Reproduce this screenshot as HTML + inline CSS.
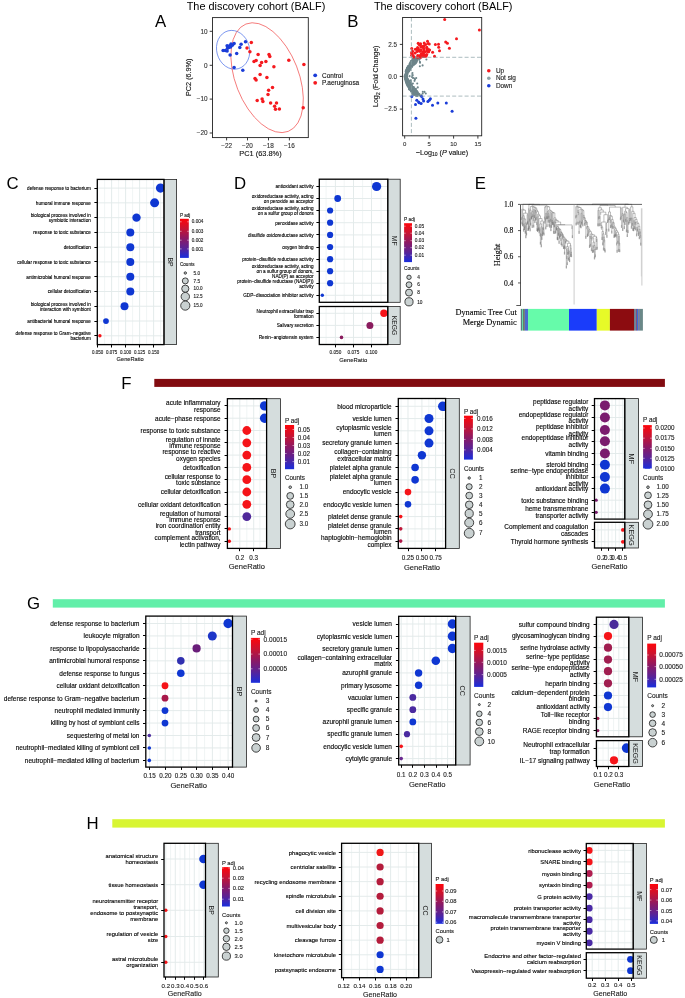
<!DOCTYPE html><html><head><meta charset="utf-8"><style>html,body{margin:0;padding:0;background:#fff;}svg{display:block;}</style></head><body><svg width="685" height="998" viewBox="0 0 685 998" style="will-change:transform"><rect x="0" y="0" width="685" height="998" fill="#fff"/>
<text x="154.90" y="27.10" font-size="16.80" text-anchor="start" fill="#000" font-family="Liberation Sans" >A</text>
<text x="186.70" y="9.90" font-size="10.90" text-anchor="start" fill="#000" font-family="Liberation Sans" >The discovery cohort (BALF)</text>
<ellipse cx="233.1" cy="49.8" rx="16.4" ry="19.6" transform="rotate(-15 233.1 49.8)" fill="none" stroke="#3a62e6" stroke-width="0.6"/>
<ellipse cx="267.1" cy="77.7" rx="57.7" ry="31.6" transform="rotate(68.5 267.1 77.7)" fill="none" stroke="#f03a3a" stroke-width="0.6"/>
<circle cx="251.30" cy="42.50" r="1.75" fill="#f5191e" stroke="none" stroke-width="0.5"/>
<circle cx="247.00" cy="48.00" r="1.75" fill="#f5191e" stroke="none" stroke-width="0.5"/>
<circle cx="249.90" cy="51.80" r="1.75" fill="#f5191e" stroke="none" stroke-width="0.5"/>
<circle cx="258.10" cy="54.50" r="1.75" fill="#f5191e" stroke="none" stroke-width="0.5"/>
<circle cx="269.00" cy="54.50" r="1.75" fill="#f5191e" stroke="none" stroke-width="0.5"/>
<circle cx="269.80" cy="56.40" r="1.75" fill="#f5191e" stroke="none" stroke-width="0.5"/>
<circle cx="254.00" cy="61.50" r="1.75" fill="#f5191e" stroke="none" stroke-width="0.5"/>
<circle cx="256.10" cy="60.60" r="1.75" fill="#f5191e" stroke="none" stroke-width="0.5"/>
<circle cx="261.60" cy="62.60" r="1.75" fill="#f5191e" stroke="none" stroke-width="0.5"/>
<circle cx="265.90" cy="61.50" r="1.75" fill="#f5191e" stroke="none" stroke-width="0.5"/>
<circle cx="260.10" cy="65.50" r="1.75" fill="#f5191e" stroke="none" stroke-width="0.5"/>
<circle cx="273.90" cy="66.70" r="1.75" fill="#f5191e" stroke="none" stroke-width="0.5"/>
<circle cx="288.80" cy="60.30" r="1.75" fill="#f5191e" stroke="none" stroke-width="0.5"/>
<circle cx="303.90" cy="64.60" r="1.75" fill="#f5191e" stroke="none" stroke-width="0.5"/>
<circle cx="260.10" cy="74.50" r="1.75" fill="#f5191e" stroke="none" stroke-width="0.5"/>
<circle cx="255.00" cy="78.40" r="1.75" fill="#f5191e" stroke="none" stroke-width="0.5"/>
<circle cx="256.10" cy="80.10" r="1.75" fill="#f5191e" stroke="none" stroke-width="0.5"/>
<circle cx="266.90" cy="77.60" r="1.75" fill="#f5191e" stroke="none" stroke-width="0.5"/>
<circle cx="272.50" cy="87.40" r="1.75" fill="#f5191e" stroke="none" stroke-width="0.5"/>
<circle cx="268.60" cy="90.30" r="1.75" fill="#f5191e" stroke="none" stroke-width="0.5"/>
<circle cx="268.00" cy="94.40" r="1.75" fill="#f5191e" stroke="none" stroke-width="0.5"/>
<circle cx="257.20" cy="100.40" r="1.75" fill="#f5191e" stroke="none" stroke-width="0.5"/>
<circle cx="262.10" cy="98.90" r="1.75" fill="#f5191e" stroke="none" stroke-width="0.5"/>
<circle cx="262.90" cy="101.40" r="1.75" fill="#f5191e" stroke="none" stroke-width="0.5"/>
<circle cx="270.60" cy="103.00" r="1.75" fill="#f5191e" stroke="none" stroke-width="0.5"/>
<circle cx="276.50" cy="103.00" r="1.75" fill="#f5191e" stroke="none" stroke-width="0.5"/>
<circle cx="274.60" cy="106.30" r="1.75" fill="#f5191e" stroke="none" stroke-width="0.5"/>
<circle cx="275.50" cy="109.20" r="1.75" fill="#f5191e" stroke="none" stroke-width="0.5"/>
<circle cx="279.40" cy="109.00" r="1.75" fill="#f5191e" stroke="none" stroke-width="0.5"/>
<circle cx="303.20" cy="107.80" r="1.75" fill="#f5191e" stroke="none" stroke-width="0.5"/>
<circle cx="223.10" cy="50.50" r="1.75" fill="#1a3cd8" stroke="none" stroke-width="0.5"/>
<circle cx="225.30" cy="50.50" r="1.75" fill="#1a3cd8" stroke="none" stroke-width="0.5"/>
<circle cx="227.10" cy="50.90" r="1.75" fill="#1a3cd8" stroke="none" stroke-width="0.5"/>
<circle cx="227.50" cy="48.30" r="1.75" fill="#1a3cd8" stroke="none" stroke-width="0.5"/>
<circle cx="227.10" cy="45.70" r="1.75" fill="#1a3cd8" stroke="none" stroke-width="0.5"/>
<circle cx="228.80" cy="47.40" r="1.75" fill="#1a3cd8" stroke="none" stroke-width="0.5"/>
<circle cx="229.70" cy="45.70" r="1.75" fill="#1a3cd8" stroke="none" stroke-width="0.5"/>
<circle cx="231.00" cy="43.90" r="1.75" fill="#1a3cd8" stroke="none" stroke-width="0.5"/>
<circle cx="232.30" cy="45.20" r="1.75" fill="#1a3cd8" stroke="none" stroke-width="0.5"/>
<circle cx="234.10" cy="43.50" r="1.75" fill="#1a3cd8" stroke="none" stroke-width="0.5"/>
<circle cx="230.60" cy="47.00" r="1.75" fill="#1a3cd8" stroke="none" stroke-width="0.5"/>
<circle cx="230.10" cy="54.90" r="1.75" fill="#1a3cd8" stroke="none" stroke-width="0.5"/>
<circle cx="236.70" cy="53.50" r="1.75" fill="#1a3cd8" stroke="none" stroke-width="0.5"/>
<circle cx="239.80" cy="47.40" r="1.75" fill="#1a3cd8" stroke="none" stroke-width="0.5"/>
<circle cx="241.10" cy="44.30" r="1.75" fill="#1a3cd8" stroke="none" stroke-width="0.5"/>
<circle cx="245.50" cy="41.70" r="1.75" fill="#1a3cd8" stroke="none" stroke-width="0.5"/>
<circle cx="234.10" cy="67.40" r="1.75" fill="#1a3cd8" stroke="none" stroke-width="0.5"/>
<circle cx="242.80" cy="70.20" r="1.75" fill="#1a3cd8" stroke="none" stroke-width="0.5"/>
<rect x="212.50" y="17.60" width="95.80" height="120.00" fill="none" stroke="#222" stroke-width="0.9" />
<line x1="209.70" y1="31.30" x2="212.50" y2="31.30" stroke="#222" stroke-width="0.9" />
<text x="207.50" y="33.50" font-size="6.40" text-anchor="end" fill="#333" font-family="Liberation Sans" stroke="#333" stroke-width="0.12" >10</text>
<line x1="209.70" y1="65.30" x2="212.50" y2="65.30" stroke="#222" stroke-width="0.9" />
<text x="207.50" y="67.50" font-size="6.40" text-anchor="end" fill="#333" font-family="Liberation Sans" stroke="#333" stroke-width="0.12" >0</text>
<line x1="209.70" y1="99.10" x2="212.50" y2="99.10" stroke="#222" stroke-width="0.9" />
<text x="207.50" y="101.30" font-size="6.40" text-anchor="end" fill="#333" font-family="Liberation Sans" stroke="#333" stroke-width="0.12" >−10</text>
<line x1="209.70" y1="133.00" x2="212.50" y2="133.00" stroke="#222" stroke-width="0.9" />
<text x="207.50" y="135.20" font-size="6.40" text-anchor="end" fill="#333" font-family="Liberation Sans" stroke="#333" stroke-width="0.12" >−20</text>
<line x1="226.60" y1="137.60" x2="226.60" y2="140.40" stroke="#222" stroke-width="0.9" />
<text x="226.60" y="147.80" font-size="6.40" text-anchor="middle" fill="#333" font-family="Liberation Sans" stroke="#333" stroke-width="0.12" >−22</text>
<line x1="247.50" y1="137.60" x2="247.50" y2="140.40" stroke="#222" stroke-width="0.9" />
<text x="247.50" y="147.80" font-size="6.40" text-anchor="middle" fill="#333" font-family="Liberation Sans" stroke="#333" stroke-width="0.12" >−20</text>
<line x1="268.50" y1="137.60" x2="268.50" y2="140.40" stroke="#222" stroke-width="0.9" />
<text x="268.50" y="147.80" font-size="6.40" text-anchor="middle" fill="#333" font-family="Liberation Sans" stroke="#333" stroke-width="0.12" >−18</text>
<line x1="289.40" y1="137.60" x2="289.40" y2="140.40" stroke="#222" stroke-width="0.9" />
<text x="289.40" y="147.80" font-size="6.40" text-anchor="middle" fill="#333" font-family="Liberation Sans" stroke="#333" stroke-width="0.12" >−16</text>
<text x="260.50" y="156.20" font-size="7.40" text-anchor="middle" fill="#111" font-family="Liberation Sans" stroke="#111" stroke-width="0.12" >PC1 (63.8%)</text>
<text x="0" y="0" font-size="7.25" text-anchor="middle" fill="#111" stroke="#111" stroke-width="0.12" font-family="Liberation Sans" transform="translate(191.2 77.3) rotate(-90)">PC2 (6.9%)</text>
<circle cx="315.20" cy="75.30" r="1.90" fill="#1a3cd8" stroke="none" stroke-width="0.5"/>
<circle cx="315.20" cy="82.80" r="1.90" fill="#f5191e" stroke="none" stroke-width="0.5"/>
<text x="322.10" y="77.70" font-size="6.45" text-anchor="start" fill="#111" font-family="Liberation Sans" stroke="#111" stroke-width="0.12" >Control</text>
<text x="322.10" y="84.70" font-size="6.45" text-anchor="start" fill="#111" font-family="Liberation Sans" stroke="#111" stroke-width="0.12" >P.aeruginosa</text>
<text x="347.20" y="27.10" font-size="16.80" text-anchor="start" fill="#000" font-family="Liberation Sans" >B</text>
<text x="373.90" y="9.90" font-size="10.90" text-anchor="start" fill="#000" font-family="Liberation Sans" >The discovery cohort (BALF)</text>
<circle cx="406.78" cy="83.25" r="1.05" fill="#6e858a" stroke="none" stroke-width="0.5"/>
<circle cx="415.69" cy="93.02" r="1.05" fill="#6e858a" stroke="none" stroke-width="0.5"/>
<circle cx="422.69" cy="93.59" r="1.05" fill="#6e858a" stroke="none" stroke-width="0.5"/>
<circle cx="412.67" cy="93.12" r="1.05" fill="#6e858a" stroke="none" stroke-width="0.5"/>
<circle cx="409.89" cy="63.69" r="1.05" fill="#6e858a" stroke="none" stroke-width="0.5"/>
<circle cx="408.79" cy="71.45" r="1.05" fill="#6e858a" stroke="none" stroke-width="0.5"/>
<circle cx="408.35" cy="80.42" r="1.05" fill="#6e858a" stroke="none" stroke-width="0.5"/>
<circle cx="411.77" cy="62.46" r="1.05" fill="#6e858a" stroke="none" stroke-width="0.5"/>
<circle cx="412.61" cy="91.26" r="1.05" fill="#6e858a" stroke="none" stroke-width="0.5"/>
<circle cx="412.30" cy="88.81" r="1.05" fill="#6e858a" stroke="none" stroke-width="0.5"/>
<circle cx="407.41" cy="81.36" r="1.05" fill="#6e858a" stroke="none" stroke-width="0.5"/>
<circle cx="413.82" cy="93.52" r="1.05" fill="#6e858a" stroke="none" stroke-width="0.5"/>
<circle cx="405.88" cy="79.22" r="1.05" fill="#6e858a" stroke="none" stroke-width="0.5"/>
<circle cx="405.58" cy="78.22" r="1.05" fill="#6e858a" stroke="none" stroke-width="0.5"/>
<circle cx="407.58" cy="68.66" r="1.05" fill="#6e858a" stroke="none" stroke-width="0.5"/>
<circle cx="406.71" cy="75.42" r="1.05" fill="#6e858a" stroke="none" stroke-width="0.5"/>
<circle cx="411.10" cy="84.64" r="1.05" fill="#6e858a" stroke="none" stroke-width="0.5"/>
<circle cx="407.27" cy="79.58" r="1.05" fill="#6e858a" stroke="none" stroke-width="0.5"/>
<circle cx="404.79" cy="76.83" r="1.05" fill="#6e858a" stroke="none" stroke-width="0.5"/>
<circle cx="410.65" cy="66.11" r="1.05" fill="#6e858a" stroke="none" stroke-width="0.5"/>
<circle cx="409.20" cy="83.64" r="1.05" fill="#6e858a" stroke="none" stroke-width="0.5"/>
<circle cx="406.37" cy="73.29" r="1.05" fill="#6e858a" stroke="none" stroke-width="0.5"/>
<circle cx="415.88" cy="59.11" r="1.05" fill="#6e858a" stroke="none" stroke-width="0.5"/>
<circle cx="417.30" cy="93.48" r="1.05" fill="#6e858a" stroke="none" stroke-width="0.5"/>
<circle cx="420.43" cy="57.23" r="1.05" fill="#6e858a" stroke="none" stroke-width="0.5"/>
<circle cx="414.52" cy="80.84" r="1.05" fill="#6e858a" stroke="none" stroke-width="0.5"/>
<circle cx="409.99" cy="89.31" r="1.05" fill="#6e858a" stroke="none" stroke-width="0.5"/>
<circle cx="408.49" cy="65.97" r="1.05" fill="#6e858a" stroke="none" stroke-width="0.5"/>
<circle cx="408.13" cy="80.64" r="1.05" fill="#6e858a" stroke="none" stroke-width="0.5"/>
<circle cx="406.26" cy="78.38" r="1.05" fill="#6e858a" stroke="none" stroke-width="0.5"/>
<circle cx="413.91" cy="63.99" r="1.05" fill="#6e858a" stroke="none" stroke-width="0.5"/>
<circle cx="406.15" cy="79.69" r="1.05" fill="#6e858a" stroke="none" stroke-width="0.5"/>
<circle cx="414.01" cy="58.60" r="1.05" fill="#6e858a" stroke="none" stroke-width="0.5"/>
<circle cx="409.02" cy="86.82" r="1.05" fill="#6e858a" stroke="none" stroke-width="0.5"/>
<circle cx="412.45" cy="72.93" r="1.05" fill="#6e858a" stroke="none" stroke-width="0.5"/>
<circle cx="407.53" cy="81.48" r="1.05" fill="#6e858a" stroke="none" stroke-width="0.5"/>
<circle cx="408.55" cy="68.99" r="1.05" fill="#6e858a" stroke="none" stroke-width="0.5"/>
<circle cx="406.39" cy="69.55" r="1.05" fill="#6e858a" stroke="none" stroke-width="0.5"/>
<circle cx="412.66" cy="65.51" r="1.05" fill="#6e858a" stroke="none" stroke-width="0.5"/>
<circle cx="406.59" cy="80.58" r="1.05" fill="#6e858a" stroke="none" stroke-width="0.5"/>
<circle cx="405.82" cy="71.18" r="1.05" fill="#6e858a" stroke="none" stroke-width="0.5"/>
<circle cx="409.21" cy="87.72" r="1.05" fill="#6e858a" stroke="none" stroke-width="0.5"/>
<circle cx="412.58" cy="93.80" r="1.05" fill="#6e858a" stroke="none" stroke-width="0.5"/>
<circle cx="424.47" cy="91.90" r="1.05" fill="#6e858a" stroke="none" stroke-width="0.5"/>
<circle cx="405.86" cy="71.96" r="1.05" fill="#6e858a" stroke="none" stroke-width="0.5"/>
<circle cx="407.20" cy="82.33" r="1.05" fill="#6e858a" stroke="none" stroke-width="0.5"/>
<circle cx="415.73" cy="62.83" r="1.05" fill="#6e858a" stroke="none" stroke-width="0.5"/>
<circle cx="404.90" cy="77.03" r="1.05" fill="#6e858a" stroke="none" stroke-width="0.5"/>
<circle cx="406.91" cy="82.52" r="1.05" fill="#6e858a" stroke="none" stroke-width="0.5"/>
<circle cx="409.60" cy="89.56" r="1.05" fill="#6e858a" stroke="none" stroke-width="0.5"/>
<circle cx="405.09" cy="75.30" r="1.05" fill="#6e858a" stroke="none" stroke-width="0.5"/>
<circle cx="417.36" cy="94.79" r="1.05" fill="#6e858a" stroke="none" stroke-width="0.5"/>
<circle cx="414.44" cy="62.27" r="1.05" fill="#6e858a" stroke="none" stroke-width="0.5"/>
<circle cx="406.18" cy="81.58" r="1.05" fill="#6e858a" stroke="none" stroke-width="0.5"/>
<circle cx="406.59" cy="75.13" r="1.05" fill="#6e858a" stroke="none" stroke-width="0.5"/>
<circle cx="412.24" cy="87.17" r="1.05" fill="#6e858a" stroke="none" stroke-width="0.5"/>
<circle cx="414.73" cy="62.69" r="1.05" fill="#6e858a" stroke="none" stroke-width="0.5"/>
<circle cx="408.34" cy="67.07" r="1.05" fill="#6e858a" stroke="none" stroke-width="0.5"/>
<circle cx="411.00" cy="82.02" r="1.05" fill="#6e858a" stroke="none" stroke-width="0.5"/>
<circle cx="410.59" cy="85.76" r="1.05" fill="#6e858a" stroke="none" stroke-width="0.5"/>
<circle cx="407.28" cy="78.45" r="1.05" fill="#6e858a" stroke="none" stroke-width="0.5"/>
<circle cx="415.47" cy="58.71" r="1.05" fill="#6e858a" stroke="none" stroke-width="0.5"/>
<circle cx="408.95" cy="87.02" r="1.05" fill="#6e858a" stroke="none" stroke-width="0.5"/>
<circle cx="408.55" cy="71.58" r="1.05" fill="#6e858a" stroke="none" stroke-width="0.5"/>
<circle cx="406.16" cy="77.20" r="1.05" fill="#6e858a" stroke="none" stroke-width="0.5"/>
<circle cx="416.09" cy="92.54" r="1.05" fill="#6e858a" stroke="none" stroke-width="0.5"/>
<circle cx="412.08" cy="65.42" r="1.05" fill="#6e858a" stroke="none" stroke-width="0.5"/>
<circle cx="413.56" cy="88.90" r="1.05" fill="#6e858a" stroke="none" stroke-width="0.5"/>
<circle cx="413.87" cy="64.70" r="1.05" fill="#6e858a" stroke="none" stroke-width="0.5"/>
<circle cx="408.16" cy="80.23" r="1.05" fill="#6e858a" stroke="none" stroke-width="0.5"/>
<circle cx="409.99" cy="89.23" r="1.05" fill="#6e858a" stroke="none" stroke-width="0.5"/>
<circle cx="416.68" cy="60.66" r="1.05" fill="#6e858a" stroke="none" stroke-width="0.5"/>
<circle cx="414.83" cy="63.71" r="1.05" fill="#6e858a" stroke="none" stroke-width="0.5"/>
<circle cx="407.83" cy="82.22" r="1.05" fill="#6e858a" stroke="none" stroke-width="0.5"/>
<circle cx="421.25" cy="95.29" r="1.05" fill="#6e858a" stroke="none" stroke-width="0.5"/>
<circle cx="406.86" cy="75.37" r="1.05" fill="#6e858a" stroke="none" stroke-width="0.5"/>
<circle cx="415.55" cy="61.95" r="1.05" fill="#6e858a" stroke="none" stroke-width="0.5"/>
<circle cx="408.85" cy="86.05" r="1.05" fill="#6e858a" stroke="none" stroke-width="0.5"/>
<circle cx="405.88" cy="73.04" r="1.05" fill="#6e858a" stroke="none" stroke-width="0.5"/>
<circle cx="415.97" cy="90.74" r="1.05" fill="#6e858a" stroke="none" stroke-width="0.5"/>
<circle cx="406.24" cy="78.03" r="1.05" fill="#6e858a" stroke="none" stroke-width="0.5"/>
<circle cx="407.69" cy="79.49" r="1.05" fill="#6e858a" stroke="none" stroke-width="0.5"/>
<circle cx="412.72" cy="75.16" r="1.05" fill="#6e858a" stroke="none" stroke-width="0.5"/>
<circle cx="408.95" cy="88.72" r="1.05" fill="#6e858a" stroke="none" stroke-width="0.5"/>
<circle cx="411.94" cy="89.14" r="1.05" fill="#6e858a" stroke="none" stroke-width="0.5"/>
<circle cx="405.74" cy="74.20" r="1.05" fill="#6e858a" stroke="none" stroke-width="0.5"/>
<circle cx="406.92" cy="74.24" r="1.05" fill="#6e858a" stroke="none" stroke-width="0.5"/>
<circle cx="405.57" cy="74.06" r="1.05" fill="#6e858a" stroke="none" stroke-width="0.5"/>
<circle cx="410.53" cy="65.81" r="1.05" fill="#6e858a" stroke="none" stroke-width="0.5"/>
<circle cx="412.22" cy="66.29" r="1.05" fill="#6e858a" stroke="none" stroke-width="0.5"/>
<circle cx="407.01" cy="72.02" r="1.05" fill="#6e858a" stroke="none" stroke-width="0.5"/>
<circle cx="408.33" cy="68.91" r="1.05" fill="#6e858a" stroke="none" stroke-width="0.5"/>
<circle cx="406.81" cy="77.25" r="1.05" fill="#6e858a" stroke="none" stroke-width="0.5"/>
<circle cx="416.47" cy="61.76" r="1.05" fill="#6e858a" stroke="none" stroke-width="0.5"/>
<circle cx="407.41" cy="74.09" r="1.05" fill="#6e858a" stroke="none" stroke-width="0.5"/>
<circle cx="410.86" cy="90.51" r="1.05" fill="#6e858a" stroke="none" stroke-width="0.5"/>
<circle cx="413.63" cy="93.02" r="1.05" fill="#6e858a" stroke="none" stroke-width="0.5"/>
<circle cx="409.16" cy="69.81" r="1.05" fill="#6e858a" stroke="none" stroke-width="0.5"/>
<circle cx="413.94" cy="89.84" r="1.05" fill="#6e858a" stroke="none" stroke-width="0.5"/>
<circle cx="415.36" cy="90.28" r="1.05" fill="#6e858a" stroke="none" stroke-width="0.5"/>
<circle cx="413.08" cy="87.30" r="1.05" fill="#6e858a" stroke="none" stroke-width="0.5"/>
<circle cx="406.79" cy="76.90" r="1.05" fill="#6e858a" stroke="none" stroke-width="0.5"/>
<circle cx="412.02" cy="89.56" r="1.05" fill="#6e858a" stroke="none" stroke-width="0.5"/>
<circle cx="406.70" cy="82.66" r="1.05" fill="#6e858a" stroke="none" stroke-width="0.5"/>
<circle cx="407.02" cy="67.76" r="1.05" fill="#6e858a" stroke="none" stroke-width="0.5"/>
<circle cx="404.96" cy="78.71" r="1.05" fill="#6e858a" stroke="none" stroke-width="0.5"/>
<circle cx="407.22" cy="71.58" r="1.05" fill="#6e858a" stroke="none" stroke-width="0.5"/>
<circle cx="419.83" cy="57.54" r="1.05" fill="#6e858a" stroke="none" stroke-width="0.5"/>
<circle cx="422.79" cy="91.77" r="1.05" fill="#6e858a" stroke="none" stroke-width="0.5"/>
<circle cx="407.67" cy="85.33" r="1.05" fill="#6e858a" stroke="none" stroke-width="0.5"/>
<circle cx="417.02" cy="60.40" r="1.05" fill="#6e858a" stroke="none" stroke-width="0.5"/>
<circle cx="415.35" cy="90.03" r="1.05" fill="#6e858a" stroke="none" stroke-width="0.5"/>
<circle cx="406.94" cy="68.61" r="1.05" fill="#6e858a" stroke="none" stroke-width="0.5"/>
<circle cx="408.12" cy="69.08" r="1.05" fill="#6e858a" stroke="none" stroke-width="0.5"/>
<circle cx="416.79" cy="59.36" r="1.05" fill="#6e858a" stroke="none" stroke-width="0.5"/>
<circle cx="417.46" cy="92.58" r="1.05" fill="#6e858a" stroke="none" stroke-width="0.5"/>
<circle cx="412.91" cy="62.30" r="1.05" fill="#6e858a" stroke="none" stroke-width="0.5"/>
<circle cx="407.25" cy="74.34" r="1.05" fill="#6e858a" stroke="none" stroke-width="0.5"/>
<circle cx="413.63" cy="90.82" r="1.05" fill="#6e858a" stroke="none" stroke-width="0.5"/>
<circle cx="411.92" cy="91.58" r="1.05" fill="#6e858a" stroke="none" stroke-width="0.5"/>
<circle cx="410.19" cy="88.00" r="1.05" fill="#6e858a" stroke="none" stroke-width="0.5"/>
<circle cx="409.10" cy="66.31" r="1.05" fill="#6e858a" stroke="none" stroke-width="0.5"/>
<circle cx="415.93" cy="88.92" r="1.05" fill="#6e858a" stroke="none" stroke-width="0.5"/>
<circle cx="419.39" cy="95.24" r="1.05" fill="#6e858a" stroke="none" stroke-width="0.5"/>
<circle cx="411.43" cy="88.47" r="1.05" fill="#6e858a" stroke="none" stroke-width="0.5"/>
<circle cx="416.33" cy="91.71" r="1.05" fill="#6e858a" stroke="none" stroke-width="0.5"/>
<circle cx="406.38" cy="76.59" r="1.05" fill="#6e858a" stroke="none" stroke-width="0.5"/>
<circle cx="406.10" cy="76.14" r="1.05" fill="#6e858a" stroke="none" stroke-width="0.5"/>
<circle cx="409.06" cy="82.52" r="1.05" fill="#6e858a" stroke="none" stroke-width="0.5"/>
<circle cx="407.06" cy="71.11" r="1.05" fill="#6e858a" stroke="none" stroke-width="0.5"/>
<circle cx="413.45" cy="93.73" r="1.05" fill="#6e858a" stroke="none" stroke-width="0.5"/>
<circle cx="408.50" cy="67.03" r="1.05" fill="#6e858a" stroke="none" stroke-width="0.5"/>
<circle cx="417.33" cy="92.56" r="1.05" fill="#6e858a" stroke="none" stroke-width="0.5"/>
<circle cx="407.20" cy="69.77" r="1.05" fill="#6e858a" stroke="none" stroke-width="0.5"/>
<circle cx="408.68" cy="84.45" r="1.05" fill="#6e858a" stroke="none" stroke-width="0.5"/>
<circle cx="405.56" cy="78.51" r="1.05" fill="#6e858a" stroke="none" stroke-width="0.5"/>
<circle cx="417.49" cy="58.02" r="1.05" fill="#6e858a" stroke="none" stroke-width="0.5"/>
<circle cx="415.45" cy="58.29" r="1.05" fill="#6e858a" stroke="none" stroke-width="0.5"/>
<circle cx="417.26" cy="95.80" r="1.05" fill="#6e858a" stroke="none" stroke-width="0.5"/>
<circle cx="405.10" cy="76.29" r="1.05" fill="#6e858a" stroke="none" stroke-width="0.5"/>
<circle cx="416.20" cy="95.65" r="1.05" fill="#6e858a" stroke="none" stroke-width="0.5"/>
<circle cx="410.78" cy="80.31" r="1.05" fill="#6e858a" stroke="none" stroke-width="0.5"/>
<circle cx="410.79" cy="86.79" r="1.05" fill="#6e858a" stroke="none" stroke-width="0.5"/>
<circle cx="410.69" cy="66.66" r="1.05" fill="#6e858a" stroke="none" stroke-width="0.5"/>
<circle cx="413.03" cy="61.66" r="1.05" fill="#6e858a" stroke="none" stroke-width="0.5"/>
<circle cx="414.94" cy="57.55" r="1.05" fill="#6e858a" stroke="none" stroke-width="0.5"/>
<circle cx="405.87" cy="70.83" r="1.05" fill="#6e858a" stroke="none" stroke-width="0.5"/>
<circle cx="415.01" cy="61.16" r="1.05" fill="#6e858a" stroke="none" stroke-width="0.5"/>
<circle cx="409.60" cy="64.26" r="1.05" fill="#6e858a" stroke="none" stroke-width="0.5"/>
<circle cx="406.37" cy="76.23" r="1.05" fill="#6e858a" stroke="none" stroke-width="0.5"/>
<circle cx="412.54" cy="63.71" r="1.05" fill="#6e858a" stroke="none" stroke-width="0.5"/>
<circle cx="409.11" cy="69.29" r="1.05" fill="#6e858a" stroke="none" stroke-width="0.5"/>
<circle cx="414.26" cy="94.63" r="1.05" fill="#6e858a" stroke="none" stroke-width="0.5"/>
<circle cx="416.49" cy="91.76" r="1.05" fill="#6e858a" stroke="none" stroke-width="0.5"/>
<circle cx="407.68" cy="71.43" r="1.05" fill="#6e858a" stroke="none" stroke-width="0.5"/>
<circle cx="404.72" cy="76.82" r="1.05" fill="#6e858a" stroke="none" stroke-width="0.5"/>
<circle cx="409.87" cy="66.75" r="1.05" fill="#6e858a" stroke="none" stroke-width="0.5"/>
<circle cx="406.18" cy="70.21" r="1.05" fill="#6e858a" stroke="none" stroke-width="0.5"/>
<circle cx="407.78" cy="86.03" r="1.05" fill="#6e858a" stroke="none" stroke-width="0.5"/>
<circle cx="408.02" cy="67.48" r="1.05" fill="#6e858a" stroke="none" stroke-width="0.5"/>
<circle cx="417.21" cy="57.90" r="1.05" fill="#6e858a" stroke="none" stroke-width="0.5"/>
<circle cx="406.23" cy="77.22" r="1.05" fill="#6e858a" stroke="none" stroke-width="0.5"/>
<circle cx="407.54" cy="71.85" r="1.05" fill="#6e858a" stroke="none" stroke-width="0.5"/>
<circle cx="411.37" cy="90.11" r="1.05" fill="#6e858a" stroke="none" stroke-width="0.5"/>
<circle cx="411.92" cy="84.00" r="1.05" fill="#6e858a" stroke="none" stroke-width="0.5"/>
<circle cx="410.23" cy="85.39" r="1.05" fill="#6e858a" stroke="none" stroke-width="0.5"/>
<circle cx="407.33" cy="69.57" r="1.05" fill="#6e858a" stroke="none" stroke-width="0.5"/>
<circle cx="405.88" cy="77.77" r="1.05" fill="#6e858a" stroke="none" stroke-width="0.5"/>
<circle cx="412.26" cy="61.09" r="1.05" fill="#6e858a" stroke="none" stroke-width="0.5"/>
<circle cx="412.35" cy="59.44" r="1.05" fill="#6e858a" stroke="none" stroke-width="0.5"/>
<circle cx="414.52" cy="63.96" r="1.05" fill="#6e858a" stroke="none" stroke-width="0.5"/>
<circle cx="408.08" cy="85.39" r="1.05" fill="#6e858a" stroke="none" stroke-width="0.5"/>
<circle cx="411.40" cy="87.65" r="1.05" fill="#6e858a" stroke="none" stroke-width="0.5"/>
<circle cx="406.87" cy="75.46" r="1.05" fill="#6e858a" stroke="none" stroke-width="0.5"/>
<circle cx="411.91" cy="63.95" r="1.05" fill="#6e858a" stroke="none" stroke-width="0.5"/>
<circle cx="407.61" cy="68.49" r="1.05" fill="#6e858a" stroke="none" stroke-width="0.5"/>
<circle cx="412.01" cy="76.94" r="1.05" fill="#6e858a" stroke="none" stroke-width="0.5"/>
<circle cx="405.61" cy="78.31" r="1.05" fill="#6e858a" stroke="none" stroke-width="0.5"/>
<circle cx="407.08" cy="82.47" r="1.05" fill="#6e858a" stroke="none" stroke-width="0.5"/>
<circle cx="420.10" cy="95.77" r="1.05" fill="#6e858a" stroke="none" stroke-width="0.5"/>
<circle cx="416.50" cy="91.17" r="1.05" fill="#6e858a" stroke="none" stroke-width="0.5"/>
<circle cx="413.11" cy="60.79" r="1.05" fill="#6e858a" stroke="none" stroke-width="0.5"/>
<circle cx="408.50" cy="80.56" r="1.05" fill="#6e858a" stroke="none" stroke-width="0.5"/>
<circle cx="407.20" cy="81.82" r="1.05" fill="#6e858a" stroke="none" stroke-width="0.5"/>
<circle cx="413.45" cy="93.96" r="1.05" fill="#6e858a" stroke="none" stroke-width="0.5"/>
<circle cx="410.97" cy="84.73" r="1.05" fill="#6e858a" stroke="none" stroke-width="0.5"/>
<circle cx="409.56" cy="85.51" r="1.05" fill="#6e858a" stroke="none" stroke-width="0.5"/>
<circle cx="408.80" cy="81.32" r="1.05" fill="#6e858a" stroke="none" stroke-width="0.5"/>
<circle cx="412.35" cy="64.27" r="1.05" fill="#6e858a" stroke="none" stroke-width="0.5"/>
<circle cx="416.27" cy="59.27" r="1.05" fill="#6e858a" stroke="none" stroke-width="0.5"/>
<circle cx="417.97" cy="93.92" r="1.05" fill="#6e858a" stroke="none" stroke-width="0.5"/>
<circle cx="410.68" cy="66.58" r="1.05" fill="#6e858a" stroke="none" stroke-width="0.5"/>
<circle cx="419.39" cy="93.94" r="1.05" fill="#6e858a" stroke="none" stroke-width="0.5"/>
<circle cx="405.54" cy="77.48" r="1.05" fill="#6e858a" stroke="none" stroke-width="0.5"/>
<circle cx="411.89" cy="67.11" r="1.05" fill="#6e858a" stroke="none" stroke-width="0.5"/>
<circle cx="407.02" cy="70.33" r="1.05" fill="#6e858a" stroke="none" stroke-width="0.5"/>
<circle cx="405.82" cy="80.51" r="1.05" fill="#6e858a" stroke="none" stroke-width="0.5"/>
<circle cx="413.22" cy="87.76" r="1.05" fill="#6e858a" stroke="none" stroke-width="0.5"/>
<circle cx="412.83" cy="87.29" r="1.05" fill="#6e858a" stroke="none" stroke-width="0.5"/>
<circle cx="405.21" cy="78.35" r="1.05" fill="#6e858a" stroke="none" stroke-width="0.5"/>
<circle cx="413.71" cy="92.31" r="1.05" fill="#6e858a" stroke="none" stroke-width="0.5"/>
<circle cx="408.98" cy="86.54" r="1.05" fill="#6e858a" stroke="none" stroke-width="0.5"/>
<circle cx="415.64" cy="61.34" r="1.05" fill="#6e858a" stroke="none" stroke-width="0.5"/>
<circle cx="406.66" cy="79.75" r="1.05" fill="#6e858a" stroke="none" stroke-width="0.5"/>
<circle cx="406.20" cy="82.69" r="1.05" fill="#6e858a" stroke="none" stroke-width="0.5"/>
<circle cx="414.16" cy="58.22" r="1.05" fill="#6e858a" stroke="none" stroke-width="0.5"/>
<circle cx="408.54" cy="71.36" r="1.05" fill="#6e858a" stroke="none" stroke-width="0.5"/>
<circle cx="408.21" cy="85.30" r="1.05" fill="#6e858a" stroke="none" stroke-width="0.5"/>
<circle cx="407.34" cy="78.51" r="1.05" fill="#6e858a" stroke="none" stroke-width="0.5"/>
<circle cx="419.88" cy="61.90" r="1.05" fill="#6e858a" stroke="none" stroke-width="0.5"/>
<circle cx="414.13" cy="61.02" r="1.05" fill="#6e858a" stroke="none" stroke-width="0.5"/>
<circle cx="417.37" cy="95.83" r="1.05" fill="#6e858a" stroke="none" stroke-width="0.5"/>
<circle cx="414.08" cy="63.74" r="1.05" fill="#6e858a" stroke="none" stroke-width="0.5"/>
<circle cx="408.03" cy="86.18" r="1.05" fill="#6e858a" stroke="none" stroke-width="0.5"/>
<circle cx="406.25" cy="75.53" r="1.05" fill="#6e858a" stroke="none" stroke-width="0.5"/>
<circle cx="409.87" cy="67.78" r="1.05" fill="#6e858a" stroke="none" stroke-width="0.5"/>
<circle cx="416.24" cy="78.06" r="1.05" fill="#6e858a" stroke="none" stroke-width="0.5"/>
<circle cx="412.50" cy="86.80" r="1.05" fill="#6e858a" stroke="none" stroke-width="0.5"/>
<circle cx="407.03" cy="84.03" r="1.05" fill="#6e858a" stroke="none" stroke-width="0.5"/>
<circle cx="408.11" cy="71.10" r="1.05" fill="#6e858a" stroke="none" stroke-width="0.5"/>
<circle cx="415.68" cy="93.10" r="1.05" fill="#6e858a" stroke="none" stroke-width="0.5"/>
<circle cx="406.08" cy="80.75" r="1.05" fill="#6e858a" stroke="none" stroke-width="0.5"/>
<circle cx="416.28" cy="95.43" r="1.05" fill="#6e858a" stroke="none" stroke-width="0.5"/>
<circle cx="417.67" cy="58.56" r="1.05" fill="#6e858a" stroke="none" stroke-width="0.5"/>
<circle cx="405.27" cy="77.36" r="1.05" fill="#6e858a" stroke="none" stroke-width="0.5"/>
<circle cx="418.17" cy="58.49" r="1.05" fill="#6e858a" stroke="none" stroke-width="0.5"/>
<circle cx="417.34" cy="94.99" r="1.05" fill="#6e858a" stroke="none" stroke-width="0.5"/>
<circle cx="405.80" cy="79.51" r="1.05" fill="#6e858a" stroke="none" stroke-width="0.5"/>
<circle cx="419.20" cy="59.87" r="1.05" fill="#6e858a" stroke="none" stroke-width="0.5"/>
<circle cx="407.02" cy="79.49" r="1.05" fill="#6e858a" stroke="none" stroke-width="0.5"/>
<circle cx="412.48" cy="64.85" r="1.05" fill="#6e858a" stroke="none" stroke-width="0.5"/>
<circle cx="413.66" cy="87.86" r="1.05" fill="#6e858a" stroke="none" stroke-width="0.5"/>
<circle cx="410.32" cy="63.96" r="1.05" fill="#6e858a" stroke="none" stroke-width="0.5"/>
<circle cx="409.15" cy="66.27" r="1.05" fill="#6e858a" stroke="none" stroke-width="0.5"/>
<circle cx="405.08" cy="76.56" r="1.05" fill="#6e858a" stroke="none" stroke-width="0.5"/>
<circle cx="407.02" cy="79.63" r="1.05" fill="#6e858a" stroke="none" stroke-width="0.5"/>
<circle cx="412.25" cy="90.15" r="1.05" fill="#6e858a" stroke="none" stroke-width="0.5"/>
<circle cx="414.51" cy="57.97" r="1.05" fill="#6e858a" stroke="none" stroke-width="0.5"/>
<circle cx="415.13" cy="93.50" r="1.05" fill="#6e858a" stroke="none" stroke-width="0.5"/>
<circle cx="415.39" cy="61.49" r="1.05" fill="#6e858a" stroke="none" stroke-width="0.5"/>
<circle cx="414.39" cy="59.62" r="1.05" fill="#6e858a" stroke="none" stroke-width="0.5"/>
<circle cx="426.40" cy="59.45" r="1.05" fill="#6e858a" stroke="none" stroke-width="0.5"/>
<circle cx="406.71" cy="81.12" r="1.05" fill="#6e858a" stroke="none" stroke-width="0.5"/>
<circle cx="409.29" cy="89.26" r="1.05" fill="#6e858a" stroke="none" stroke-width="0.5"/>
<circle cx="409.31" cy="82.17" r="1.05" fill="#6e858a" stroke="none" stroke-width="0.5"/>
<circle cx="414.65" cy="58.35" r="1.05" fill="#6e858a" stroke="none" stroke-width="0.5"/>
<circle cx="413.75" cy="63.90" r="1.05" fill="#6e858a" stroke="none" stroke-width="0.5"/>
<circle cx="416.10" cy="93.92" r="1.05" fill="#6e858a" stroke="none" stroke-width="0.5"/>
<circle cx="413.04" cy="60.09" r="1.05" fill="#6e858a" stroke="none" stroke-width="0.5"/>
<circle cx="411.25" cy="60.96" r="1.05" fill="#6e858a" stroke="none" stroke-width="0.5"/>
<circle cx="413.11" cy="64.28" r="1.05" fill="#6e858a" stroke="none" stroke-width="0.5"/>
<circle cx="413.61" cy="94.48" r="1.05" fill="#6e858a" stroke="none" stroke-width="0.5"/>
<circle cx="410.91" cy="85.85" r="1.05" fill="#6e858a" stroke="none" stroke-width="0.5"/>
<circle cx="406.99" cy="82.66" r="1.05" fill="#6e858a" stroke="none" stroke-width="0.5"/>
<circle cx="406.27" cy="71.85" r="1.05" fill="#6e858a" stroke="none" stroke-width="0.5"/>
<circle cx="417.23" cy="83.54" r="1.05" fill="#6e858a" stroke="none" stroke-width="0.5"/>
<circle cx="415.95" cy="60.21" r="1.05" fill="#6e858a" stroke="none" stroke-width="0.5"/>
<circle cx="415.25" cy="94.90" r="1.05" fill="#6e858a" stroke="none" stroke-width="0.5"/>
<circle cx="419.84" cy="58.64" r="1.05" fill="#6e858a" stroke="none" stroke-width="0.5"/>
<circle cx="409.53" cy="86.08" r="1.05" fill="#6e858a" stroke="none" stroke-width="0.5"/>
<circle cx="413.25" cy="59.76" r="1.05" fill="#6e858a" stroke="none" stroke-width="0.5"/>
<circle cx="411.14" cy="67.13" r="1.05" fill="#6e858a" stroke="none" stroke-width="0.5"/>
<circle cx="406.35" cy="72.23" r="1.05" fill="#6e858a" stroke="none" stroke-width="0.5"/>
<circle cx="408.44" cy="81.77" r="1.05" fill="#6e858a" stroke="none" stroke-width="0.5"/>
<circle cx="412.74" cy="88.17" r="1.05" fill="#6e858a" stroke="none" stroke-width="0.5"/>
<circle cx="412.43" cy="93.32" r="1.05" fill="#6e858a" stroke="none" stroke-width="0.5"/>
<circle cx="410.06" cy="83.17" r="1.05" fill="#6e858a" stroke="none" stroke-width="0.5"/>
<circle cx="415.93" cy="57.43" r="1.05" fill="#6e858a" stroke="none" stroke-width="0.5"/>
<circle cx="414.57" cy="92.09" r="1.05" fill="#6e858a" stroke="none" stroke-width="0.5"/>
<circle cx="405.47" cy="78.46" r="1.05" fill="#6e858a" stroke="none" stroke-width="0.5"/>
<circle cx="407.71" cy="71.72" r="1.05" fill="#6e858a" stroke="none" stroke-width="0.5"/>
<circle cx="413.68" cy="62.91" r="1.05" fill="#6e858a" stroke="none" stroke-width="0.5"/>
<circle cx="411.27" cy="63.15" r="1.05" fill="#6e858a" stroke="none" stroke-width="0.5"/>
<circle cx="408.06" cy="81.34" r="1.05" fill="#6e858a" stroke="none" stroke-width="0.5"/>
<circle cx="408.72" cy="86.22" r="1.05" fill="#6e858a" stroke="none" stroke-width="0.5"/>
<circle cx="414.42" cy="61.46" r="1.05" fill="#6e858a" stroke="none" stroke-width="0.5"/>
<circle cx="408.41" cy="80.44" r="1.05" fill="#6e858a" stroke="none" stroke-width="0.5"/>
<circle cx="411.96" cy="86.84" r="1.05" fill="#6e858a" stroke="none" stroke-width="0.5"/>
<circle cx="414.80" cy="57.31" r="1.05" fill="#6e858a" stroke="none" stroke-width="0.5"/>
<circle cx="413.77" cy="63.99" r="1.05" fill="#6e858a" stroke="none" stroke-width="0.5"/>
<circle cx="415.12" cy="94.27" r="1.05" fill="#6e858a" stroke="none" stroke-width="0.5"/>
<circle cx="414.22" cy="88.47" r="1.05" fill="#6e858a" stroke="none" stroke-width="0.5"/>
<circle cx="414.64" cy="59.67" r="1.05" fill="#6e858a" stroke="none" stroke-width="0.5"/>
<circle cx="405.52" cy="78.38" r="1.05" fill="#6e858a" stroke="none" stroke-width="0.5"/>
<circle cx="413.28" cy="59.07" r="1.05" fill="#6e858a" stroke="none" stroke-width="0.5"/>
<circle cx="406.17" cy="71.74" r="1.05" fill="#6e858a" stroke="none" stroke-width="0.5"/>
<circle cx="411.24" cy="90.34" r="1.05" fill="#6e858a" stroke="none" stroke-width="0.5"/>
<circle cx="407.26" cy="72.53" r="1.05" fill="#6e858a" stroke="none" stroke-width="0.5"/>
<circle cx="416.44" cy="95.40" r="1.05" fill="#6e858a" stroke="none" stroke-width="0.5"/>
<circle cx="410.64" cy="88.64" r="1.05" fill="#6e858a" stroke="none" stroke-width="0.5"/>
<circle cx="411.39" cy="64.92" r="1.05" fill="#6e858a" stroke="none" stroke-width="0.5"/>
<circle cx="413.71" cy="91.90" r="1.05" fill="#6e858a" stroke="none" stroke-width="0.5"/>
<circle cx="405.99" cy="70.99" r="1.05" fill="#6e858a" stroke="none" stroke-width="0.5"/>
<circle cx="408.21" cy="68.80" r="1.05" fill="#6e858a" stroke="none" stroke-width="0.5"/>
<circle cx="410.43" cy="83.88" r="1.05" fill="#6e858a" stroke="none" stroke-width="0.5"/>
<circle cx="405.93" cy="73.81" r="1.05" fill="#6e858a" stroke="none" stroke-width="0.5"/>
<circle cx="416.34" cy="62.24" r="1.05" fill="#6e858a" stroke="none" stroke-width="0.5"/>
<circle cx="412.60" cy="88.17" r="1.05" fill="#6e858a" stroke="none" stroke-width="0.5"/>
<circle cx="421.09" cy="95.61" r="1.05" fill="#6e858a" stroke="none" stroke-width="0.5"/>
<circle cx="411.33" cy="63.94" r="1.05" fill="#6e858a" stroke="none" stroke-width="0.5"/>
<circle cx="413.01" cy="77.92" r="1.05" fill="#6e858a" stroke="none" stroke-width="0.5"/>
<circle cx="408.96" cy="70.93" r="1.05" fill="#6e858a" stroke="none" stroke-width="0.5"/>
<circle cx="406.72" cy="71.65" r="1.05" fill="#6e858a" stroke="none" stroke-width="0.5"/>
<circle cx="411.60" cy="90.17" r="1.05" fill="#6e858a" stroke="none" stroke-width="0.5"/>
<circle cx="412.65" cy="59.86" r="1.05" fill="#6e858a" stroke="none" stroke-width="0.5"/>
<circle cx="413.99" cy="64.55" r="1.05" fill="#6e858a" stroke="none" stroke-width="0.5"/>
<circle cx="416.35" cy="90.92" r="1.05" fill="#6e858a" stroke="none" stroke-width="0.5"/>
<circle cx="404.84" cy="77.07" r="1.05" fill="#6e858a" stroke="none" stroke-width="0.5"/>
<circle cx="408.30" cy="80.76" r="1.05" fill="#6e858a" stroke="none" stroke-width="0.5"/>
<circle cx="410.04" cy="63.78" r="1.05" fill="#6e858a" stroke="none" stroke-width="0.5"/>
<circle cx="410.15" cy="87.21" r="1.05" fill="#6e858a" stroke="none" stroke-width="0.5"/>
<circle cx="410.30" cy="63.60" r="1.05" fill="#6e858a" stroke="none" stroke-width="0.5"/>
<circle cx="406.85" cy="80.30" r="1.05" fill="#6e858a" stroke="none" stroke-width="0.5"/>
<circle cx="412.06" cy="91.06" r="1.05" fill="#6e858a" stroke="none" stroke-width="0.5"/>
<circle cx="411.33" cy="60.95" r="1.05" fill="#6e858a" stroke="none" stroke-width="0.5"/>
<circle cx="407.80" cy="66.39" r="1.05" fill="#6e858a" stroke="none" stroke-width="0.5"/>
<circle cx="414.49" cy="91.26" r="1.05" fill="#6e858a" stroke="none" stroke-width="0.5"/>
<circle cx="406.57" cy="71.46" r="1.05" fill="#6e858a" stroke="none" stroke-width="0.5"/>
<circle cx="406.32" cy="73.19" r="1.05" fill="#6e858a" stroke="none" stroke-width="0.5"/>
<circle cx="414.48" cy="78.47" r="1.05" fill="#6e858a" stroke="none" stroke-width="0.5"/>
<circle cx="405.20" cy="76.81" r="1.05" fill="#6e858a" stroke="none" stroke-width="0.5"/>
<circle cx="410.48" cy="65.51" r="1.05" fill="#6e858a" stroke="none" stroke-width="0.5"/>
<circle cx="404.99" cy="77.44" r="1.05" fill="#6e858a" stroke="none" stroke-width="0.5"/>
<circle cx="405.23" cy="79.10" r="1.05" fill="#6e858a" stroke="none" stroke-width="0.5"/>
<circle cx="404.79" cy="76.00" r="1.05" fill="#6e858a" stroke="none" stroke-width="0.5"/>
<circle cx="416.68" cy="92.64" r="1.05" fill="#6e858a" stroke="none" stroke-width="0.5"/>
<circle cx="404.82" cy="75.95" r="1.05" fill="#6e858a" stroke="none" stroke-width="0.5"/>
<circle cx="408.68" cy="81.15" r="1.05" fill="#6e858a" stroke="none" stroke-width="0.5"/>
<circle cx="416.06" cy="62.52" r="1.05" fill="#6e858a" stroke="none" stroke-width="0.5"/>
<circle cx="409.98" cy="64.15" r="1.05" fill="#6e858a" stroke="none" stroke-width="0.5"/>
<circle cx="406.66" cy="76.72" r="1.05" fill="#6e858a" stroke="none" stroke-width="0.5"/>
<circle cx="414.01" cy="89.42" r="1.05" fill="#6e858a" stroke="none" stroke-width="0.5"/>
<circle cx="414.64" cy="93.29" r="1.05" fill="#6e858a" stroke="none" stroke-width="0.5"/>
<circle cx="414.87" cy="89.67" r="1.05" fill="#6e858a" stroke="none" stroke-width="0.5"/>
<circle cx="409.71" cy="64.13" r="1.05" fill="#6e858a" stroke="none" stroke-width="0.5"/>
<circle cx="413.16" cy="60.07" r="1.05" fill="#6e858a" stroke="none" stroke-width="0.5"/>
<circle cx="409.57" cy="76.17" r="1.05" fill="#6e858a" stroke="none" stroke-width="0.5"/>
<circle cx="415.02" cy="89.57" r="1.05" fill="#6e858a" stroke="none" stroke-width="0.5"/>
<circle cx="412.12" cy="61.03" r="1.05" fill="#6e858a" stroke="none" stroke-width="0.5"/>
<circle cx="414.14" cy="91.37" r="1.05" fill="#6e858a" stroke="none" stroke-width="0.5"/>
<circle cx="408.81" cy="81.85" r="1.05" fill="#6e858a" stroke="none" stroke-width="0.5"/>
<circle cx="407.61" cy="73.29" r="1.05" fill="#6e858a" stroke="none" stroke-width="0.5"/>
<circle cx="418.94" cy="57.23" r="1.05" fill="#6e858a" stroke="none" stroke-width="0.5"/>
<circle cx="409.92" cy="64.83" r="1.05" fill="#6e858a" stroke="none" stroke-width="0.5"/>
<circle cx="406.06" cy="73.39" r="1.05" fill="#6e858a" stroke="none" stroke-width="0.5"/>
<circle cx="405.36" cy="78.64" r="1.05" fill="#6e858a" stroke="none" stroke-width="0.5"/>
<circle cx="418.65" cy="93.96" r="1.05" fill="#6e858a" stroke="none" stroke-width="0.5"/>
<circle cx="409.19" cy="70.99" r="1.05" fill="#6e858a" stroke="none" stroke-width="0.5"/>
<circle cx="409.97" cy="70.04" r="1.05" fill="#6e858a" stroke="none" stroke-width="0.5"/>
<circle cx="413.51" cy="90.03" r="1.05" fill="#6e858a" stroke="none" stroke-width="0.5"/>
<circle cx="406.59" cy="75.91" r="1.05" fill="#6e858a" stroke="none" stroke-width="0.5"/>
<circle cx="413.76" cy="87.00" r="1.05" fill="#6e858a" stroke="none" stroke-width="0.5"/>
<circle cx="406.12" cy="82.04" r="1.05" fill="#6e858a" stroke="none" stroke-width="0.5"/>
<circle cx="411.02" cy="87.12" r="1.05" fill="#6e858a" stroke="none" stroke-width="0.5"/>
<circle cx="411.82" cy="87.90" r="1.05" fill="#6e858a" stroke="none" stroke-width="0.5"/>
<circle cx="416.00" cy="90.60" r="1.05" fill="#6e858a" stroke="none" stroke-width="0.5"/>
<circle cx="410.36" cy="90.03" r="1.05" fill="#6e858a" stroke="none" stroke-width="0.5"/>
<circle cx="415.26" cy="61.96" r="1.05" fill="#6e858a" stroke="none" stroke-width="0.5"/>
<circle cx="407.24" cy="85.57" r="1.05" fill="#6e858a" stroke="none" stroke-width="0.5"/>
<circle cx="405.87" cy="73.98" r="1.05" fill="#6e858a" stroke="none" stroke-width="0.5"/>
<circle cx="407.34" cy="78.59" r="1.05" fill="#6e858a" stroke="none" stroke-width="0.5"/>
<circle cx="411.92" cy="86.18" r="1.05" fill="#6e858a" stroke="none" stroke-width="0.5"/>
<circle cx="405.71" cy="75.17" r="1.05" fill="#6e858a" stroke="none" stroke-width="0.5"/>
<circle cx="425.76" cy="93.57" r="1.05" fill="#6e858a" stroke="none" stroke-width="0.5"/>
<circle cx="413.38" cy="59.26" r="1.05" fill="#6e858a" stroke="none" stroke-width="0.5"/>
<circle cx="406.94" cy="72.20" r="1.05" fill="#6e858a" stroke="none" stroke-width="0.5"/>
<circle cx="409.83" cy="64.22" r="1.05" fill="#6e858a" stroke="none" stroke-width="0.5"/>
<circle cx="406.75" cy="84.17" r="1.05" fill="#6e858a" stroke="none" stroke-width="0.5"/>
<circle cx="422.60" cy="65.40" r="1.05" fill="#6e858a" stroke="none" stroke-width="0.5"/>
<circle cx="409.61" cy="66.87" r="1.05" fill="#6e858a" stroke="none" stroke-width="0.5"/>
<circle cx="405.41" cy="78.25" r="1.05" fill="#6e858a" stroke="none" stroke-width="0.5"/>
<circle cx="408.02" cy="86.81" r="1.05" fill="#6e858a" stroke="none" stroke-width="0.5"/>
<circle cx="410.84" cy="66.69" r="1.05" fill="#6e858a" stroke="none" stroke-width="0.5"/>
<circle cx="407.93" cy="68.17" r="1.05" fill="#6e858a" stroke="none" stroke-width="0.5"/>
<circle cx="407.07" cy="78.89" r="1.05" fill="#6e858a" stroke="none" stroke-width="0.5"/>
<circle cx="410.18" cy="85.53" r="1.05" fill="#6e858a" stroke="none" stroke-width="0.5"/>
<circle cx="417.77" cy="87.40" r="1.05" fill="#6e858a" stroke="none" stroke-width="0.5"/>
<circle cx="411.50" cy="86.66" r="1.05" fill="#6e858a" stroke="none" stroke-width="0.5"/>
<circle cx="408.97" cy="66.83" r="1.05" fill="#6e858a" stroke="none" stroke-width="0.5"/>
<circle cx="407.05" cy="83.07" r="1.05" fill="#6e858a" stroke="none" stroke-width="0.5"/>
<circle cx="407.97" cy="71.32" r="1.05" fill="#6e858a" stroke="none" stroke-width="0.5"/>
<circle cx="417.15" cy="57.78" r="1.05" fill="#6e858a" stroke="none" stroke-width="0.5"/>
<circle cx="410.17" cy="68.72" r="1.05" fill="#6e858a" stroke="none" stroke-width="0.5"/>
<circle cx="409.59" cy="67.67" r="1.05" fill="#6e858a" stroke="none" stroke-width="0.5"/>
<circle cx="411.58" cy="87.60" r="1.05" fill="#6e858a" stroke="none" stroke-width="0.5"/>
<circle cx="415.91" cy="60.43" r="1.05" fill="#6e858a" stroke="none" stroke-width="0.5"/>
<circle cx="414.41" cy="59.72" r="1.05" fill="#6e858a" stroke="none" stroke-width="0.5"/>
<circle cx="413.66" cy="94.72" r="1.05" fill="#6e858a" stroke="none" stroke-width="0.5"/>
<circle cx="408.05" cy="71.19" r="1.05" fill="#6e858a" stroke="none" stroke-width="0.5"/>
<circle cx="416.32" cy="93.28" r="1.05" fill="#6e858a" stroke="none" stroke-width="0.5"/>
<circle cx="413.60" cy="64.05" r="1.05" fill="#6e858a" stroke="none" stroke-width="0.5"/>
<circle cx="418.26" cy="93.28" r="1.05" fill="#6e858a" stroke="none" stroke-width="0.5"/>
<circle cx="413.24" cy="59.12" r="1.05" fill="#6e858a" stroke="none" stroke-width="0.5"/>
<circle cx="411.02" cy="91.49" r="1.05" fill="#6e858a" stroke="none" stroke-width="0.5"/>
<circle cx="412.37" cy="64.27" r="1.05" fill="#6e858a" stroke="none" stroke-width="0.5"/>
<circle cx="406.57" cy="71.29" r="1.05" fill="#6e858a" stroke="none" stroke-width="0.5"/>
<circle cx="416.24" cy="92.04" r="1.05" fill="#6e858a" stroke="none" stroke-width="0.5"/>
<circle cx="412.91" cy="83.43" r="1.05" fill="#6e858a" stroke="none" stroke-width="0.5"/>
<circle cx="410.07" cy="84.85" r="1.05" fill="#6e858a" stroke="none" stroke-width="0.5"/>
<circle cx="410.12" cy="83.37" r="1.05" fill="#6e858a" stroke="none" stroke-width="0.5"/>
<circle cx="420.02" cy="62.74" r="1.05" fill="#6e858a" stroke="none" stroke-width="0.5"/>
<circle cx="407.02" cy="78.87" r="1.05" fill="#6e858a" stroke="none" stroke-width="0.5"/>
<circle cx="408.97" cy="68.44" r="1.05" fill="#6e858a" stroke="none" stroke-width="0.5"/>
<circle cx="410.65" cy="62.32" r="1.05" fill="#6e858a" stroke="none" stroke-width="0.5"/>
<circle cx="409.25" cy="89.22" r="1.05" fill="#6e858a" stroke="none" stroke-width="0.5"/>
<circle cx="419.85" cy="66.21" r="1.05" fill="#6e858a" stroke="none" stroke-width="0.5"/>
<circle cx="406.34" cy="76.73" r="1.05" fill="#6e858a" stroke="none" stroke-width="0.5"/>
<circle cx="405.40" cy="76.61" r="1.05" fill="#6e858a" stroke="none" stroke-width="0.5"/>
<circle cx="411.74" cy="85.71" r="1.05" fill="#6e858a" stroke="none" stroke-width="0.5"/>
<circle cx="411.91" cy="87.49" r="1.05" fill="#6e858a" stroke="none" stroke-width="0.5"/>
<circle cx="415.00" cy="91.57" r="1.05" fill="#6e858a" stroke="none" stroke-width="0.5"/>
<circle cx="411.97" cy="65.21" r="1.05" fill="#6e858a" stroke="none" stroke-width="0.5"/>
<circle cx="406.75" cy="71.43" r="1.05" fill="#6e858a" stroke="none" stroke-width="0.5"/>
<circle cx="408.12" cy="80.50" r="1.05" fill="#6e858a" stroke="none" stroke-width="0.5"/>
<circle cx="410.97" cy="61.30" r="1.05" fill="#6e858a" stroke="none" stroke-width="0.5"/>
<circle cx="411.46" cy="85.61" r="1.05" fill="#6e858a" stroke="none" stroke-width="0.5"/>
<circle cx="408.42" cy="81.09" r="1.05" fill="#6e858a" stroke="none" stroke-width="0.5"/>
<circle cx="406.08" cy="77.92" r="1.05" fill="#6e858a" stroke="none" stroke-width="0.5"/>
<circle cx="410.70" cy="66.56" r="1.05" fill="#6e858a" stroke="none" stroke-width="0.5"/>
<circle cx="406.75" cy="83.14" r="1.05" fill="#6e858a" stroke="none" stroke-width="0.5"/>
<circle cx="408.82" cy="70.10" r="1.05" fill="#6e858a" stroke="none" stroke-width="0.5"/>
<circle cx="406.98" cy="78.78" r="1.05" fill="#6e858a" stroke="none" stroke-width="0.5"/>
<circle cx="413.33" cy="90.94" r="1.05" fill="#6e858a" stroke="none" stroke-width="0.5"/>
<circle cx="408.67" cy="86.59" r="1.05" fill="#6e858a" stroke="none" stroke-width="0.5"/>
<circle cx="410.26" cy="68.50" r="1.05" fill="#6e858a" stroke="none" stroke-width="0.5"/>
<circle cx="411.09" cy="89.78" r="1.05" fill="#6e858a" stroke="none" stroke-width="0.5"/>
<circle cx="405.09" cy="75.54" r="1.05" fill="#6e858a" stroke="none" stroke-width="0.5"/>
<circle cx="414.24" cy="88.48" r="1.05" fill="#6e858a" stroke="none" stroke-width="0.5"/>
<circle cx="417.45" cy="91.88" r="1.05" fill="#6e858a" stroke="none" stroke-width="0.5"/>
<circle cx="408.65" cy="80.90" r="1.05" fill="#6e858a" stroke="none" stroke-width="0.5"/>
<circle cx="409.18" cy="67.33" r="1.05" fill="#6e858a" stroke="none" stroke-width="0.5"/>
<circle cx="406.03" cy="71.04" r="1.05" fill="#6e858a" stroke="none" stroke-width="0.5"/>
<circle cx="405.46" cy="80.74" r="1.05" fill="#6e858a" stroke="none" stroke-width="0.5"/>
<circle cx="412.05" cy="65.09" r="1.05" fill="#6e858a" stroke="none" stroke-width="0.5"/>
<circle cx="407.20" cy="71.25" r="1.05" fill="#6e858a" stroke="none" stroke-width="0.5"/>
<circle cx="406.55" cy="72.37" r="1.05" fill="#6e858a" stroke="none" stroke-width="0.5"/>
<circle cx="414.26" cy="60.54" r="1.05" fill="#6e858a" stroke="none" stroke-width="0.5"/>
<circle cx="409.50" cy="66.71" r="1.05" fill="#6e858a" stroke="none" stroke-width="0.5"/>
<circle cx="410.94" cy="67.76" r="1.05" fill="#6e858a" stroke="none" stroke-width="0.5"/>
<circle cx="410.21" cy="68.62" r="1.05" fill="#6e858a" stroke="none" stroke-width="0.5"/>
<circle cx="407.33" cy="70.90" r="1.05" fill="#6e858a" stroke="none" stroke-width="0.5"/>
<circle cx="405.87" cy="71.41" r="1.05" fill="#6e858a" stroke="none" stroke-width="0.5"/>
<circle cx="411.89" cy="65.42" r="1.05" fill="#6e858a" stroke="none" stroke-width="0.5"/>
<circle cx="409.53" cy="86.12" r="1.05" fill="#6e858a" stroke="none" stroke-width="0.5"/>
<circle cx="406.84" cy="71.67" r="1.05" fill="#6e858a" stroke="none" stroke-width="0.5"/>
<circle cx="413.32" cy="59.67" r="1.05" fill="#6e858a" stroke="none" stroke-width="0.5"/>
<circle cx="410.07" cy="65.58" r="1.05" fill="#6e858a" stroke="none" stroke-width="0.5"/>
<circle cx="413.74" cy="57.95" r="1.05" fill="#6e858a" stroke="none" stroke-width="0.5"/>
<circle cx="414.11" cy="89.59" r="1.05" fill="#6e858a" stroke="none" stroke-width="0.5"/>
<circle cx="404.95" cy="75.65" r="1.05" fill="#6e858a" stroke="none" stroke-width="0.5"/>
<circle cx="406.55" cy="74.80" r="1.05" fill="#6e858a" stroke="none" stroke-width="0.5"/>
<circle cx="408.63" cy="70.99" r="1.05" fill="#6e858a" stroke="none" stroke-width="0.5"/>
<circle cx="407.98" cy="79.89" r="1.05" fill="#6e858a" stroke="none" stroke-width="0.5"/>
<circle cx="407.91" cy="69.23" r="1.05" fill="#6e858a" stroke="none" stroke-width="0.5"/>
<circle cx="416.78" cy="91.08" r="1.05" fill="#6e858a" stroke="none" stroke-width="0.5"/>
<circle cx="414.41" cy="93.64" r="1.05" fill="#6e858a" stroke="none" stroke-width="0.5"/>
<circle cx="417.07" cy="95.32" r="1.05" fill="#6e858a" stroke="none" stroke-width="0.5"/>
<circle cx="408.02" cy="68.69" r="1.05" fill="#6e858a" stroke="none" stroke-width="0.5"/>
<circle cx="411.83" cy="87.11" r="1.05" fill="#6e858a" stroke="none" stroke-width="0.5"/>
<circle cx="405.25" cy="75.35" r="1.05" fill="#6e858a" stroke="none" stroke-width="0.5"/>
<circle cx="405.99" cy="80.60" r="1.05" fill="#6e858a" stroke="none" stroke-width="0.5"/>
<circle cx="412.22" cy="65.65" r="1.05" fill="#6e858a" stroke="none" stroke-width="0.5"/>
<circle cx="406.06" cy="77.60" r="1.05" fill="#6e858a" stroke="none" stroke-width="0.5"/>
<circle cx="415.71" cy="58.36" r="1.05" fill="#6e858a" stroke="none" stroke-width="0.5"/>
<circle cx="413.62" cy="64.01" r="1.05" fill="#6e858a" stroke="none" stroke-width="0.5"/>
<circle cx="409.03" cy="84.40" r="1.05" fill="#6e858a" stroke="none" stroke-width="0.5"/>
<circle cx="411.43" cy="63.42" r="1.05" fill="#6e858a" stroke="none" stroke-width="0.5"/>
<circle cx="408.88" cy="85.44" r="1.05" fill="#6e858a" stroke="none" stroke-width="0.5"/>
<circle cx="415.02" cy="79.27" r="1.05" fill="#6e858a" stroke="none" stroke-width="0.5"/>
<circle cx="407.98" cy="84.91" r="1.05" fill="#6e858a" stroke="none" stroke-width="0.5"/>
<circle cx="405.67" cy="77.20" r="1.05" fill="#6e858a" stroke="none" stroke-width="0.5"/>
<circle cx="407.31" cy="70.21" r="1.05" fill="#6e858a" stroke="none" stroke-width="0.5"/>
<circle cx="410.23" cy="62.62" r="1.05" fill="#6e858a" stroke="none" stroke-width="0.5"/>
<circle cx="416.56" cy="60.62" r="1.05" fill="#6e858a" stroke="none" stroke-width="0.5"/>
<circle cx="415.53" cy="63.52" r="1.05" fill="#6e858a" stroke="none" stroke-width="0.5"/>
<circle cx="417.46" cy="58.84" r="1.05" fill="#6e858a" stroke="none" stroke-width="0.5"/>
<circle cx="412.04" cy="91.89" r="1.05" fill="#6e858a" stroke="none" stroke-width="0.5"/>
<circle cx="409.80" cy="65.66" r="1.05" fill="#6e858a" stroke="none" stroke-width="0.5"/>
<circle cx="416.55" cy="60.69" r="1.05" fill="#6e858a" stroke="none" stroke-width="0.5"/>
<circle cx="414.86" cy="61.19" r="1.05" fill="#6e858a" stroke="none" stroke-width="0.5"/>
<circle cx="444.70" cy="19.60" r="1.50" fill="#f5191e" stroke="none" stroke-width="0.5"/>
<circle cx="479.40" cy="30.10" r="1.50" fill="#f5191e" stroke="none" stroke-width="0.5"/>
<circle cx="456.50" cy="38.80" r="1.50" fill="#f5191e" stroke="none" stroke-width="0.5"/>
<circle cx="445.70" cy="41.90" r="1.50" fill="#f5191e" stroke="none" stroke-width="0.5"/>
<circle cx="447.40" cy="43.30" r="1.50" fill="#f5191e" stroke="none" stroke-width="0.5"/>
<circle cx="449.40" cy="48.30" r="1.50" fill="#f5191e" stroke="none" stroke-width="0.5"/>
<circle cx="435.40" cy="44.40" r="1.50" fill="#f5191e" stroke="none" stroke-width="0.5"/>
<circle cx="438.50" cy="44.20" r="1.50" fill="#f5191e" stroke="none" stroke-width="0.5"/>
<circle cx="438.70" cy="47.30" r="1.50" fill="#f5191e" stroke="none" stroke-width="0.5"/>
<circle cx="439.50" cy="50.70" r="1.50" fill="#f5191e" stroke="none" stroke-width="0.5"/>
<circle cx="432.60" cy="52.20" r="1.50" fill="#f5191e" stroke="none" stroke-width="0.5"/>
<circle cx="434.50" cy="56.20" r="1.50" fill="#f5191e" stroke="none" stroke-width="0.5"/>
<circle cx="427.50" cy="41.30" r="1.50" fill="#f5191e" stroke="none" stroke-width="0.5"/>
<circle cx="418.20" cy="43.20" r="1.50" fill="#f5191e" stroke="none" stroke-width="0.5"/>
<circle cx="424.20" cy="42.90" r="1.50" fill="#f5191e" stroke="none" stroke-width="0.5"/>
<circle cx="423.87" cy="55.96" r="1.50" fill="#f5191e" stroke="none" stroke-width="0.5"/>
<circle cx="426.08" cy="55.16" r="1.50" fill="#f5191e" stroke="none" stroke-width="0.5"/>
<circle cx="415.15" cy="53.05" r="1.50" fill="#f5191e" stroke="none" stroke-width="0.5"/>
<circle cx="421.32" cy="53.76" r="1.50" fill="#f5191e" stroke="none" stroke-width="0.5"/>
<circle cx="419.61" cy="55.80" r="1.50" fill="#f5191e" stroke="none" stroke-width="0.5"/>
<circle cx="421.77" cy="46.84" r="1.50" fill="#f5191e" stroke="none" stroke-width="0.5"/>
<circle cx="420.62" cy="43.85" r="1.50" fill="#f5191e" stroke="none" stroke-width="0.5"/>
<circle cx="420.14" cy="45.09" r="1.50" fill="#f5191e" stroke="none" stroke-width="0.5"/>
<circle cx="420.59" cy="50.22" r="1.50" fill="#f5191e" stroke="none" stroke-width="0.5"/>
<circle cx="421.48" cy="55.51" r="1.50" fill="#f5191e" stroke="none" stroke-width="0.5"/>
<circle cx="411.62" cy="55.19" r="1.50" fill="#f5191e" stroke="none" stroke-width="0.5"/>
<circle cx="420.16" cy="51.16" r="1.50" fill="#f5191e" stroke="none" stroke-width="0.5"/>
<circle cx="423.81" cy="55.19" r="1.50" fill="#f5191e" stroke="none" stroke-width="0.5"/>
<circle cx="418.44" cy="49.07" r="1.50" fill="#f5191e" stroke="none" stroke-width="0.5"/>
<circle cx="429.27" cy="44.09" r="1.50" fill="#f5191e" stroke="none" stroke-width="0.5"/>
<circle cx="423.29" cy="52.22" r="1.50" fill="#f5191e" stroke="none" stroke-width="0.5"/>
<circle cx="412.03" cy="51.84" r="1.50" fill="#f5191e" stroke="none" stroke-width="0.5"/>
<circle cx="424.13" cy="56.51" r="1.50" fill="#f5191e" stroke="none" stroke-width="0.5"/>
<circle cx="417.61" cy="57.23" r="1.50" fill="#f5191e" stroke="none" stroke-width="0.5"/>
<circle cx="420.95" cy="50.03" r="1.50" fill="#f5191e" stroke="none" stroke-width="0.5"/>
<circle cx="428.10" cy="43.49" r="1.50" fill="#f5191e" stroke="none" stroke-width="0.5"/>
<circle cx="424.79" cy="52.07" r="1.50" fill="#f5191e" stroke="none" stroke-width="0.5"/>
<circle cx="417.76" cy="55.49" r="1.50" fill="#f5191e" stroke="none" stroke-width="0.5"/>
<circle cx="418.27" cy="49.88" r="1.50" fill="#f5191e" stroke="none" stroke-width="0.5"/>
<circle cx="421.22" cy="54.17" r="1.50" fill="#f5191e" stroke="none" stroke-width="0.5"/>
<circle cx="415.40" cy="49.31" r="1.50" fill="#f5191e" stroke="none" stroke-width="0.5"/>
<circle cx="419.31" cy="51.03" r="1.50" fill="#f5191e" stroke="none" stroke-width="0.5"/>
<circle cx="426.79" cy="47.25" r="1.50" fill="#f5191e" stroke="none" stroke-width="0.5"/>
<circle cx="426.81" cy="48.85" r="1.50" fill="#f5191e" stroke="none" stroke-width="0.5"/>
<circle cx="420.82" cy="46.94" r="1.50" fill="#f5191e" stroke="none" stroke-width="0.5"/>
<circle cx="420.87" cy="57.14" r="1.50" fill="#f5191e" stroke="none" stroke-width="0.5"/>
<circle cx="423.61" cy="54.48" r="1.50" fill="#f5191e" stroke="none" stroke-width="0.5"/>
<circle cx="417.62" cy="47.60" r="1.50" fill="#f5191e" stroke="none" stroke-width="0.5"/>
<circle cx="417.04" cy="51.50" r="1.50" fill="#f5191e" stroke="none" stroke-width="0.5"/>
<circle cx="423.24" cy="54.37" r="1.50" fill="#f5191e" stroke="none" stroke-width="0.5"/>
<circle cx="412.24" cy="53.48" r="1.50" fill="#f5191e" stroke="none" stroke-width="0.5"/>
<circle cx="427.88" cy="50.91" r="1.50" fill="#f5191e" stroke="none" stroke-width="0.5"/>
<circle cx="428.55" cy="51.83" r="1.50" fill="#f5191e" stroke="none" stroke-width="0.5"/>
<circle cx="423.67" cy="54.44" r="1.50" fill="#f5191e" stroke="none" stroke-width="0.5"/>
<circle cx="428.33" cy="51.87" r="1.50" fill="#f5191e" stroke="none" stroke-width="0.5"/>
<circle cx="422.91" cy="52.09" r="1.50" fill="#f5191e" stroke="none" stroke-width="0.5"/>
<circle cx="424.38" cy="51.65" r="1.50" fill="#f5191e" stroke="none" stroke-width="0.5"/>
<circle cx="424.10" cy="46.08" r="1.50" fill="#f5191e" stroke="none" stroke-width="0.5"/>
<circle cx="423.84" cy="49.64" r="1.50" fill="#f5191e" stroke="none" stroke-width="0.5"/>
<circle cx="425.61" cy="44.47" r="1.50" fill="#f5191e" stroke="none" stroke-width="0.5"/>
<circle cx="425.83" cy="56.25" r="1.50" fill="#f5191e" stroke="none" stroke-width="0.5"/>
<circle cx="423.63" cy="48.35" r="1.50" fill="#f5191e" stroke="none" stroke-width="0.5"/>
<circle cx="426.72" cy="54.40" r="1.50" fill="#f5191e" stroke="none" stroke-width="0.5"/>
<circle cx="421.90" cy="46.74" r="1.50" fill="#f5191e" stroke="none" stroke-width="0.5"/>
<circle cx="417.09" cy="49.12" r="1.50" fill="#f5191e" stroke="none" stroke-width="0.5"/>
<circle cx="417.39" cy="49.24" r="1.50" fill="#f5191e" stroke="none" stroke-width="0.5"/>
<circle cx="423.37" cy="56.54" r="1.50" fill="#f5191e" stroke="none" stroke-width="0.5"/>
<circle cx="412.51" cy="51.23" r="1.50" fill="#f5191e" stroke="none" stroke-width="0.5"/>
<circle cx="426.49" cy="51.34" r="1.50" fill="#f5191e" stroke="none" stroke-width="0.5"/>
<circle cx="428.49" cy="49.47" r="1.50" fill="#f5191e" stroke="none" stroke-width="0.5"/>
<circle cx="411.76" cy="48.61" r="1.50" fill="#f5191e" stroke="none" stroke-width="0.5"/>
<circle cx="422.45" cy="56.60" r="1.50" fill="#f5191e" stroke="none" stroke-width="0.5"/>
<circle cx="429.64" cy="49.89" r="1.50" fill="#f5191e" stroke="none" stroke-width="0.5"/>
<circle cx="419.13" cy="44.48" r="1.50" fill="#f5191e" stroke="none" stroke-width="0.5"/>
<circle cx="423.42" cy="46.08" r="1.50" fill="#f5191e" stroke="none" stroke-width="0.5"/>
<circle cx="411.59" cy="52.91" r="1.50" fill="#f5191e" stroke="none" stroke-width="0.5"/>
<circle cx="413.75" cy="57.01" r="1.50" fill="#f5191e" stroke="none" stroke-width="0.5"/>
<circle cx="413.13" cy="55.61" r="1.50" fill="#f5191e" stroke="none" stroke-width="0.5"/>
<circle cx="411.80" cy="96.50" r="1.50" fill="#1a3cd8" stroke="none" stroke-width="0.5"/>
<circle cx="416.80" cy="100.30" r="1.50" fill="#1a3cd8" stroke="none" stroke-width="0.5"/>
<circle cx="418.60" cy="102.10" r="1.50" fill="#1a3cd8" stroke="none" stroke-width="0.5"/>
<circle cx="421.70" cy="96.50" r="1.50" fill="#1a3cd8" stroke="none" stroke-width="0.5"/>
<circle cx="423.00" cy="99.00" r="1.50" fill="#1a3cd8" stroke="none" stroke-width="0.5"/>
<circle cx="423.60" cy="100.90" r="1.50" fill="#1a3cd8" stroke="none" stroke-width="0.5"/>
<circle cx="421.10" cy="103.40" r="1.50" fill="#1a3cd8" stroke="none" stroke-width="0.5"/>
<circle cx="419.20" cy="102.70" r="1.50" fill="#1a3cd8" stroke="none" stroke-width="0.5"/>
<circle cx="415.50" cy="104.60" r="1.50" fill="#1a3cd8" stroke="none" stroke-width="0.5"/>
<circle cx="427.90" cy="101.50" r="1.50" fill="#1a3cd8" stroke="none" stroke-width="0.5"/>
<circle cx="429.20" cy="100.30" r="1.50" fill="#1a3cd8" stroke="none" stroke-width="0.5"/>
<circle cx="430.40" cy="98.80" r="1.50" fill="#1a3cd8" stroke="none" stroke-width="0.5"/>
<circle cx="432.50" cy="105.20" r="1.50" fill="#1a3cd8" stroke="none" stroke-width="0.5"/>
<circle cx="437.80" cy="103.10" r="1.50" fill="#1a3cd8" stroke="none" stroke-width="0.5"/>
<circle cx="446.30" cy="103.10" r="1.50" fill="#1a3cd8" stroke="none" stroke-width="0.5"/>
<circle cx="452.10" cy="111.20" r="1.50" fill="#1a3cd8" stroke="none" stroke-width="0.5"/>
<circle cx="415.90" cy="118.20" r="1.50" fill="#1a3cd8" stroke="none" stroke-width="0.5"/>
<line x1="411.40" y1="17.50" x2="411.40" y2="135.80" stroke="#8aa0a5" stroke-width="0.7" stroke-dasharray="4 2.2"/>
<line x1="402.60" y1="57.30" x2="481.70" y2="57.30" stroke="#8aa0a5" stroke-width="0.7" stroke-dasharray="4 2.2"/>
<line x1="402.60" y1="96.10" x2="481.70" y2="96.10" stroke="#8aa0a5" stroke-width="0.7" stroke-dasharray="4 2.2"/>
<rect x="402.60" y="17.50" width="79.10" height="118.30" fill="none" stroke="#222" stroke-width="0.9" />
<line x1="399.80" y1="44.40" x2="402.60" y2="44.40" stroke="#222" stroke-width="0.9" />
<text x="397.00" y="46.60" font-size="6.30" text-anchor="end" fill="#333" font-family="Liberation Sans" stroke="#333" stroke-width="0.12" >2.5</text>
<line x1="399.80" y1="76.40" x2="402.60" y2="76.40" stroke="#222" stroke-width="0.9" />
<text x="397.00" y="78.60" font-size="6.30" text-anchor="end" fill="#333" font-family="Liberation Sans" stroke="#333" stroke-width="0.12" >0.0</text>
<line x1="399.80" y1="109.10" x2="402.60" y2="109.10" stroke="#222" stroke-width="0.9" />
<text x="397.00" y="111.30" font-size="6.30" text-anchor="end" fill="#333" font-family="Liberation Sans" stroke="#333" stroke-width="0.12" >−2.5</text>
<line x1="404.70" y1="135.80" x2="404.70" y2="138.60" stroke="#222" stroke-width="0.9" />
<text x="404.70" y="146.00" font-size="6.00" text-anchor="middle" fill="#333" font-family="Liberation Sans" stroke="#333" stroke-width="0.12" >0</text>
<line x1="429.20" y1="135.80" x2="429.20" y2="138.60" stroke="#222" stroke-width="0.9" />
<text x="429.20" y="146.00" font-size="6.00" text-anchor="middle" fill="#333" font-family="Liberation Sans" stroke="#333" stroke-width="0.12" >5</text>
<line x1="453.60" y1="135.80" x2="453.60" y2="138.60" stroke="#222" stroke-width="0.9" />
<text x="453.60" y="146.00" font-size="6.00" text-anchor="middle" fill="#333" font-family="Liberation Sans" stroke="#333" stroke-width="0.12" >10</text>
<line x1="477.90" y1="135.80" x2="477.90" y2="138.60" stroke="#222" stroke-width="0.9" />
<text x="477.90" y="146.00" font-size="6.00" text-anchor="middle" fill="#333" font-family="Liberation Sans" stroke="#333" stroke-width="0.12" >15</text>
<text x="442" y="154.7" font-size="7.2" text-anchor="middle" fill="#111" stroke="#111" stroke-width="0.12" font-family="Liberation Sans">−Log<tspan font-size="5" dy="1.5">10</tspan><tspan dy="-1.5"> (</tspan><tspan font-style="italic">P</tspan> value)</text>
<text x="0" y="0" font-size="7.0" text-anchor="middle" fill="#111" stroke="#111" stroke-width="0.12" font-family="Liberation Sans" transform="translate(378.2 76.3) rotate(-90)">Log<tspan font-size="5.4" dy="1.8">2</tspan><tspan dy="-1.8"> (Fold Change)</tspan></text>
<circle cx="488.80" cy="70.70" r="1.80" fill="#f5191e" stroke="none" stroke-width="0.5"/>
<circle cx="488.80" cy="78.20" r="1.80" fill="#8fa3a8" stroke="none" stroke-width="0.5"/>
<circle cx="488.80" cy="85.70" r="1.80" fill="#1a3cd8" stroke="none" stroke-width="0.5"/>
<text x="495.90" y="72.90" font-size="6.45" text-anchor="start" fill="#1a1a1a" font-family="Liberation Sans" stroke="#1a1a1a" stroke-width="0.12" >Up</text>
<text x="495.90" y="80.40" font-size="6.45" text-anchor="start" fill="#1a1a1a" font-family="Liberation Sans" stroke="#1a1a1a" stroke-width="0.12" >Not sig</text>
<text x="495.90" y="87.90" font-size="6.45" text-anchor="start" fill="#1a1a1a" font-family="Liberation Sans" stroke="#1a1a1a" stroke-width="0.12" >Down</text>
<text x="6.50" y="188.80" font-size="16.80" text-anchor="start" fill="#000" font-family="Liberation Sans" >C</text>
<rect x="97.30" y="179.40" width="66.70" height="165.20" fill="#fff" stroke="none" stroke-width="0.5" />
<line x1="97.60" y1="179.40" x2="97.60" y2="344.60" stroke="#e3eaea" stroke-width="0.95" />
<line x1="111.60" y1="179.40" x2="111.60" y2="344.60" stroke="#e3eaea" stroke-width="0.95" />
<line x1="125.60" y1="179.40" x2="125.60" y2="344.60" stroke="#e3eaea" stroke-width="0.95" />
<line x1="139.60" y1="179.40" x2="139.60" y2="344.60" stroke="#e3eaea" stroke-width="0.95" />
<line x1="153.60" y1="179.40" x2="153.60" y2="344.60" stroke="#e3eaea" stroke-width="0.95" />
<line x1="104.60" y1="179.40" x2="104.60" y2="344.60" stroke="#e3eaea" stroke-width="0.5" />
<line x1="118.60" y1="179.40" x2="118.60" y2="344.60" stroke="#e3eaea" stroke-width="0.5" />
<line x1="132.60" y1="179.40" x2="132.60" y2="344.60" stroke="#e3eaea" stroke-width="0.5" />
<line x1="146.60" y1="179.40" x2="146.60" y2="344.60" stroke="#e3eaea" stroke-width="0.5" />
<line x1="160.60" y1="179.40" x2="160.60" y2="344.60" stroke="#e3eaea" stroke-width="0.5" />
<line x1="97.30" y1="188.10" x2="164.00" y2="188.10" stroke="#e3eaea" stroke-width="0.95" />
<line x1="97.30" y1="202.87" x2="164.00" y2="202.87" stroke="#e3eaea" stroke-width="0.95" />
<line x1="97.30" y1="217.64" x2="164.00" y2="217.64" stroke="#e3eaea" stroke-width="0.95" />
<line x1="97.30" y1="232.41" x2="164.00" y2="232.41" stroke="#e3eaea" stroke-width="0.95" />
<line x1="97.30" y1="247.18" x2="164.00" y2="247.18" stroke="#e3eaea" stroke-width="0.95" />
<line x1="97.30" y1="261.95" x2="164.00" y2="261.95" stroke="#e3eaea" stroke-width="0.95" />
<line x1="97.30" y1="276.72" x2="164.00" y2="276.72" stroke="#e3eaea" stroke-width="0.95" />
<line x1="97.30" y1="291.49" x2="164.00" y2="291.49" stroke="#e3eaea" stroke-width="0.95" />
<line x1="97.30" y1="306.26" x2="164.00" y2="306.26" stroke="#e3eaea" stroke-width="0.95" />
<line x1="97.30" y1="321.03" x2="164.00" y2="321.03" stroke="#e3eaea" stroke-width="0.95" />
<line x1="97.30" y1="335.80" x2="164.00" y2="335.80" stroke="#e3eaea" stroke-width="0.95" />
<defs><clipPath id="cp1"><rect x="97.3" y="179.4" width="66.7" height="165.20000000000002"/></clipPath></defs>
<g clip-path="url(#cp1)">
<circle cx="160.50" cy="188.10" r="4.60" fill="#0f37d2" stroke="none" stroke-width="0.5"/>
<circle cx="154.60" cy="202.87" r="4.50" fill="#0f37d2" stroke="none" stroke-width="0.5"/>
<circle cx="136.50" cy="217.64" r="4.20" fill="#0f37d2" stroke="none" stroke-width="0.5"/>
<circle cx="130.30" cy="232.41" r="4.00" fill="#0f37d2" stroke="none" stroke-width="0.5"/>
<circle cx="130.30" cy="247.18" r="4.00" fill="#0f37d2" stroke="none" stroke-width="0.5"/>
<circle cx="130.30" cy="261.95" r="4.00" fill="#0f37d2" stroke="none" stroke-width="0.5"/>
<circle cx="130.30" cy="276.72" r="4.00" fill="#0f37d2" stroke="none" stroke-width="0.5"/>
<circle cx="130.30" cy="291.49" r="4.00" fill="#0f37d2" stroke="none" stroke-width="0.5"/>
<circle cx="124.50" cy="306.26" r="4.00" fill="#0f37d2" stroke="none" stroke-width="0.5"/>
<circle cx="106.00" cy="321.03" r="2.90" fill="#0f37d2" stroke="none" stroke-width="0.5"/>
<circle cx="99.90" cy="335.80" r="1.70" fill="#f51419" stroke="none" stroke-width="0.5"/>
</g>
<rect x="164.00" y="179.40" width="12.60" height="165.20" fill="#d5dddd" stroke="#222" stroke-width="0.8" />
<text x="170.30" y="262.00" font-size="6.80" text-anchor="middle" fill="#1a1a1a" font-family="Liberation Sans" transform="rotate(90 170.30 262.00)" dy="2.38">BP</text>
<rect x="97.30" y="179.40" width="66.70" height="165.20" fill="none" stroke="#000" stroke-width="1.3" />
<line x1="94.40" y1="188.50" x2="97.30" y2="188.50" stroke="#000" stroke-width="1.0" />
<text x="90.80" y="190.10" font-size="4.65" text-anchor="end" fill="#000" font-family="Liberation Sans" stroke="#000" stroke-width="0.12" >defense response to bacterium</text>
<line x1="94.40" y1="202.50" x2="97.30" y2="202.50" stroke="#000" stroke-width="1.0" />
<text x="90.80" y="204.87" font-size="4.65" text-anchor="end" fill="#000" font-family="Liberation Sans" stroke="#000" stroke-width="0.12" >humoral immune response</text>
<line x1="94.40" y1="217.50" x2="97.30" y2="217.50" stroke="#000" stroke-width="1.0" />
<text x="90.80" y="217.26" font-size="4.65" text-anchor="end" fill="#000" font-family="Liberation Sans" stroke="#000" stroke-width="0.12" >biological process involved in</text>
<text x="90.80" y="222.01" font-size="4.65" text-anchor="end" fill="#000" font-family="Liberation Sans" stroke="#000" stroke-width="0.12" >symbiotic interaction</text>
<line x1="94.40" y1="232.50" x2="97.30" y2="232.50" stroke="#000" stroke-width="1.0" />
<text x="90.80" y="234.41" font-size="4.65" text-anchor="end" fill="#000" font-family="Liberation Sans" stroke="#000" stroke-width="0.12" >response to toxic substance</text>
<line x1="94.40" y1="247.50" x2="97.30" y2="247.50" stroke="#000" stroke-width="1.0" />
<text x="90.80" y="249.18" font-size="4.65" text-anchor="end" fill="#000" font-family="Liberation Sans" stroke="#000" stroke-width="0.12" >detoxification</text>
<line x1="94.40" y1="261.50" x2="97.30" y2="261.50" stroke="#000" stroke-width="1.0" />
<text x="90.80" y="263.95" font-size="4.65" text-anchor="end" fill="#000" font-family="Liberation Sans" stroke="#000" stroke-width="0.12" >cellular response to toxic substance</text>
<line x1="94.40" y1="276.50" x2="97.30" y2="276.50" stroke="#000" stroke-width="1.0" />
<text x="90.80" y="278.72" font-size="4.65" text-anchor="end" fill="#000" font-family="Liberation Sans" stroke="#000" stroke-width="0.12" >antimicrobial humoral response</text>
<line x1="94.40" y1="291.50" x2="97.30" y2="291.50" stroke="#000" stroke-width="1.0" />
<text x="90.80" y="293.49" font-size="4.65" text-anchor="end" fill="#000" font-family="Liberation Sans" stroke="#000" stroke-width="0.12" >cellular detoxification</text>
<line x1="94.40" y1="306.50" x2="97.30" y2="306.50" stroke="#000" stroke-width="1.0" />
<text x="90.80" y="305.88" font-size="4.65" text-anchor="end" fill="#000" font-family="Liberation Sans" stroke="#000" stroke-width="0.12" >biological process involved in</text>
<text x="90.80" y="310.63" font-size="4.65" text-anchor="end" fill="#000" font-family="Liberation Sans" stroke="#000" stroke-width="0.12" >interaction with symbiont</text>
<line x1="94.40" y1="321.50" x2="97.30" y2="321.50" stroke="#000" stroke-width="1.0" />
<text x="90.80" y="323.03" font-size="4.65" text-anchor="end" fill="#000" font-family="Liberation Sans" stroke="#000" stroke-width="0.12" >antibacterial humoral response</text>
<line x1="94.40" y1="335.50" x2="97.30" y2="335.50" stroke="#000" stroke-width="1.0" />
<text x="90.80" y="335.42" font-size="4.65" text-anchor="end" fill="#000" font-family="Liberation Sans" stroke="#000" stroke-width="0.12" >defense response to Gram−negative</text>
<text x="90.80" y="340.17" font-size="4.65" text-anchor="end" fill="#000" font-family="Liberation Sans" stroke="#000" stroke-width="0.12" >bacterium</text>
<line x1="97.50" y1="344.60" x2="97.50" y2="347.50" stroke="#000" stroke-width="1.0" />
<text x="97.60" y="353.70" font-size="4.45" text-anchor="middle" fill="#222" font-family="Liberation Sans" stroke="#222" stroke-width="0.12" >0.050</text>
<line x1="111.50" y1="344.60" x2="111.50" y2="347.50" stroke="#000" stroke-width="1.0" />
<text x="111.60" y="353.70" font-size="4.45" text-anchor="middle" fill="#222" font-family="Liberation Sans" stroke="#222" stroke-width="0.12" >0.075</text>
<line x1="125.50" y1="344.60" x2="125.50" y2="347.50" stroke="#000" stroke-width="1.0" />
<text x="125.60" y="353.70" font-size="4.45" text-anchor="middle" fill="#222" font-family="Liberation Sans" stroke="#222" stroke-width="0.12" >0.100</text>
<line x1="139.50" y1="344.60" x2="139.50" y2="347.50" stroke="#000" stroke-width="1.0" />
<text x="139.60" y="353.70" font-size="4.45" text-anchor="middle" fill="#222" font-family="Liberation Sans" stroke="#222" stroke-width="0.12" >0.125</text>
<line x1="153.50" y1="344.60" x2="153.50" y2="347.50" stroke="#000" stroke-width="1.0" />
<text x="153.60" y="353.70" font-size="4.45" text-anchor="middle" fill="#222" font-family="Liberation Sans" stroke="#222" stroke-width="0.12" >0.150</text>
<text x="130.20" y="361.40" font-size="5.70" text-anchor="middle" fill="#1a1a1a" font-family="Liberation Sans" stroke="#1a1a1a" stroke-width="0.12" >GeneRatio</text>
<text x="180.00" y="216.60" font-size="4.60" text-anchor="start" fill="#1a1a1a" font-family="Liberation Sans" stroke="#1a1a1a" stroke-width="0.12" >P adj</text>
<defs><linearGradient id="g2" x1="0" y1="0" x2="0" y2="1"><stop offset="0" stop-color="#ff050a"/><stop offset="0.25" stop-color="#c81432"/><stop offset="0.5" stop-color="#8c1964"/><stop offset="0.75" stop-color="#5a2396"/><stop offset="1" stop-color="#192ddc"/></linearGradient></defs>
<rect x="180.00" y="218.80" width="8.80" height="39.10" fill="url(#g2)" stroke="none" stroke-width="0.5" />
<line x1="180.00" y1="221.80" x2="181.60" y2="221.80" stroke="#fff" stroke-width="0.5" />
<line x1="187.20" y1="221.80" x2="188.80" y2="221.80" stroke="#fff" stroke-width="0.5" />
<line x1="180.00" y1="231.30" x2="181.60" y2="231.30" stroke="#fff" stroke-width="0.5" />
<line x1="187.20" y1="231.30" x2="188.80" y2="231.30" stroke="#fff" stroke-width="0.5" />
<line x1="180.00" y1="240.20" x2="181.60" y2="240.20" stroke="#fff" stroke-width="0.5" />
<line x1="187.20" y1="240.20" x2="188.80" y2="240.20" stroke="#fff" stroke-width="0.5" />
<line x1="180.00" y1="248.90" x2="181.60" y2="248.90" stroke="#fff" stroke-width="0.5" />
<line x1="187.20" y1="248.90" x2="188.80" y2="248.90" stroke="#fff" stroke-width="0.5" />
<text x="191.80" y="223.46" font-size="4.60" text-anchor="start" fill="#222" font-family="Liberation Sans" stroke="#222" stroke-width="0.12" >0.004</text>
<text x="191.80" y="232.96" font-size="4.60" text-anchor="start" fill="#222" font-family="Liberation Sans" stroke="#222" stroke-width="0.12" >0.003</text>
<text x="191.80" y="241.86" font-size="4.60" text-anchor="start" fill="#222" font-family="Liberation Sans" stroke="#222" stroke-width="0.12" >0.002</text>
<text x="191.80" y="250.56" font-size="4.60" text-anchor="start" fill="#222" font-family="Liberation Sans" stroke="#222" stroke-width="0.12" >0.001</text>
<text x="180.00" y="266.40" font-size="4.60" text-anchor="start" fill="#1a1a1a" font-family="Liberation Sans" stroke="#1a1a1a" stroke-width="0.12" >Counts</text>
<circle cx="185.30" cy="273.00" r="1.20" fill="#c9d1d1" stroke="#1a1a1a" stroke-width="0.8"/>
<text x="193.60" y="274.66" font-size="4.60" text-anchor="start" fill="#222" font-family="Liberation Sans" stroke="#222" stroke-width="0.12" >5.0</text>
<circle cx="185.30" cy="280.90" r="3.00" fill="#c9d1d1" stroke="#1a1a1a" stroke-width="0.8"/>
<text x="193.60" y="282.56" font-size="4.60" text-anchor="start" fill="#222" font-family="Liberation Sans" stroke="#222" stroke-width="0.12" >7.5</text>
<circle cx="185.30" cy="288.70" r="3.60" fill="#c9d1d1" stroke="#1a1a1a" stroke-width="0.8"/>
<text x="193.60" y="290.36" font-size="4.60" text-anchor="start" fill="#222" font-family="Liberation Sans" stroke="#222" stroke-width="0.12" >10.0</text>
<circle cx="185.30" cy="296.60" r="4.20" fill="#c9d1d1" stroke="#1a1a1a" stroke-width="0.8"/>
<text x="193.60" y="298.26" font-size="4.60" text-anchor="start" fill="#222" font-family="Liberation Sans" stroke="#222" stroke-width="0.12" >12.5</text>
<circle cx="185.30" cy="305.60" r="4.60" fill="#c9d1d1" stroke="#1a1a1a" stroke-width="0.8"/>
<text x="193.60" y="307.26" font-size="4.60" text-anchor="start" fill="#222" font-family="Liberation Sans" stroke="#222" stroke-width="0.12" >15.0</text>
<text x="233.90" y="188.80" font-size="16.80" text-anchor="start" fill="#000" font-family="Liberation Sans" >D</text>
<rect x="319.30" y="179.20" width="68.50" height="123.10" fill="#fff" stroke="none" stroke-width="0.5" />
<line x1="326.10" y1="179.20" x2="326.10" y2="302.30" stroke="#e3eaea" stroke-width="0.5" />
<line x1="335.40" y1="179.20" x2="335.40" y2="302.30" stroke="#e3eaea" stroke-width="0.95" />
<line x1="344.20" y1="179.20" x2="344.20" y2="302.30" stroke="#e3eaea" stroke-width="0.5" />
<line x1="353.50" y1="179.20" x2="353.50" y2="302.30" stroke="#e3eaea" stroke-width="0.95" />
<line x1="362.60" y1="179.20" x2="362.60" y2="302.30" stroke="#e3eaea" stroke-width="0.5" />
<line x1="371.50" y1="179.20" x2="371.50" y2="302.30" stroke="#e3eaea" stroke-width="0.95" />
<line x1="381.00" y1="179.20" x2="381.00" y2="302.30" stroke="#e3eaea" stroke-width="0.5" />
<line x1="319.30" y1="186.50" x2="387.80" y2="186.50" stroke="#e3eaea" stroke-width="0.95" />
<line x1="319.30" y1="198.50" x2="387.80" y2="198.50" stroke="#e3eaea" stroke-width="0.95" />
<line x1="319.30" y1="210.50" x2="387.80" y2="210.50" stroke="#e3eaea" stroke-width="0.95" />
<line x1="319.30" y1="222.70" x2="387.80" y2="222.70" stroke="#e3eaea" stroke-width="0.95" />
<line x1="319.30" y1="234.90" x2="387.80" y2="234.90" stroke="#e3eaea" stroke-width="0.95" />
<line x1="319.30" y1="247.00" x2="387.80" y2="247.00" stroke="#e3eaea" stroke-width="0.95" />
<line x1="319.30" y1="259.20" x2="387.80" y2="259.20" stroke="#e3eaea" stroke-width="0.95" />
<line x1="319.30" y1="271.20" x2="387.80" y2="271.20" stroke="#e3eaea" stroke-width="0.95" />
<line x1="319.30" y1="283.20" x2="387.80" y2="283.20" stroke="#e3eaea" stroke-width="0.95" />
<line x1="319.30" y1="295.30" x2="387.80" y2="295.30" stroke="#e3eaea" stroke-width="0.95" />
<defs><clipPath id="cp3"><rect x="319.3" y="179.2" width="68.5" height="123.10000000000002"/></clipPath></defs>
<g clip-path="url(#cp3)">
<circle cx="376.60" cy="186.50" r="4.60" fill="#0f37d2" stroke="none" stroke-width="0.5"/>
<circle cx="337.70" cy="198.50" r="3.40" fill="#0f37d2" stroke="none" stroke-width="0.5"/>
<circle cx="330.10" cy="210.50" r="3.10" fill="#0f37d2" stroke="none" stroke-width="0.5"/>
<circle cx="330.10" cy="222.70" r="3.10" fill="#0f37d2" stroke="none" stroke-width="0.5"/>
<circle cx="330.10" cy="234.90" r="3.10" fill="#0f37d2" stroke="none" stroke-width="0.5"/>
<circle cx="330.10" cy="247.00" r="3.10" fill="#0f37d2" stroke="none" stroke-width="0.5"/>
<circle cx="330.10" cy="259.20" r="3.10" fill="#0f37d2" stroke="none" stroke-width="0.5"/>
<circle cx="330.10" cy="271.20" r="3.10" fill="#0f37d2" stroke="none" stroke-width="0.5"/>
<circle cx="330.10" cy="283.20" r="3.10" fill="#0f37d2" stroke="none" stroke-width="0.5"/>
<circle cx="322.30" cy="295.30" r="1.70" fill="#0f37d2" stroke="none" stroke-width="0.5"/>
</g>
<rect x="387.80" y="179.20" width="12.40" height="123.10" fill="#d5dddd" stroke="#222" stroke-width="0.8" />
<text x="394.00" y="240.75" font-size="6.80" text-anchor="middle" fill="#1a1a1a" font-family="Liberation Sans" transform="rotate(90 394.00 240.75)" dy="2.38">MF</text>
<rect x="319.30" y="179.20" width="68.50" height="123.10" fill="none" stroke="#000" stroke-width="1.3" />
<line x1="316.40" y1="186.50" x2="319.30" y2="186.50" stroke="#000" stroke-width="1.0" />
<text x="313.50" y="188.47" font-size="4.68" text-anchor="end" fill="#000" font-family="Liberation Sans" stroke="#000" stroke-width="0.12" >antioxidant activity</text>
<line x1="316.40" y1="198.50" x2="319.30" y2="198.50" stroke="#000" stroke-width="1.0" />
<text x="313.50" y="198.12" font-size="4.68" text-anchor="end" fill="#000" font-family="Liberation Sans" stroke="#000" stroke-width="0.12" >oxidoreductase activity, acting</text>
<text x="313.50" y="202.82" font-size="4.68" text-anchor="end" fill="#000" font-family="Liberation Sans" stroke="#000" stroke-width="0.12" >on peroxide as acceptor</text>
<line x1="316.40" y1="210.50" x2="319.30" y2="210.50" stroke="#000" stroke-width="1.0" />
<text x="313.50" y="210.12" font-size="4.68" text-anchor="end" fill="#000" font-family="Liberation Sans" stroke="#000" stroke-width="0.12" >oxidoreductase activity, acting</text>
<text x="313.50" y="214.82" font-size="4.68" text-anchor="end" fill="#000" font-family="Liberation Sans" stroke="#000" stroke-width="0.12" >on a sulfur group of donors</text>
<line x1="316.40" y1="222.50" x2="319.30" y2="222.50" stroke="#000" stroke-width="1.0" />
<text x="313.50" y="224.67" font-size="4.68" text-anchor="end" fill="#000" font-family="Liberation Sans" stroke="#000" stroke-width="0.12" >peroxidase activity</text>
<line x1="316.40" y1="234.50" x2="319.30" y2="234.50" stroke="#000" stroke-width="1.0" />
<text x="313.50" y="236.87" font-size="4.68" text-anchor="end" fill="#000" font-family="Liberation Sans" stroke="#000" stroke-width="0.12" >disulfide oxidoreductase activity</text>
<line x1="316.40" y1="247.50" x2="319.30" y2="247.50" stroke="#000" stroke-width="1.0" />
<text x="313.50" y="248.97" font-size="4.68" text-anchor="end" fill="#000" font-family="Liberation Sans" stroke="#000" stroke-width="0.12" >oxygen binding</text>
<line x1="316.40" y1="259.50" x2="319.30" y2="259.50" stroke="#000" stroke-width="1.0" />
<text x="313.50" y="261.17" font-size="4.68" text-anchor="end" fill="#000" font-family="Liberation Sans" stroke="#000" stroke-width="0.12" >protein−disulfide reductase activity</text>
<line x1="316.40" y1="271.50" x2="319.30" y2="271.50" stroke="#000" stroke-width="1.0" />
<text x="313.50" y="268.47" font-size="4.68" text-anchor="end" fill="#000" font-family="Liberation Sans" stroke="#000" stroke-width="0.12" >oxidoreductase activity, acting</text>
<text x="313.50" y="273.17" font-size="4.68" text-anchor="end" fill="#000" font-family="Liberation Sans" stroke="#000" stroke-width="0.12" >on a sulfur group of donors,</text>
<text x="313.50" y="277.87" font-size="4.68" text-anchor="end" fill="#000" font-family="Liberation Sans" stroke="#000" stroke-width="0.12" >NAD(P) as acceptor</text>
<line x1="316.40" y1="283.50" x2="319.30" y2="283.50" stroke="#000" stroke-width="1.0" />
<text x="313.50" y="282.82" font-size="4.68" text-anchor="end" fill="#000" font-family="Liberation Sans" stroke="#000" stroke-width="0.12" >protein−disulfide reductase (NAD(P))</text>
<text x="313.50" y="287.52" font-size="4.68" text-anchor="end" fill="#000" font-family="Liberation Sans" stroke="#000" stroke-width="0.12" >activity</text>
<line x1="316.40" y1="295.50" x2="319.30" y2="295.50" stroke="#000" stroke-width="1.0" />
<text x="313.50" y="297.27" font-size="4.68" text-anchor="end" fill="#000" font-family="Liberation Sans" stroke="#000" stroke-width="0.12" >GDP−dissociation inhibitor activity</text>
<rect x="319.30" y="306.50" width="68.50" height="38.00" fill="#fff" stroke="none" stroke-width="0.5" />
<line x1="326.10" y1="306.50" x2="326.10" y2="344.50" stroke="#e3eaea" stroke-width="0.5" />
<line x1="335.40" y1="306.50" x2="335.40" y2="344.50" stroke="#e3eaea" stroke-width="0.95" />
<line x1="344.20" y1="306.50" x2="344.20" y2="344.50" stroke="#e3eaea" stroke-width="0.5" />
<line x1="353.50" y1="306.50" x2="353.50" y2="344.50" stroke="#e3eaea" stroke-width="0.95" />
<line x1="362.60" y1="306.50" x2="362.60" y2="344.50" stroke="#e3eaea" stroke-width="0.5" />
<line x1="371.50" y1="306.50" x2="371.50" y2="344.50" stroke="#e3eaea" stroke-width="0.95" />
<line x1="381.00" y1="306.50" x2="381.00" y2="344.50" stroke="#e3eaea" stroke-width="0.5" />
<line x1="319.30" y1="313.30" x2="387.80" y2="313.30" stroke="#e3eaea" stroke-width="0.95" />
<line x1="319.30" y1="325.40" x2="387.80" y2="325.40" stroke="#e3eaea" stroke-width="0.95" />
<line x1="319.30" y1="337.40" x2="387.80" y2="337.40" stroke="#e3eaea" stroke-width="0.95" />
<defs><clipPath id="cp4"><rect x="319.3" y="306.5" width="68.5" height="38.0"/></clipPath></defs>
<g clip-path="url(#cp4)">
<circle cx="383.90" cy="313.30" r="3.70" fill="#f51419" stroke="none" stroke-width="0.5"/>
<circle cx="369.90" cy="325.40" r="3.50" fill="#8a1c5e" stroke="none" stroke-width="0.5"/>
<circle cx="341.50" cy="337.40" r="1.80" fill="#8a1c5e" stroke="none" stroke-width="0.5"/>
</g>
<rect x="387.80" y="306.50" width="12.40" height="38.00" fill="#d5dddd" stroke="#222" stroke-width="0.8" />
<text x="394.00" y="325.50" font-size="6.80" text-anchor="middle" fill="#1a1a1a" font-family="Liberation Sans" transform="rotate(90 394.00 325.50)" dy="2.38">KEGG</text>
<rect x="319.30" y="306.50" width="68.50" height="38.00" fill="none" stroke="#000" stroke-width="1.3" />
<line x1="316.40" y1="313.50" x2="319.30" y2="313.50" stroke="#000" stroke-width="1.0" />
<text x="313.50" y="312.92" font-size="4.68" text-anchor="end" fill="#000" font-family="Liberation Sans" stroke="#000" stroke-width="0.12" >Neutrophil extracellular trap</text>
<text x="313.50" y="317.62" font-size="4.68" text-anchor="end" fill="#000" font-family="Liberation Sans" stroke="#000" stroke-width="0.12" >formation</text>
<line x1="316.40" y1="325.50" x2="319.30" y2="325.50" stroke="#000" stroke-width="1.0" />
<text x="313.50" y="327.37" font-size="4.68" text-anchor="end" fill="#000" font-family="Liberation Sans" stroke="#000" stroke-width="0.12" >Salivary secretion</text>
<line x1="316.40" y1="337.50" x2="319.30" y2="337.50" stroke="#000" stroke-width="1.0" />
<text x="313.50" y="339.37" font-size="4.68" text-anchor="end" fill="#000" font-family="Liberation Sans" stroke="#000" stroke-width="0.12" >Renin−angiotensin system</text>
<line x1="335.50" y1="344.50" x2="335.50" y2="347.40" stroke="#000" stroke-width="1.0" />
<text x="335.40" y="353.70" font-size="4.70" text-anchor="middle" fill="#222" font-family="Liberation Sans" stroke="#222" stroke-width="0.12" >0.050</text>
<line x1="353.50" y1="344.50" x2="353.50" y2="347.40" stroke="#000" stroke-width="1.0" />
<text x="353.40" y="353.70" font-size="4.70" text-anchor="middle" fill="#222" font-family="Liberation Sans" stroke="#222" stroke-width="0.12" >0.075</text>
<line x1="371.50" y1="344.50" x2="371.50" y2="347.40" stroke="#000" stroke-width="1.0" />
<text x="371.40" y="353.70" font-size="4.70" text-anchor="middle" fill="#222" font-family="Liberation Sans" stroke="#222" stroke-width="0.12" >0.100</text>
<text x="353.30" y="361.60" font-size="5.86" text-anchor="middle" fill="#1a1a1a" font-family="Liberation Sans" stroke="#1a1a1a" stroke-width="0.12" >GeneRatio</text>
<text x="404.10" y="220.90" font-size="4.80" text-anchor="start" fill="#1a1a1a" font-family="Liberation Sans" stroke="#1a1a1a" stroke-width="0.12" >P adj</text>
<defs><linearGradient id="g5" x1="0" y1="0" x2="0" y2="1"><stop offset="0" stop-color="#ff050a"/><stop offset="0.25" stop-color="#c81432"/><stop offset="0.5" stop-color="#8c1964"/><stop offset="0.75" stop-color="#5a2396"/><stop offset="1" stop-color="#192ddc"/></linearGradient></defs>
<rect x="404.10" y="223.20" width="7.90" height="38.90" fill="url(#g5)" stroke="none" stroke-width="0.5" />
<line x1="404.10" y1="226.20" x2="405.70" y2="226.20" stroke="#fff" stroke-width="0.5" />
<line x1="410.40" y1="226.20" x2="412.00" y2="226.20" stroke="#fff" stroke-width="0.5" />
<line x1="404.10" y1="233.20" x2="405.70" y2="233.20" stroke="#fff" stroke-width="0.5" />
<line x1="410.40" y1="233.20" x2="412.00" y2="233.20" stroke="#fff" stroke-width="0.5" />
<line x1="404.10" y1="240.70" x2="405.70" y2="240.70" stroke="#fff" stroke-width="0.5" />
<line x1="410.40" y1="240.70" x2="412.00" y2="240.70" stroke="#fff" stroke-width="0.5" />
<line x1="404.10" y1="247.70" x2="405.70" y2="247.70" stroke="#fff" stroke-width="0.5" />
<line x1="410.40" y1="247.70" x2="412.00" y2="247.70" stroke="#fff" stroke-width="0.5" />
<line x1="404.10" y1="255.20" x2="405.70" y2="255.20" stroke="#fff" stroke-width="0.5" />
<line x1="410.40" y1="255.20" x2="412.00" y2="255.20" stroke="#fff" stroke-width="0.5" />
<text x="414.80" y="227.93" font-size="4.80" text-anchor="start" fill="#222" font-family="Liberation Sans" stroke="#222" stroke-width="0.12" >0.05</text>
<text x="414.80" y="234.93" font-size="4.80" text-anchor="start" fill="#222" font-family="Liberation Sans" stroke="#222" stroke-width="0.12" >0.04</text>
<text x="414.80" y="242.43" font-size="4.80" text-anchor="start" fill="#222" font-family="Liberation Sans" stroke="#222" stroke-width="0.12" >0.03</text>
<text x="414.80" y="249.43" font-size="4.80" text-anchor="start" fill="#222" font-family="Liberation Sans" stroke="#222" stroke-width="0.12" >0.02</text>
<text x="414.80" y="256.93" font-size="4.80" text-anchor="start" fill="#222" font-family="Liberation Sans" stroke="#222" stroke-width="0.12" >0.01</text>
<text x="404.10" y="270.40" font-size="4.80" text-anchor="start" fill="#1a1a1a" font-family="Liberation Sans" stroke="#1a1a1a" stroke-width="0.12" >Counts</text>
<circle cx="409.00" cy="277.30" r="2.20" fill="#c9d1d1" stroke="#1a1a1a" stroke-width="0.8"/>
<text x="417.20" y="279.03" font-size="4.80" text-anchor="start" fill="#222" font-family="Liberation Sans" stroke="#222" stroke-width="0.12" >4</text>
<circle cx="409.00" cy="284.70" r="2.90" fill="#c9d1d1" stroke="#1a1a1a" stroke-width="0.8"/>
<text x="417.20" y="286.43" font-size="4.80" text-anchor="start" fill="#222" font-family="Liberation Sans" stroke="#222" stroke-width="0.12" >6</text>
<circle cx="409.00" cy="292.60" r="3.50" fill="#c9d1d1" stroke="#1a1a1a" stroke-width="0.8"/>
<text x="417.20" y="294.33" font-size="4.80" text-anchor="start" fill="#222" font-family="Liberation Sans" stroke="#222" stroke-width="0.12" >8</text>
<circle cx="409.00" cy="301.80" r="4.10" fill="#c9d1d1" stroke="#1a1a1a" stroke-width="0.8"/>
<text x="417.20" y="303.53" font-size="4.80" text-anchor="start" fill="#222" font-family="Liberation Sans" stroke="#222" stroke-width="0.12" >10</text>
<text x="474.80" y="188.80" font-size="16.80" text-anchor="start" fill="#000" font-family="Liberation Sans" >E</text>
<line x1="520.50" y1="204.40" x2="520.50" y2="305.50" stroke="#111" stroke-width="0.7" />
<line x1="516.30" y1="305.50" x2="520.85" y2="305.50" stroke="#111" stroke-width="0.7" />
<line x1="518.00" y1="204.40" x2="520.50" y2="204.40" stroke="#111" stroke-width="0.7" />
<text x="513.40" y="207.00" font-size="7.60" text-anchor="end" fill="#000" font-family="Liberation Serif" stroke="#000" stroke-width="0.12" >1.0</text>
<line x1="518.00" y1="230.58" x2="520.50" y2="230.58" stroke="#111" stroke-width="0.7" />
<text x="513.40" y="233.18" font-size="7.60" text-anchor="end" fill="#000" font-family="Liberation Serif" stroke="#000" stroke-width="0.12" >0.8</text>
<line x1="518.00" y1="256.76" x2="520.50" y2="256.76" stroke="#111" stroke-width="0.7" />
<text x="513.40" y="259.36" font-size="7.60" text-anchor="end" fill="#000" font-family="Liberation Serif" stroke="#000" stroke-width="0.12" >0.6</text>
<line x1="518.00" y1="282.94" x2="520.50" y2="282.94" stroke="#111" stroke-width="0.7" />
<text x="513.40" y="285.54" font-size="7.60" text-anchor="end" fill="#000" font-family="Liberation Serif" stroke="#000" stroke-width="0.12" >0.4</text>
<text x="0" y="0" font-size="8.3" text-anchor="middle" font-family="Liberation Serif" stroke="#000" stroke-width="0.1" transform="translate(500.2 254.9) rotate(-90)">Height</text>
<path d="M521.80 224.40L521.80 221.78 M521.80 221.78L522.10 221.78 M522.10 224.40L522.10 221.78 M521.50 220.21L521.50 217.59 M521.50 217.59L521.95 217.59 M521.95 221.78L521.95 217.59 M522.41 226.12L522.41 223.50 M522.41 223.50L522.71 223.50 M522.71 226.12L522.71 223.50 M523.61 231.62L523.61 229.00 M523.61 229.00L523.91 229.00 M523.91 231.62L523.91 229.00 M523.31 226.81L523.31 224.19 M523.31 224.19L523.76 224.19 M523.76 229.00L523.76 224.19 M524.22 230.01L524.22 227.39 M524.22 227.39L524.52 227.39 M524.52 230.01L524.52 227.39 M525.12 233.56L525.12 230.94 M525.12 230.94L525.42 230.94 M525.42 233.56L525.42 230.94 M524.82 228.38L524.82 225.76 M524.82 225.76L525.27 225.76 M525.27 230.94L525.27 225.76 M525.72 238.21L525.72 235.59 M525.72 235.59L526.03 235.59 M526.03 238.21L526.03 235.59 M526.33 235.44L526.33 232.82 M526.33 232.82L526.63 232.82 M526.63 235.44L526.63 232.82 M525.88 235.59L525.88 224.29 M525.88 224.29L526.48 224.29 M526.48 232.82L526.48 224.29 M525.05 225.76L525.05 223.09 M525.05 223.09L526.18 223.09 M526.18 224.29L526.18 223.09 M524.37 227.39L524.37 219.27 M524.37 219.27L525.61 219.27 M525.61 223.09L525.61 219.27 M523.54 224.19L523.54 218.30 M523.54 218.30L524.99 218.30 M524.99 219.27L524.99 218.30 M523.01 218.43L523.01 215.81 M523.01 215.81L524.26 215.81 M524.26 218.30L524.26 215.81 M526.93 224.70L526.93 222.08 M526.93 222.08L527.23 222.08 M527.23 224.70L527.23 222.08 M527.84 230.99L527.84 228.38 M527.84 228.38L528.14 228.38 M528.14 230.99L528.14 228.38 M527.54 223.96L527.54 221.34 M527.54 221.34L527.99 221.34 M527.99 228.38L527.99 221.34 M527.08 222.08L527.08 214.72 M527.08 214.72L527.76 214.72 M527.76 221.34L527.76 214.72 M523.64 215.81L523.64 213.17 M523.64 213.17L527.42 213.17 M527.42 214.72L527.42 213.17 M522.56 223.50L522.56 210.19 M522.56 210.19L525.53 210.19 M525.53 213.17L525.53 210.19 M521.73 217.59L521.73 209.32 M521.73 209.32L524.04 209.32 M524.04 210.19L524.04 209.32 M528.44 230.38L528.44 227.77 M528.44 227.77L528.74 227.77 M528.74 230.38L528.74 227.77 M529.04 228.74L529.04 226.13 M529.04 226.13L529.35 226.13 M529.35 228.74L529.35 226.13 M528.59 227.77L528.59 208.70 M528.59 208.70L529.20 208.70 M529.20 226.13L529.20 208.70 M529.95 231.29L529.95 228.67 M529.95 228.67L530.25 228.67 M530.25 231.29L530.25 228.67 M529.65 221.53L529.65 218.91 M529.65 218.91L530.10 218.91 M530.10 228.67L530.10 218.91 M530.55 225.45L530.55 222.83 M530.55 222.83L530.86 222.83 M530.86 225.45L530.86 222.83 M531.16 219.43L531.16 216.81 M531.16 216.81L531.46 216.81 M531.46 219.43L531.46 216.81 M530.70 222.83L530.70 212.69 M530.70 212.69L531.31 212.69 M531.31 216.81L531.31 212.69 M529.87 218.91L529.87 210.06 M529.87 210.06L531.01 210.06 M531.01 212.69L531.01 210.06 M532.06 227.90L532.06 225.28 M532.06 225.28L532.36 225.28 M532.36 227.90L532.36 225.28 M531.76 218.84L531.76 216.22 M531.76 216.22L532.21 216.22 M532.21 225.28L532.21 216.22 M532.67 217.23L532.67 214.61 M532.67 214.61L532.97 214.61 M532.97 217.23L532.97 214.61 M531.99 216.22L531.99 211.28 M531.99 211.28L532.82 211.28 M532.82 214.61L532.82 211.28 M533.57 227.52L533.57 224.90 M533.57 224.90L533.87 224.90 M533.87 227.52L533.87 224.90 M533.27 220.91L533.27 218.30 M533.27 218.30L533.72 218.30 M533.72 224.90L533.72 218.30 M534.17 217.97L534.17 215.36 M534.17 215.36L534.48 215.36 M534.48 217.97L534.48 215.36 M533.50 218.30L533.50 209.33 M533.50 209.33L534.33 209.33 M534.33 215.36L534.33 209.33 M534.78 222.94L534.78 220.32 M534.78 220.32L535.08 220.32 M535.08 222.94L535.08 220.32 M535.38 220.57L535.38 217.95 M535.38 217.95L535.68 217.95 M535.68 220.57L535.68 217.95 M534.93 220.32L534.93 210.16 M534.93 210.16L535.53 210.16 M535.53 217.95L535.53 210.16 M536.89 230.98L536.89 228.36 M536.89 228.36L537.19 228.36 M537.19 230.98L537.19 228.36 M536.59 225.06L536.59 222.44 M536.59 222.44L537.04 222.44 M537.04 228.36L537.04 222.44 M536.29 219.89L536.29 217.27 M536.29 217.27L536.82 217.27 M536.82 222.44L536.82 217.27 M537.49 231.92L537.49 229.30 M537.49 229.30L537.80 229.30 M537.80 231.92L537.80 229.30 M538.10 230.89L538.10 228.27 M538.10 228.27L538.40 228.27 M538.40 230.89L538.40 228.27 M539.00 233.25L539.00 230.63 M539.00 230.63L539.30 230.63 M539.30 233.25L539.30 230.63 M538.70 229.99L538.70 227.37 M538.70 227.37L539.15 227.37 M539.15 230.63L539.15 227.37 M540.21 244.57L540.21 241.95 M540.21 241.95L540.51 241.95 M540.51 244.57L540.51 241.95 M539.91 236.08L539.91 233.46 M539.91 233.46L540.36 233.46 M540.36 241.95L540.36 233.46 M539.61 231.33L539.61 228.72 M539.61 228.72L540.13 228.72 M540.13 233.46L540.13 228.72 M541.12 247.24L541.12 244.62 M541.12 244.62L541.42 244.62 M541.42 247.24L541.42 244.62 M540.81 236.84L540.81 234.22 M540.81 234.22L541.27 234.22 M541.27 244.62L541.27 234.22 M541.72 239.87L541.72 237.25 M541.72 237.25L542.02 237.25 M542.02 239.87L542.02 237.25 M542.32 236.22L542.32 233.61 M542.32 233.61L542.62 233.61 M542.62 236.22L542.62 233.61 M541.87 237.25L541.87 228.10 M541.87 228.10L542.47 228.10 M542.47 233.61L542.47 228.10 M541.04 234.22L541.04 226.98 M541.04 226.98L542.17 226.98 M542.17 228.10L542.17 226.98 M539.87 228.72L539.87 223.92 M539.87 223.92L541.61 223.92 M541.61 226.98L541.61 223.92 M542.93 234.30L542.93 231.68 M542.93 231.68L543.23 231.68 M543.23 234.30L543.23 231.68 M543.83 235.44L543.83 232.83 M543.83 232.83L544.13 232.83 M544.13 235.44L544.13 232.83 M543.53 230.30L543.53 227.68 M543.53 227.68L543.98 227.68 M543.98 232.83L543.98 227.68 M543.08 231.68L543.08 222.51 M543.08 222.51L543.76 222.51 M543.76 227.68L543.76 222.51 M540.74 223.92L540.74 221.05 M540.74 221.05L543.42 221.05 M543.42 222.51L543.42 221.05 M538.93 227.37L538.93 218.55 M538.93 218.55L542.08 218.55 M542.08 221.05L542.08 218.55 M538.25 228.27L538.25 215.82 M538.25 215.82L540.50 215.82 M540.50 218.55L540.50 215.82 M537.64 229.30L537.64 214.22 M537.64 214.22L539.38 214.22 M539.38 215.82L539.38 214.22 M536.55 217.27L536.55 211.73 M536.55 211.73L538.51 211.73 M538.51 214.22L538.51 211.73 M535.99 212.64L535.99 210.03 M535.99 210.03L537.53 210.03 M537.53 211.73L537.53 210.03 M535.23 210.16L535.23 208.18 M535.23 208.18L536.76 208.18 M536.76 210.03L536.76 208.18 M533.91 209.33L533.91 207.27 M533.91 207.27L535.99 207.27 M535.99 208.18L535.99 207.27 M532.40 211.28L532.40 207.03 M532.40 207.03L534.95 207.03 M534.95 207.27L534.95 207.03 M530.44 210.06L530.44 206.52 M530.44 206.52L533.68 206.52 M533.68 207.03L533.68 206.52 M544.74 223.50L544.74 220.89 M544.74 220.89L545.04 220.89 M545.04 223.50L545.04 220.89 M544.43 219.51L544.43 216.89 M544.43 216.89L544.89 216.89 M544.89 220.89L544.89 216.89 M545.64 229.33L545.64 226.71 M545.64 226.71L545.94 226.71 M545.94 229.33L545.94 226.71 M545.34 221.19L545.34 218.57 M545.34 218.57L545.79 218.57 M545.79 226.71L545.79 218.57 M546.25 219.22L546.25 216.60 M546.25 216.60L546.55 216.60 M546.55 219.22L546.55 216.60 M545.57 218.57L545.57 213.40 M545.57 213.40L546.40 213.40 M546.40 216.60L546.40 213.40 M544.66 216.89L544.66 206.95 M544.66 206.95L545.98 206.95 M545.98 213.40L545.98 206.95 M546.85 227.04L546.85 224.42 M546.85 224.42L547.15 224.42 M547.15 227.04L547.15 224.42 M547.45 219.19L547.45 216.57 M547.45 216.57L547.75 216.57 M547.75 219.19L547.75 216.57 M547.00 224.42L547.00 211.50 M547.00 211.50L547.60 211.50 M547.60 216.57L547.60 211.50 M548.06 222.62L548.06 220.00 M548.06 220.00L548.36 220.00 M548.36 222.62L548.36 220.00 M548.96 226.70L548.96 224.08 M548.96 224.08L549.26 224.08 M549.26 226.70L549.26 224.08 M548.66 218.51L548.66 215.89 M548.66 215.89L549.11 215.89 M549.11 224.08L549.11 215.89 M548.21 220.00L548.21 213.70 M548.21 213.70L548.89 213.70 M548.89 215.89L548.89 213.70 M549.87 227.86L549.87 225.24 M549.87 225.24L550.17 225.24 M550.17 227.86L550.17 225.24 M549.57 222.92L549.57 220.30 M549.57 220.30L550.02 220.30 M550.02 225.24L550.02 220.30 M550.77 231.12L550.77 228.50 M550.77 228.50L551.07 228.50 M551.07 231.12L551.07 228.50 M550.47 221.66L550.47 219.04 M550.47 219.04L550.92 219.04 M550.92 228.50L550.92 219.04 M551.38 227.84L551.38 225.22 M551.38 225.22L551.68 225.22 M551.68 227.84L551.68 225.22 M552.28 224.80L552.28 222.18 M552.28 222.18L552.58 222.18 M552.58 224.80L552.58 222.18 M551.98 222.76L551.98 220.15 M551.98 220.15L552.43 220.15 M552.43 222.18L552.43 220.15 M551.53 225.22L551.53 213.53 M551.53 213.53L552.21 213.53 M552.21 220.15L552.21 213.53 M552.88 225.18L552.88 222.56 M552.88 222.56L553.19 222.56 M553.19 225.18L553.19 222.56 M553.49 233.73L553.49 231.11 M553.49 231.11L553.79 231.11 M553.79 233.73L553.79 231.11 M554.09 227.27L554.09 224.65 M554.09 224.65L554.39 224.65 M554.39 227.27L554.39 224.65 M553.64 231.11L553.64 221.78 M553.64 221.78L554.24 221.78 M554.24 224.65L554.24 221.78 M554.70 233.97L554.70 231.35 M554.70 231.35L555.00 231.35 M555.00 233.97L555.00 231.35 M555.60 233.25L555.60 230.64 M555.60 230.64L555.90 230.64 M555.90 233.25L555.90 230.64 M556.20 230.03L556.20 227.41 M556.20 227.41L556.51 227.41 M556.51 230.03L556.51 227.41 M557.11 239.80L557.11 237.18 M557.11 237.18L557.41 237.18 M557.41 239.80L557.41 237.18 M556.81 231.07L556.81 228.45 M556.81 228.45L557.26 228.45 M557.26 237.18L557.26 228.45 M557.71 240.27L557.71 237.65 M557.71 237.65L558.01 237.65 M558.01 240.27L558.01 237.65 M558.32 235.70L558.32 233.08 M558.32 233.08L558.62 233.08 M558.62 235.70L558.62 233.08 M558.92 243.77L558.92 241.15 M558.92 241.15L559.22 241.15 M559.22 243.77L559.22 241.15 M559.52 238.52L559.52 235.90 M559.52 235.90L559.83 235.90 M559.83 238.52L559.83 235.90 M560.13 236.70L560.13 234.08 M560.13 234.08L560.43 234.08 M560.43 236.70L560.43 234.08 M561.03 245.14L561.03 242.52 M561.03 242.52L561.33 242.52 M561.33 245.14L561.33 242.52 M560.73 241.16L560.73 238.54 M560.73 238.54L561.18 238.54 M561.18 242.52L561.18 238.54 M561.94 246.58L561.94 243.96 M561.94 243.96L562.24 243.96 M562.24 246.58L562.24 243.96 M563.45 249.04L563.45 246.42 M563.45 246.42L563.75 246.42 M563.75 249.04L563.75 246.42 M564.35 254.51L564.35 251.89 M564.35 251.89L564.65 251.89 M564.65 254.51L564.65 251.89 M564.05 248.31L564.05 245.69 M564.05 245.69L564.50 245.69 M564.50 251.89L564.50 245.69 M563.60 246.42L563.60 239.90 M563.60 239.90L564.28 239.90 M564.28 245.69L564.28 239.90 M564.96 249.18L564.96 246.56 M564.96 246.56L565.26 246.56 M565.26 249.18L565.26 246.56 M566.16 268.42L566.16 265.80 M566.16 265.80L566.46 265.80 M566.46 268.42L566.46 265.80 M567.07 265.11L567.07 262.49 M567.07 262.49L567.37 262.49 M567.37 265.11L567.37 262.49 M566.77 259.07L566.77 256.45 M566.77 256.45L567.22 256.45 M567.22 262.49L567.22 256.45 M566.31 265.80L566.31 249.71 M566.31 249.71L566.99 249.71 M566.99 256.45L566.99 249.71 M567.67 254.80L567.67 252.18 M567.67 252.18L567.97 252.18 M567.97 254.80L567.97 252.18 M568.28 260.64L568.28 258.02 M568.28 258.02L568.58 258.02 M568.58 260.64L568.58 258.02 M569.48 262.09L569.48 259.47 M569.48 259.47L569.78 259.47 M569.78 262.09L569.78 259.47 M569.18 259.70L569.18 257.08 M569.18 257.08L569.63 257.08 M569.63 259.47L569.63 257.08 M568.88 254.04L568.88 251.43 M568.88 251.43L569.41 251.43 M569.41 257.08L569.41 251.43 M568.43 258.02L568.43 249.82 M568.43 249.82L569.14 249.82 M569.14 251.43L569.14 249.82 M567.82 252.18L567.82 248.07 M567.82 248.07L568.78 248.07 M568.78 249.82L568.78 248.07 M566.65 249.71L566.65 246.46 M566.65 246.46L568.30 246.46 M568.30 248.07L568.30 246.46 M570.39 256.89L570.39 254.27 M570.39 254.27L570.69 254.27 M570.69 256.89L570.69 254.27 M571.29 257.14L571.29 254.52 M571.29 254.52L571.59 254.52 M571.59 257.14L571.59 254.52 M570.99 254.61L570.99 252.00 M570.99 252.00L571.44 252.00 M571.44 254.52L571.44 252.00 M570.54 254.27L570.54 248.09 M570.54 248.09L571.22 248.09 M571.22 252.00L571.22 248.09 M570.09 247.85L570.09 245.23 M570.09 245.23L570.88 245.23 M570.88 248.09L570.88 245.23 M567.48 246.46L567.48 243.29 M567.48 243.29L570.48 243.29 M570.48 245.23L570.48 243.29 M565.86 243.75L565.86 241.13 M565.86 241.13L568.98 241.13 M568.98 243.29L568.98 241.13 M565.56 243.22L565.56 240.60 M565.56 240.60L567.42 240.60 M567.42 241.13L567.42 240.60 M565.11 246.56L565.11 239.25 M565.11 239.25L566.49 239.25 M566.49 240.60L566.49 239.25 M563.94 239.90L563.94 238.94 M563.94 238.94L565.80 238.94 M565.80 239.25L565.80 238.94 M563.14 239.94L563.14 237.33 M563.14 237.33L564.87 237.33 M564.87 238.94L564.87 237.33 M562.84 238.99L562.84 236.37 M562.84 236.37L564.01 236.37 M564.01 237.33L564.01 236.37 M562.54 237.45L562.54 234.83 M562.54 234.83L563.42 234.83 M563.42 236.37L563.42 234.83 M562.09 243.96L562.09 234.29 M562.09 234.29L562.98 234.29 M562.98 234.83L562.98 234.29 M561.64 235.96L561.64 233.34 M561.64 233.34L562.54 233.34 M562.54 234.29L562.54 233.34 M560.96 238.54L560.96 232.54 M560.96 232.54L562.09 232.54 M562.09 233.34L562.09 232.54 M560.28 234.08L560.28 231.75 M560.28 231.75L561.52 231.75 M561.52 232.54L561.52 231.75 M559.67 235.90L559.67 229.72 M559.67 229.72L560.90 229.72 M560.90 231.75L560.90 229.72 M559.07 241.15L559.07 229.32 M559.07 229.32L560.29 229.32 M560.29 229.72L560.29 229.32 M558.47 233.08L558.47 228.26 M558.47 228.26L559.68 228.26 M559.68 229.32L559.68 228.26 M557.86 237.65L557.86 227.94 M557.86 227.94L559.07 227.94 M559.07 228.26L559.07 227.94 M557.03 228.45L557.03 226.56 M557.03 226.56L558.47 226.56 M558.47 227.94L558.47 226.56 M572.20 238.10L572.20 235.49 M572.20 235.49L572.50 235.49 M572.50 238.10L572.50 235.49 M571.90 229.06L571.90 226.45 M571.90 226.45L572.35 226.45 M572.35 235.49L572.35 226.45 M557.75 226.56L557.75 224.92 M557.75 224.92L572.12 224.92 M572.12 226.45L572.12 224.92 M556.36 227.41L556.36 224.65 M556.36 224.65L564.94 224.65 M564.94 224.92L564.94 224.65 M555.75 230.64L555.75 222.00 M555.75 222.00L560.65 222.00 M560.65 224.65L560.65 222.00 M555.30 223.13L555.30 220.51 M555.30 220.51L558.20 220.51 M558.20 222.00L558.20 220.51 M554.85 231.35L554.85 219.48 M554.85 219.48L556.75 219.48 M556.75 220.51L556.75 219.48 M553.94 221.78L553.94 217.90 M553.94 217.90L555.80 217.90 M555.80 219.48L555.80 217.90 M553.04 222.56L553.04 212.90 M553.04 212.90L554.87 212.90 M554.87 217.90L554.87 212.90 M551.87 213.53L551.87 212.55 M551.87 212.55L553.95 212.55 M553.95 212.90L553.95 212.55 M550.70 219.04L550.70 211.90 M550.70 211.90L552.91 211.90 M552.91 212.55L552.91 211.90 M549.79 220.30L549.79 210.90 M549.79 210.90L551.80 210.90 M551.80 211.90L551.80 210.90 M548.55 213.70L548.55 210.08 M548.55 210.08L550.80 210.08 M550.80 210.90L550.80 210.08 M547.30 211.50L547.30 206.83 M547.30 206.83L549.67 206.83 M549.67 210.08L549.67 206.83 M545.32 206.95L545.32 206.30 M545.32 206.30L548.49 206.30 M548.49 206.83L548.49 206.30 M532.06 206.52L532.06 205.13 M532.06 205.13L546.90 205.13 M546.90 206.30L546.90 205.13 M528.89 208.70L528.89 204.40 M528.89 204.40L539.48 204.40 M539.48 205.13L539.48 204.40 M522.88 209.32L522.88 204.26 M522.88 204.26L534.19 204.26 M534.19 204.40L534.19 204.26 M575.88 225.43L575.88 222.82 M575.88 222.82L576.25 222.82 M576.25 225.43L576.25 222.82 M575.50 218.41L575.50 215.79 M575.50 215.79L576.06 215.79 M576.06 222.82L576.06 215.79 M577.01 224.52L577.01 221.90 M577.01 221.90L577.38 221.90 M577.38 224.52L577.38 221.90 M576.63 217.62L576.63 215.01 M576.63 215.01L577.19 215.01 M577.19 221.90L577.19 215.01 M578.89 233.82L578.89 231.20 M578.89 231.20L579.26 231.20 M579.26 233.82L579.26 231.20 M578.51 224.73L578.51 222.11 M578.51 222.11L579.08 222.11 M579.08 231.20L579.08 222.11 M578.14 215.13L578.14 212.51 M578.14 212.51L578.79 212.51 M578.79 222.11L578.79 212.51 M577.76 213.02L577.76 210.40 M577.76 210.40L578.46 210.40 M578.46 212.51L578.46 210.40 M580.02 227.39L580.02 224.77 M580.02 224.77L580.39 224.77 M580.39 227.39L580.39 224.77 M579.64 223.54L579.64 220.92 M579.64 220.92L580.21 220.92 M580.21 224.77L580.21 220.92 M580.77 228.21L580.77 225.59 M580.77 225.59L581.15 225.59 M581.15 228.21L581.15 225.59 M581.52 224.66L581.52 222.04 M581.52 222.04L581.90 222.04 M581.90 224.66L581.90 222.04 M580.96 225.59L580.96 213.27 M580.96 213.27L581.71 213.27 M581.71 222.04L581.71 213.27 M582.65 226.30L582.65 223.68 M582.65 223.68L583.03 223.68 M583.03 226.30L583.03 223.68 M582.28 223.32L582.28 220.70 M582.28 220.70L582.84 220.70 M582.84 223.68L582.84 220.70 M584.53 225.68L584.53 223.07 M584.53 223.07L584.91 223.07 M584.91 225.68L584.91 223.07 M585.66 238.75L585.66 236.13 M585.66 236.13L586.04 236.13 M586.04 238.75L586.04 236.13 M587.17 236.96L587.17 234.34 M587.17 234.34L587.55 234.34 M587.55 236.96L587.55 234.34 M587.92 236.10L587.92 233.48 M587.92 233.48L588.30 233.48 M588.30 236.10L588.30 233.48 M589.43 247.93L589.43 245.31 M589.43 245.31L589.80 245.31 M589.80 247.93L589.80 245.31 M590.18 246.68L590.18 244.06 M590.18 244.06L590.56 244.06 M590.56 246.68L590.56 244.06 M589.62 245.31L589.62 236.14 M589.62 236.14L590.37 236.14 M590.37 244.06L590.37 236.14 M591.31 251.21L591.31 248.59 M591.31 248.59L591.69 248.59 M591.69 251.21L591.69 248.59 M590.93 239.02L590.93 236.40 M590.93 236.40L591.50 236.40 M591.50 248.59L591.50 236.40 M592.44 252.85L592.44 250.23 M592.44 250.23L592.82 250.23 M592.82 252.85L592.82 250.23 M593.19 252.54L593.19 249.92 M593.19 249.92L593.57 249.92 M593.57 252.54L593.57 249.92 M592.63 250.23L592.63 245.73 M592.63 245.73L593.38 245.73 M593.38 249.92L593.38 245.73 M594.32 259.40L594.32 256.78 M594.32 256.78L594.70 256.78 M594.70 259.40L594.70 256.78 M595.07 257.29L595.07 254.67 M595.07 254.67L595.45 254.67 M595.45 257.29L595.45 254.67 M594.51 256.78L594.51 249.07 M594.51 249.07L595.26 249.07 M595.26 254.67L595.26 249.07 M593.95 248.15L593.95 245.54 M593.95 245.54L594.89 245.54 M594.89 249.07L594.89 245.54 M593.00 245.73L593.00 242.10 M593.00 242.10L594.42 242.10 M594.42 245.54L594.42 242.10 M592.06 240.53L592.06 237.91 M592.06 237.91L593.71 237.91 M593.71 242.10L593.71 237.91 M595.83 250.05L595.83 247.43 M595.83 247.43L596.20 247.43 M596.20 250.05L596.20 247.43 M596.96 249.63L596.96 247.01 M596.96 247.01L597.33 247.01 M597.33 249.63L597.33 247.01 M596.58 242.01L596.58 239.39 M596.58 239.39L597.15 239.39 M597.15 247.01L597.15 239.39 M596.02 247.43L596.02 237.53 M596.02 237.53L596.86 237.53 M596.86 239.39L596.86 237.53 M592.89 237.91L592.89 236.32 M592.89 236.32L596.44 236.32 M596.44 237.53L596.44 236.32 M591.22 236.40L591.22 234.86 M591.22 234.86L594.66 234.86 M594.66 236.32L594.66 234.86 M589.99 236.14L589.99 234.09 M589.99 234.09L592.94 234.09 M592.94 234.86L592.94 234.09 M589.05 234.31L589.05 231.69 M589.05 231.69L591.47 231.69 M591.47 234.09L591.47 231.69 M588.68 232.79L588.68 230.18 M588.68 230.18L590.26 230.18 M590.26 231.69L590.26 230.18 M588.11 233.48L588.11 228.94 M588.11 228.94L589.47 228.94 M589.47 230.18L589.47 228.94 M587.36 234.34L587.36 226.80 M587.36 226.80L588.79 226.80 M588.79 228.94L588.79 226.80 M586.79 229.17L586.79 226.55 M586.79 226.55L588.07 226.55 M588.07 226.80L588.07 226.55 M586.42 224.91L586.42 222.29 M586.42 222.29L587.43 222.29 M587.43 226.55L587.43 222.29 M585.85 236.13L585.85 221.88 M585.85 221.88L586.92 221.88 M586.92 222.29L586.92 221.88 M585.29 223.35L585.29 220.73 M585.29 220.73L586.39 220.73 M586.39 221.88L586.39 220.73 M584.72 223.07L584.72 220.38 M584.72 220.38L585.84 220.38 M585.84 220.73L585.84 220.38 M584.16 220.56L584.16 217.94 M584.16 217.94L585.28 217.94 M585.28 220.38L585.28 217.94 M583.78 219.90L583.78 217.28 M583.78 217.28L584.72 217.28 M584.72 217.94L584.72 217.28 M583.41 217.93L583.41 215.32 M583.41 215.32L584.25 215.32 M584.25 217.28L584.25 215.32 M582.56 220.70L582.56 210.58 M582.56 210.58L583.83 210.58 M583.83 215.32L583.83 210.58 M581.33 213.27L581.33 209.79 M581.33 209.79L583.19 209.79 M583.19 210.58L583.19 209.79 M579.92 220.92L579.92 209.14 M579.92 209.14L582.26 209.14 M582.26 209.79L582.26 209.14 M578.11 210.40L578.11 207.50 M578.11 207.50L581.09 207.50 M581.09 209.14L581.09 207.50 M576.91 215.01L576.91 206.92 M576.91 206.92L579.60 206.92 M579.60 207.50L579.60 206.92 M575.78 215.79L575.78 206.66 M575.78 206.66L578.26 206.66 M578.26 206.92L578.26 206.66 M597.71 226.29L597.71 223.67 M597.71 223.67L598.09 223.67 M598.09 226.29L598.09 223.67 M598.84 226.32L598.84 223.70 M598.84 223.70L599.22 223.70 M599.22 226.32L599.22 223.70 M598.46 219.44L598.46 216.83 M598.46 216.83L599.03 216.83 M599.03 223.70L599.03 216.83 M597.90 223.67L597.90 210.35 M597.90 210.35L598.74 210.35 M598.74 216.83L598.74 210.35 M599.97 225.93L599.97 223.31 M599.97 223.31L600.34 223.31 M600.34 225.93L600.34 223.31 M599.59 218.86L599.59 216.24 M599.59 216.24L600.16 216.24 M600.16 223.31L600.16 216.24 M601.85 240.01L601.85 237.39 M601.85 237.39L602.23 237.39 M602.23 240.01L602.23 237.39 M602.60 245.34L602.60 242.72 M602.60 242.72L602.98 242.72 M602.98 245.34L602.98 242.72 M603.36 250.45L603.36 247.84 M603.36 247.84L603.73 247.84 M603.73 250.45L603.73 247.84 M604.86 252.45L604.86 249.83 M604.86 249.83L605.24 249.83 M605.24 252.45L605.24 249.83 M604.49 251.14L604.49 248.52 M604.49 248.52L605.05 248.52 M605.05 249.83L605.05 248.52 M604.11 242.48L604.11 239.86 M604.11 239.86L604.77 239.86 M604.77 248.52L604.77 239.86 M603.54 247.84L603.54 236.93 M603.54 236.93L604.44 236.93 M604.44 239.86L604.44 236.93 M602.79 242.72L602.79 233.86 M602.79 233.86L603.99 233.86 M603.99 236.93L603.99 233.86 M602.04 237.39L602.04 231.42 M602.04 231.42L603.39 231.42 M603.39 233.86L603.39 231.42 M601.47 229.75L601.47 227.13 M601.47 227.13L602.72 227.13 M602.72 231.42L602.72 227.13 M601.10 228.34L601.10 225.72 M601.10 225.72L602.09 225.72 M602.09 227.13L602.09 225.72 M605.61 234.88L605.61 232.27 M605.61 232.27L605.99 232.27 M605.99 234.88L605.99 232.27 M606.74 237.76L606.74 235.15 M606.74 235.15L607.12 235.15 M607.12 237.76L607.12 235.15 M606.37 231.63L606.37 229.01 M606.37 229.01L606.93 229.01 M606.93 235.15L606.93 229.01 M605.80 232.27L605.80 223.54 M605.80 223.54L606.65 223.54 M606.65 229.01L606.65 223.54 M601.60 225.72L601.60 222.05 M601.60 222.05L606.23 222.05 M606.23 223.54L606.23 222.05 M607.50 223.02L607.50 220.40 M607.50 220.40L607.87 220.40 M607.87 223.02L607.87 220.40 M603.91 222.05L603.91 214.70 M603.91 214.70L607.69 214.70 M607.69 220.40L607.69 214.70 M600.72 214.74L600.72 212.12 M600.72 212.12L605.80 212.12 M605.80 214.70L605.80 212.12 M599.87 216.24L599.87 209.93 M599.87 209.93L603.26 209.93 M603.26 212.12L603.26 209.93 M598.32 210.35L598.32 207.78 M598.32 207.78L601.57 207.78 M601.57 209.93L601.57 207.78 M608.63 231.50L608.63 228.88 M608.63 228.88L609.00 228.88 M609.00 231.50L609.00 228.88 M608.25 221.64L608.25 219.03 M608.25 219.03L608.81 219.03 M608.81 228.88L608.81 219.03 M609.38 220.04L609.38 217.42 M609.38 217.42L609.76 217.42 M609.76 220.04L609.76 217.42 M610.51 228.13L610.51 225.51 M610.51 225.51L610.89 225.51 M610.89 228.13L610.89 225.51 M610.13 222.94L610.13 220.32 M610.13 220.32L610.70 220.32 M610.70 225.51L610.70 220.32 M611.64 233.53L611.64 230.91 M611.64 230.91L612.01 230.91 M612.01 233.53L612.01 230.91 M611.26 227.48L611.26 224.86 M611.26 224.86L611.83 224.86 M611.83 230.91L611.83 224.86 M612.39 228.73L612.39 226.11 M612.39 226.11L612.77 226.11 M612.77 228.73L612.77 226.11 M613.90 237.90L613.90 235.28 M613.90 235.28L614.27 235.28 M614.27 237.90L614.27 235.28 M614.65 237.18L614.65 234.56 M614.65 234.56L615.03 234.56 M615.03 237.18L615.03 234.56 M615.40 236.52L615.40 233.90 M615.40 233.90L615.78 233.90 M615.78 236.52L615.78 233.90 M616.91 252.71L616.91 250.09 M616.91 250.09L617.28 250.09 M617.28 252.71L617.28 250.09 M616.53 245.42L616.53 242.81 M616.53 242.81L617.10 242.81 M617.10 250.09L617.10 242.81 M616.16 237.57L616.16 234.95 M616.16 234.95L616.81 234.95 M616.81 242.81L616.81 234.95 M617.66 243.58L617.66 240.96 M617.66 240.96L618.04 240.96 M618.04 243.58L618.04 240.96 M618.41 251.82L618.41 249.20 M618.41 249.20L618.79 249.20 M618.79 251.82L618.79 249.20 M619.54 252.17L619.54 249.55 M619.54 249.55L619.92 249.55 M619.92 252.17L619.92 249.55 M619.17 245.64L619.17 243.03 M619.17 243.03L619.73 243.03 M619.73 249.55L619.73 243.03 M618.60 249.20L618.60 236.38 M618.60 236.38L619.45 236.38 M619.45 243.03L619.45 236.38 M617.85 240.96L617.85 234.16 M617.85 234.16L619.03 234.16 M619.03 236.38L619.03 234.16 M616.48 234.95L616.48 232.19 M616.48 232.19L618.44 232.19 M618.44 234.16L618.44 232.19 M615.59 233.90L615.59 230.68 M615.59 230.68L617.46 230.68 M617.46 232.19L617.46 230.68 M614.84 234.56L614.84 228.79 M614.84 228.79L616.53 228.79 M616.53 230.68L616.53 228.79 M614.08 235.28L614.08 227.38 M614.08 227.38L615.68 227.38 M615.68 228.79L615.68 227.38 M613.52 228.64L613.52 226.03 M613.52 226.03L614.88 226.03 M614.88 227.38L614.88 226.03 M613.14 225.44L613.14 222.82 M613.14 222.82L614.20 222.82 M614.20 226.03L614.20 222.82 M612.58 226.11L612.58 222.02 M612.58 222.02L613.67 222.02 M613.67 222.82L613.67 222.02 M611.54 224.86L611.54 219.43 M611.54 219.43L613.13 219.43 M613.13 222.02L613.13 219.43 M610.41 220.32L610.41 216.26 M610.41 216.26L612.33 216.26 M612.33 219.43L612.33 216.26 M609.57 217.42L609.57 215.46 M609.57 215.46L611.37 215.46 M611.37 216.26L611.37 215.46 M608.53 219.03L608.53 211.94 M608.53 211.94L610.47 211.94 M610.47 215.46L610.47 211.94 M620.30 220.20L620.30 217.58 M620.30 217.58L620.67 217.58 M620.67 220.20L620.67 217.58 M621.43 227.89L621.43 225.27 M621.43 225.27L621.80 225.27 M621.80 227.89L621.80 225.27 M621.05 218.92L621.05 216.30 M621.05 216.30L621.61 216.30 M621.61 225.27L621.61 216.30 M620.48 217.58L620.48 208.09 M620.48 208.09L621.33 208.09 M621.33 216.30L621.33 208.09 M609.50 211.94L609.50 207.13 M609.50 207.13L620.91 207.13 M620.91 208.09L620.91 207.13 M599.94 207.78L599.94 205.52 M599.94 205.52L615.20 205.52 M615.20 207.13L615.20 205.52 M577.02 206.66L577.02 204.85 M577.02 204.85L607.57 204.85 M607.57 205.52L607.57 204.85 M622.55 230.95L622.55 228.33 M622.55 228.33L622.93 228.33 M622.93 230.95L622.93 228.33 M623.31 222.45L623.31 219.83 M623.31 219.83L623.68 219.83 M623.68 222.45L623.68 219.83 M622.74 228.33L622.74 214.68 M622.74 214.68L623.50 214.68 M623.50 219.83L623.50 214.68 M622.18 216.04L622.18 213.42 M622.18 213.42L623.12 213.42 M623.12 214.68L623.12 213.42 M624.06 229.12L624.06 226.50 M624.06 226.50L624.44 226.50 M624.44 229.12L624.44 226.50 M624.81 224.93L624.81 222.31 M624.81 222.31L625.19 222.31 M625.19 224.93L625.19 222.31 M624.25 226.50L624.25 214.02 M624.25 214.02L625.00 214.02 M625.00 222.31L625.00 214.02 M625.57 221.79L625.57 219.18 M625.57 219.18L625.94 219.18 M625.94 221.79L625.94 219.18 M626.32 232.28L626.32 229.66 M626.32 229.66L626.70 229.66 M626.70 232.28L626.70 229.66 M627.07 237.01L627.07 234.39 M627.07 234.39L627.45 234.39 M627.45 237.01L627.45 234.39 M627.82 233.12L627.82 230.51 M627.82 230.51L628.20 230.51 M628.20 233.12L628.20 230.51 M627.26 234.39L627.26 220.81 M627.26 220.81L628.01 220.81 M628.01 230.51L628.01 220.81 M626.51 229.66L626.51 217.61 M626.51 217.61L627.64 217.61 M627.64 220.81L627.64 217.61 M625.75 219.18L625.75 212.43 M625.75 212.43L627.07 212.43 M627.07 217.61L627.07 212.43 M624.62 214.02L624.62 211.23 M624.62 211.23L626.41 211.23 M626.41 212.43L626.41 211.23 M628.58 224.65L628.58 222.03 M628.58 222.03L628.95 222.03 M628.95 224.65L628.95 222.03 M629.71 223.27L629.71 220.65 M629.71 220.65L630.08 220.65 M630.08 223.27L630.08 220.65 M629.33 221.10L629.33 218.48 M629.33 218.48L629.90 218.48 M629.90 220.65L629.90 218.48 M628.77 222.03L628.77 209.78 M628.77 209.78L629.61 209.78 M629.61 218.48L629.61 209.78 M625.52 211.23L625.52 208.61 M625.52 208.61L629.19 208.61 M629.19 209.78L629.19 208.61 M622.65 213.42L622.65 207.26 M622.65 207.26L627.35 207.26 M627.35 208.61L627.35 207.26 M630.46 220.59L630.46 217.97 M630.46 217.97L630.84 217.97 M630.84 220.59L630.84 217.97 M631.21 228.68L631.21 226.06 M631.21 226.06L631.59 226.06 M631.59 228.68L631.59 226.06 M631.97 225.78L631.97 223.16 M631.97 223.16L632.34 223.16 M632.34 225.78L632.34 223.16 M631.40 226.06L631.40 218.00 M631.40 218.00L632.15 218.00 M632.15 223.16L632.15 218.00 M632.72 230.73L632.72 228.11 M632.72 228.11L633.09 228.11 M633.09 230.73L633.09 228.11 M633.47 231.17L633.47 228.55 M633.47 228.55L633.85 228.55 M633.85 231.17L633.85 228.55 M634.22 229.14L634.22 226.52 M634.22 226.52L634.60 226.52 M634.60 229.14L634.60 226.52 M633.66 228.55L633.66 220.65 M633.66 220.65L634.41 220.65 M634.41 226.52L634.41 220.65 M635.35 230.31L635.35 227.69 M635.35 227.69L635.73 227.69 M635.73 230.31L635.73 227.69 M634.98 224.69L634.98 222.07 M634.98 222.07L635.54 222.07 M635.54 227.69L635.54 222.07 M636.48 236.30L636.48 233.69 M636.48 233.69L636.86 233.69 M636.86 236.30L636.86 233.69 M637.24 231.54L637.24 228.92 M637.24 228.92L637.61 228.92 M637.61 231.54L637.61 228.92 M636.67 233.69L636.67 227.26 M636.67 227.26L637.42 227.26 M637.42 228.92L637.42 227.26 M638.36 235.99L638.36 233.37 M638.36 233.37L638.74 233.37 M638.74 235.99L638.74 233.37 M637.99 234.41L637.99 231.79 M637.99 231.79L638.55 231.79 M638.55 233.37L638.55 231.79 M639.12 239.18L639.12 236.56 M639.12 236.56L639.49 236.56 M639.49 239.18L639.49 236.56 M640.62 245.55L640.62 242.93 M640.62 242.93L641.00 242.93 M641.00 245.55L641.00 242.93 M640.25 237.96L640.25 235.34 M640.25 235.34L640.81 235.34 M640.81 242.93L640.81 235.34 M639.87 234.47L639.87 231.85 M639.87 231.85L640.53 231.85 M640.53 235.34L640.53 231.85 M639.31 236.56L639.31 229.37 M639.31 229.37L640.20 229.37 M640.20 231.85L640.20 229.37 M638.27 231.79L638.27 226.28 M638.27 226.28L639.75 226.28 M639.75 229.37L639.75 226.28 M637.05 227.26L637.05 223.59 M637.05 223.59L639.01 223.59 M639.01 226.28L639.01 223.59 M636.11 224.67L636.11 222.06 M636.11 222.06L638.03 222.06 M638.03 223.59L638.03 222.06 M635.26 222.07L635.26 219.39 M635.26 219.39L637.07 219.39 M637.07 222.06L637.07 219.39 M634.04 220.65L634.04 217.53 M634.04 217.53L636.16 217.53 M636.16 219.39L636.16 217.53 M632.91 228.11L632.91 213.32 M632.91 213.32L635.10 213.32 M635.10 217.53L635.10 213.32 M631.78 218.00L631.78 211.33 M631.78 211.33L634.00 211.33 M634.00 213.32L634.00 211.33 M630.65 217.97L630.65 206.83 M630.65 206.83L632.89 206.83 M632.89 211.33L632.89 206.83 M625.00 207.26L625.00 204.32 M625.00 204.32L631.77 204.32 M631.77 206.83L631.77 204.32 M592.30 204.85L592.30 204.00 M592.30 204.00L628.39 204.00 M628.39 204.32L628.39 204.00 M528.54 204.26L528.54 204.40 M610.34 204.00L610.34 204.40" stroke="#5a5a5a" stroke-width="0.4" fill="none"/>
<line x1="641.90" y1="208.33" x2="641.90" y2="285.56" stroke="#888" stroke-width="0.45" />
<line x1="641.30" y1="208.33" x2="641.30" y2="276.39" stroke="#aaa" stroke-width="0.35" />
<line x1="521.00" y1="204.40" x2="642.00" y2="204.40" stroke="#222" stroke-width="0.7" />
<line x1="574.10" y1="204.40" x2="574.10" y2="304.50" stroke="#999" stroke-width="0.5" />
<rect x="520.80" y="308.90" width="1.10" height="21.70" fill="#4a6070" stroke="none" stroke-width="0.5" />
<rect x="521.90" y="308.90" width="1.10" height="21.70" fill="#66e0a8" stroke="none" stroke-width="0.5" />
<rect x="523.00" y="308.90" width="1.90" height="21.70" fill="#6a7a6a" stroke="none" stroke-width="0.5" />
<rect x="524.90" y="308.90" width="3.10" height="21.70" fill="#4a6ad0" stroke="none" stroke-width="0.5" />
<rect x="528.00" y="308.90" width="41.00" height="21.70" fill="#66fbaa" stroke="none" stroke-width="0.5" />
<rect x="569.00" y="308.90" width="27.80" height="21.70" fill="#1a3cfa" stroke="none" stroke-width="0.5" />
<rect x="596.80" y="308.90" width="13.10" height="21.70" fill="#e6fa28" stroke="none" stroke-width="0.5" />
<rect x="609.90" y="308.90" width="24.10" height="21.70" fill="#8c0c10" stroke="none" stroke-width="0.5" />
<rect x="634.00" y="308.90" width="1.90" height="21.70" fill="#6a8090" stroke="none" stroke-width="0.5" />
<rect x="635.90" y="308.90" width="1.00" height="21.70" fill="#7a3a6a" stroke="none" stroke-width="0.5" />
<rect x="636.90" y="308.90" width="1.10" height="21.70" fill="#3a6ad8" stroke="none" stroke-width="0.5" />
<rect x="638.00" y="308.90" width="0.90" height="21.70" fill="#7a7a7a" stroke="none" stroke-width="0.5" />
<rect x="638.90" y="308.90" width="1.00" height="21.70" fill="#5a70b0" stroke="none" stroke-width="0.5" />
<rect x="639.90" y="308.90" width="3.00" height="21.70" fill="#6a8888" stroke="none" stroke-width="0.5" />
<text x="516.80" y="314.80" font-size="8.32" text-anchor="end" fill="#000" font-family="Liberation Serif" stroke="#000" stroke-width="0.12" >Dynamic Tree Cut</text>
<text x="516.80" y="325.00" font-size="8.32" text-anchor="end" fill="#000" font-family="Liberation Serif" stroke="#000" stroke-width="0.12" >Merge Dynamic</text>
<text x="121.30" y="388.80" font-size="16.80" text-anchor="start" fill="#000" font-family="Liberation Sans" >F</text>
<rect x="154.30" y="378.90" width="510.60" height="8.00" fill="#820b10" stroke="none" stroke-width="0.5" />
<rect x="227.40" y="398.70" width="39.20" height="149.70" fill="#fff" stroke="none" stroke-width="0.5" />
<line x1="232.80" y1="398.70" x2="232.80" y2="548.40" stroke="#e3eaea" stroke-width="0.5" />
<line x1="239.80" y1="398.70" x2="239.80" y2="548.40" stroke="#e3eaea" stroke-width="0.95" />
<line x1="246.80" y1="398.70" x2="246.80" y2="548.40" stroke="#e3eaea" stroke-width="0.5" />
<line x1="253.70" y1="398.70" x2="253.70" y2="548.40" stroke="#e3eaea" stroke-width="0.95" />
<line x1="259.90" y1="398.70" x2="259.90" y2="548.40" stroke="#e3eaea" stroke-width="0.5" />
<line x1="227.40" y1="405.90" x2="266.60" y2="405.90" stroke="#e3eaea" stroke-width="0.95" />
<line x1="227.40" y1="418.20" x2="266.60" y2="418.20" stroke="#e3eaea" stroke-width="0.95" />
<line x1="227.40" y1="430.50" x2="266.60" y2="430.50" stroke="#e3eaea" stroke-width="0.95" />
<line x1="227.40" y1="442.80" x2="266.60" y2="442.80" stroke="#e3eaea" stroke-width="0.95" />
<line x1="227.40" y1="455.10" x2="266.60" y2="455.10" stroke="#e3eaea" stroke-width="0.95" />
<line x1="227.40" y1="467.40" x2="266.60" y2="467.40" stroke="#e3eaea" stroke-width="0.95" />
<line x1="227.40" y1="479.70" x2="266.60" y2="479.70" stroke="#e3eaea" stroke-width="0.95" />
<line x1="227.40" y1="492.00" x2="266.60" y2="492.00" stroke="#e3eaea" stroke-width="0.95" />
<line x1="227.40" y1="504.30" x2="266.60" y2="504.30" stroke="#e3eaea" stroke-width="0.95" />
<line x1="227.40" y1="516.60" x2="266.60" y2="516.60" stroke="#e3eaea" stroke-width="0.95" />
<line x1="227.40" y1="528.90" x2="266.60" y2="528.90" stroke="#e3eaea" stroke-width="0.95" />
<line x1="227.40" y1="541.20" x2="266.60" y2="541.20" stroke="#e3eaea" stroke-width="0.95" />
<defs><clipPath id="cp6"><rect x="227.4" y="398.7" width="39.20000000000002" height="149.7"/></clipPath></defs>
<g clip-path="url(#cp6)">
<circle cx="264.60" cy="405.90" r="4.70" fill="#0f37d2" stroke="none" stroke-width="0.5"/>
<circle cx="264.60" cy="418.20" r="4.70" fill="#0f37d2" stroke="none" stroke-width="0.5"/>
<circle cx="246.80" cy="430.50" r="4.40" fill="#f51419" stroke="none" stroke-width="0.5"/>
<circle cx="246.80" cy="442.80" r="4.40" fill="#f51419" stroke="none" stroke-width="0.5"/>
<circle cx="246.80" cy="455.10" r="4.40" fill="#f51419" stroke="none" stroke-width="0.5"/>
<circle cx="246.80" cy="467.40" r="4.40" fill="#f51419" stroke="none" stroke-width="0.5"/>
<circle cx="246.80" cy="479.70" r="4.40" fill="#f51419" stroke="none" stroke-width="0.5"/>
<circle cx="246.80" cy="492.00" r="4.40" fill="#f51419" stroke="none" stroke-width="0.5"/>
<circle cx="246.80" cy="504.30" r="4.40" fill="#f51419" stroke="none" stroke-width="0.5"/>
<circle cx="246.80" cy="516.60" r="4.40" fill="#50299a" stroke="none" stroke-width="0.5"/>
<circle cx="229.30" cy="528.90" r="1.70" fill="#f51419" stroke="none" stroke-width="0.5"/>
<circle cx="229.30" cy="541.20" r="1.70" fill="#f51419" stroke="none" stroke-width="0.5"/>
</g>
<rect x="266.60" y="398.70" width="13.80" height="149.70" fill="#d5dddd" stroke="#222" stroke-width="0.8" />
<text x="273.50" y="473.55" font-size="7.30" text-anchor="middle" fill="#1a1a1a" font-family="Liberation Sans" transform="rotate(90 273.50 473.55)" dy="2.55">BP</text>
<rect x="227.40" y="398.70" width="39.20" height="149.70" fill="none" stroke="#000" stroke-width="1.3" />
<line x1="224.60" y1="405.50" x2="227.40" y2="405.50" stroke="#000" stroke-width="1.0" />
<text x="220.60" y="404.93" font-size="6.46" text-anchor="end" fill="#000" font-family="Liberation Sans" stroke="#000" stroke-width="0.12" >acute inflammatory</text>
<text x="220.60" y="411.53" font-size="6.46" text-anchor="end" fill="#000" font-family="Liberation Sans" stroke="#000" stroke-width="0.12" >response</text>
<line x1="224.60" y1="418.50" x2="227.40" y2="418.50" stroke="#000" stroke-width="1.0" />
<text x="220.60" y="420.53" font-size="6.46" text-anchor="end" fill="#000" font-family="Liberation Sans" stroke="#000" stroke-width="0.12" >acute−phase response</text>
<line x1="224.60" y1="430.50" x2="227.40" y2="430.50" stroke="#000" stroke-width="1.0" />
<text x="220.60" y="432.83" font-size="6.46" text-anchor="end" fill="#000" font-family="Liberation Sans" stroke="#000" stroke-width="0.12" >response to toxic substance</text>
<line x1="224.60" y1="442.50" x2="227.40" y2="442.50" stroke="#000" stroke-width="1.0" />
<text x="220.60" y="441.83" font-size="6.46" text-anchor="end" fill="#000" font-family="Liberation Sans" stroke="#000" stroke-width="0.12" >regulation of innate</text>
<text x="220.60" y="448.43" font-size="6.46" text-anchor="end" fill="#000" font-family="Liberation Sans" stroke="#000" stroke-width="0.12" >immune response</text>
<line x1="224.60" y1="455.50" x2="227.40" y2="455.50" stroke="#000" stroke-width="1.0" />
<text x="220.60" y="454.13" font-size="6.46" text-anchor="end" fill="#000" font-family="Liberation Sans" stroke="#000" stroke-width="0.12" >response to reactive</text>
<text x="220.60" y="460.73" font-size="6.46" text-anchor="end" fill="#000" font-family="Liberation Sans" stroke="#000" stroke-width="0.12" >oxygen species</text>
<line x1="224.60" y1="467.50" x2="227.40" y2="467.50" stroke="#000" stroke-width="1.0" />
<text x="220.60" y="469.73" font-size="6.46" text-anchor="end" fill="#000" font-family="Liberation Sans" stroke="#000" stroke-width="0.12" >detoxification</text>
<line x1="224.60" y1="479.50" x2="227.40" y2="479.50" stroke="#000" stroke-width="1.0" />
<text x="220.60" y="478.73" font-size="6.46" text-anchor="end" fill="#000" font-family="Liberation Sans" stroke="#000" stroke-width="0.12" >cellular response to</text>
<text x="220.60" y="485.33" font-size="6.46" text-anchor="end" fill="#000" font-family="Liberation Sans" stroke="#000" stroke-width="0.12" >toxic substance</text>
<line x1="224.60" y1="492.50" x2="227.40" y2="492.50" stroke="#000" stroke-width="1.0" />
<text x="220.60" y="494.33" font-size="6.46" text-anchor="end" fill="#000" font-family="Liberation Sans" stroke="#000" stroke-width="0.12" >cellular detoxification</text>
<line x1="224.60" y1="504.50" x2="227.40" y2="504.50" stroke="#000" stroke-width="1.0" />
<text x="220.60" y="506.63" font-size="6.46" text-anchor="end" fill="#000" font-family="Liberation Sans" stroke="#000" stroke-width="0.12" >cellular oxidant detoxification</text>
<line x1="224.60" y1="516.50" x2="227.40" y2="516.50" stroke="#000" stroke-width="1.0" />
<text x="220.60" y="515.63" font-size="6.46" text-anchor="end" fill="#000" font-family="Liberation Sans" stroke="#000" stroke-width="0.12" >regulation of humoral</text>
<text x="220.60" y="522.23" font-size="6.46" text-anchor="end" fill="#000" font-family="Liberation Sans" stroke="#000" stroke-width="0.12" >immune response</text>
<line x1="224.60" y1="528.50" x2="227.40" y2="528.50" stroke="#000" stroke-width="1.0" />
<text x="220.60" y="527.93" font-size="6.46" text-anchor="end" fill="#000" font-family="Liberation Sans" stroke="#000" stroke-width="0.12" >iron coordination entity</text>
<text x="220.60" y="534.53" font-size="6.46" text-anchor="end" fill="#000" font-family="Liberation Sans" stroke="#000" stroke-width="0.12" >transport</text>
<line x1="224.60" y1="541.50" x2="227.40" y2="541.50" stroke="#000" stroke-width="1.0" />
<text x="220.60" y="540.23" font-size="6.46" text-anchor="end" fill="#000" font-family="Liberation Sans" stroke="#000" stroke-width="0.12" >complement activation,</text>
<text x="220.60" y="546.83" font-size="6.46" text-anchor="end" fill="#000" font-family="Liberation Sans" stroke="#000" stroke-width="0.12" >lectin pathway</text>
<line x1="239.50" y1="548.40" x2="239.50" y2="551.20" stroke="#000" stroke-width="1.0" />
<text x="239.80" y="559.90" font-size="6.30" text-anchor="middle" fill="#222" font-family="Liberation Sans" stroke="#222" stroke-width="0.12" >0.2</text>
<line x1="253.50" y1="548.40" x2="253.50" y2="551.20" stroke="#000" stroke-width="1.0" />
<text x="253.70" y="559.90" font-size="6.30" text-anchor="middle" fill="#222" font-family="Liberation Sans" stroke="#222" stroke-width="0.12" >0.3</text>
<text x="246.80" y="569.30" font-size="7.55" text-anchor="middle" fill="#1a1a1a" font-family="Liberation Sans" stroke="#1a1a1a" stroke-width="0.12" >GeneRatio</text>
<text x="285.00" y="422.90" font-size="6.30" text-anchor="start" fill="#1a1a1a" font-family="Liberation Sans" stroke="#1a1a1a" stroke-width="0.12" >P adj</text>
<defs><linearGradient id="g7" x1="0" y1="0" x2="0" y2="1"><stop offset="0" stop-color="#ff050a"/><stop offset="0.25" stop-color="#c81432"/><stop offset="0.5" stop-color="#8c1964"/><stop offset="0.75" stop-color="#5a2396"/><stop offset="1" stop-color="#192ddc"/></linearGradient></defs>
<rect x="285.00" y="425.00" width="9.10" height="44.20" fill="url(#g7)" stroke="none" stroke-width="0.5" />
<line x1="285.00" y1="429.50" x2="286.60" y2="429.50" stroke="#fff" stroke-width="0.5" />
<line x1="292.50" y1="429.50" x2="294.10" y2="429.50" stroke="#fff" stroke-width="0.5" />
<line x1="285.00" y1="437.50" x2="286.60" y2="437.50" stroke="#fff" stroke-width="0.5" />
<line x1="292.50" y1="437.50" x2="294.10" y2="437.50" stroke="#fff" stroke-width="0.5" />
<line x1="285.00" y1="445.50" x2="286.60" y2="445.50" stroke="#fff" stroke-width="0.5" />
<line x1="292.50" y1="445.50" x2="294.10" y2="445.50" stroke="#fff" stroke-width="0.5" />
<line x1="285.00" y1="453.50" x2="286.60" y2="453.50" stroke="#fff" stroke-width="0.5" />
<line x1="292.50" y1="453.50" x2="294.10" y2="453.50" stroke="#fff" stroke-width="0.5" />
<line x1="285.00" y1="461.60" x2="286.60" y2="461.60" stroke="#fff" stroke-width="0.5" />
<line x1="292.50" y1="461.60" x2="294.10" y2="461.60" stroke="#fff" stroke-width="0.5" />
<text x="297.70" y="431.77" font-size="6.30" text-anchor="start" fill="#222" font-family="Liberation Sans" stroke="#222" stroke-width="0.12" >0.05</text>
<text x="297.70" y="439.77" font-size="6.30" text-anchor="start" fill="#222" font-family="Liberation Sans" stroke="#222" stroke-width="0.12" >0.04</text>
<text x="297.70" y="447.77" font-size="6.30" text-anchor="start" fill="#222" font-family="Liberation Sans" stroke="#222" stroke-width="0.12" >0.03</text>
<text x="297.70" y="455.77" font-size="6.30" text-anchor="start" fill="#222" font-family="Liberation Sans" stroke="#222" stroke-width="0.12" >0.02</text>
<text x="297.70" y="463.87" font-size="6.30" text-anchor="start" fill="#222" font-family="Liberation Sans" stroke="#222" stroke-width="0.12" >0.01</text>
<text x="285.00" y="480.30" font-size="6.30" text-anchor="start" fill="#1a1a1a" font-family="Liberation Sans" stroke="#1a1a1a" stroke-width="0.12" >Counts</text>
<circle cx="290.20" cy="487.20" r="1.30" fill="#c9d1d1" stroke="#1a1a1a" stroke-width="0.8"/>
<text x="299.50" y="489.47" font-size="6.30" text-anchor="start" fill="#222" font-family="Liberation Sans" stroke="#222" stroke-width="0.12" >1.0</text>
<circle cx="290.20" cy="495.90" r="3.40" fill="#c9d1d1" stroke="#1a1a1a" stroke-width="0.8"/>
<text x="299.50" y="498.17" font-size="6.30" text-anchor="start" fill="#222" font-family="Liberation Sans" stroke="#222" stroke-width="0.12" >1.5</text>
<circle cx="290.20" cy="504.60" r="3.90" fill="#c9d1d1" stroke="#1a1a1a" stroke-width="0.8"/>
<text x="299.50" y="506.87" font-size="6.30" text-anchor="start" fill="#222" font-family="Liberation Sans" stroke="#222" stroke-width="0.12" >2.0</text>
<circle cx="290.20" cy="513.90" r="4.40" fill="#c9d1d1" stroke="#1a1a1a" stroke-width="0.8"/>
<text x="299.50" y="516.17" font-size="6.30" text-anchor="start" fill="#222" font-family="Liberation Sans" stroke="#222" stroke-width="0.12" >2.5</text>
<circle cx="290.20" cy="524.00" r="4.90" fill="#c9d1d1" stroke="#1a1a1a" stroke-width="0.8"/>
<text x="299.50" y="526.27" font-size="6.30" text-anchor="start" fill="#222" font-family="Liberation Sans" stroke="#222" stroke-width="0.12" >3.0</text>
<rect x="398.30" y="398.50" width="47.30" height="149.90" fill="#fff" stroke="none" stroke-width="0.5" />
<line x1="401.10" y1="398.50" x2="401.10" y2="548.40" stroke="#e3eaea" stroke-width="0.5" />
<line x1="408.00" y1="398.50" x2="408.00" y2="548.40" stroke="#e3eaea" stroke-width="0.95" />
<line x1="415.00" y1="398.50" x2="415.00" y2="548.40" stroke="#e3eaea" stroke-width="0.5" />
<line x1="421.90" y1="398.50" x2="421.90" y2="548.40" stroke="#e3eaea" stroke-width="0.95" />
<line x1="428.80" y1="398.50" x2="428.80" y2="548.40" stroke="#e3eaea" stroke-width="0.5" />
<line x1="435.60" y1="398.50" x2="435.60" y2="548.40" stroke="#e3eaea" stroke-width="0.95" />
<line x1="442.50" y1="398.50" x2="442.50" y2="548.40" stroke="#e3eaea" stroke-width="0.5" />
<line x1="398.30" y1="406.30" x2="445.60" y2="406.30" stroke="#e3eaea" stroke-width="0.95" />
<line x1="398.30" y1="418.55" x2="445.60" y2="418.55" stroke="#e3eaea" stroke-width="0.95" />
<line x1="398.30" y1="430.81" x2="445.60" y2="430.81" stroke="#e3eaea" stroke-width="0.95" />
<line x1="398.30" y1="443.06" x2="445.60" y2="443.06" stroke="#e3eaea" stroke-width="0.95" />
<line x1="398.30" y1="455.32" x2="445.60" y2="455.32" stroke="#e3eaea" stroke-width="0.95" />
<line x1="398.30" y1="467.57" x2="445.60" y2="467.57" stroke="#e3eaea" stroke-width="0.95" />
<line x1="398.30" y1="479.83" x2="445.60" y2="479.83" stroke="#e3eaea" stroke-width="0.95" />
<line x1="398.30" y1="492.08" x2="445.60" y2="492.08" stroke="#e3eaea" stroke-width="0.95" />
<line x1="398.30" y1="504.34" x2="445.60" y2="504.34" stroke="#e3eaea" stroke-width="0.95" />
<line x1="398.30" y1="516.59" x2="445.60" y2="516.59" stroke="#e3eaea" stroke-width="0.95" />
<line x1="398.30" y1="528.85" x2="445.60" y2="528.85" stroke="#e3eaea" stroke-width="0.95" />
<line x1="398.30" y1="541.10" x2="445.60" y2="541.10" stroke="#e3eaea" stroke-width="0.95" />
<defs><clipPath id="cp8"><rect x="398.3" y="398.5" width="47.30000000000001" height="149.89999999999998"/></clipPath></defs>
<g clip-path="url(#cp8)">
<circle cx="442.80" cy="406.30" r="4.80" fill="#0f37d2" stroke="none" stroke-width="0.5"/>
<circle cx="429.00" cy="418.55" r="4.50" fill="#0f37d2" stroke="none" stroke-width="0.5"/>
<circle cx="429.00" cy="430.81" r="4.50" fill="#0f37d2" stroke="none" stroke-width="0.5"/>
<circle cx="429.00" cy="443.06" r="4.50" fill="#0f37d2" stroke="none" stroke-width="0.5"/>
<circle cx="421.90" cy="455.32" r="4.20" fill="#0f37d2" stroke="none" stroke-width="0.5"/>
<circle cx="415.10" cy="467.57" r="3.80" fill="#0f37d2" stroke="none" stroke-width="0.5"/>
<circle cx="415.10" cy="479.83" r="3.80" fill="#0f37d2" stroke="none" stroke-width="0.5"/>
<circle cx="408.00" cy="492.08" r="3.30" fill="#f51419" stroke="none" stroke-width="0.5"/>
<circle cx="408.00" cy="504.34" r="3.30" fill="#0f37d2" stroke="none" stroke-width="0.5"/>
<circle cx="400.70" cy="516.59" r="1.80" fill="#f51419" stroke="none" stroke-width="0.5"/>
<circle cx="400.70" cy="528.85" r="1.80" fill="#c0183a" stroke="none" stroke-width="0.5"/>
<circle cx="400.70" cy="541.10" r="1.80" fill="#b01848" stroke="none" stroke-width="0.5"/>
</g>
<rect x="445.60" y="398.50" width="13.70" height="149.90" fill="#d5dddd" stroke="#222" stroke-width="0.8" />
<text x="452.45" y="473.45" font-size="7.30" text-anchor="middle" fill="#1a1a1a" font-family="Liberation Sans" transform="rotate(90 452.45 473.45)" dy="2.55">CC</text>
<rect x="398.30" y="398.50" width="47.30" height="149.90" fill="none" stroke="#000" stroke-width="1.3" />
<line x1="395.50" y1="406.50" x2="398.30" y2="406.50" stroke="#000" stroke-width="1.0" />
<text x="391.50" y="408.63" font-size="6.46" text-anchor="end" fill="#000" font-family="Liberation Sans" stroke="#000" stroke-width="0.12" >blood microparticle</text>
<line x1="395.50" y1="418.50" x2="398.30" y2="418.50" stroke="#000" stroke-width="1.0" />
<text x="391.50" y="420.88" font-size="6.46" text-anchor="end" fill="#000" font-family="Liberation Sans" stroke="#000" stroke-width="0.12" >vesicle lumen</text>
<line x1="395.50" y1="430.50" x2="398.30" y2="430.50" stroke="#000" stroke-width="1.0" />
<text x="391.50" y="429.83" font-size="6.46" text-anchor="end" fill="#000" font-family="Liberation Sans" stroke="#000" stroke-width="0.12" >cytoplasmic vesicle</text>
<text x="391.50" y="436.43" font-size="6.46" text-anchor="end" fill="#000" font-family="Liberation Sans" stroke="#000" stroke-width="0.12" >lumen</text>
<line x1="395.50" y1="443.50" x2="398.30" y2="443.50" stroke="#000" stroke-width="1.0" />
<text x="391.50" y="445.39" font-size="6.46" text-anchor="end" fill="#000" font-family="Liberation Sans" stroke="#000" stroke-width="0.12" >secretory granule lumen</text>
<line x1="395.50" y1="455.50" x2="398.30" y2="455.50" stroke="#000" stroke-width="1.0" />
<text x="391.50" y="454.34" font-size="6.46" text-anchor="end" fill="#000" font-family="Liberation Sans" stroke="#000" stroke-width="0.12" >collagen−containing</text>
<text x="391.50" y="460.94" font-size="6.46" text-anchor="end" fill="#000" font-family="Liberation Sans" stroke="#000" stroke-width="0.12" >extracellular matrix</text>
<line x1="395.50" y1="467.50" x2="398.30" y2="467.50" stroke="#000" stroke-width="1.0" />
<text x="391.50" y="469.90" font-size="6.46" text-anchor="end" fill="#000" font-family="Liberation Sans" stroke="#000" stroke-width="0.12" >platelet alpha granule</text>
<line x1="395.50" y1="479.50" x2="398.30" y2="479.50" stroke="#000" stroke-width="1.0" />
<text x="391.50" y="478.85" font-size="6.46" text-anchor="end" fill="#000" font-family="Liberation Sans" stroke="#000" stroke-width="0.12" >platelet alpha granule</text>
<text x="391.50" y="485.45" font-size="6.46" text-anchor="end" fill="#000" font-family="Liberation Sans" stroke="#000" stroke-width="0.12" >lumen</text>
<line x1="395.50" y1="492.50" x2="398.30" y2="492.50" stroke="#000" stroke-width="1.0" />
<text x="391.50" y="494.41" font-size="6.46" text-anchor="end" fill="#000" font-family="Liberation Sans" stroke="#000" stroke-width="0.12" >endocytic vesicle</text>
<line x1="395.50" y1="504.50" x2="398.30" y2="504.50" stroke="#000" stroke-width="1.0" />
<text x="391.50" y="506.66" font-size="6.46" text-anchor="end" fill="#000" font-family="Liberation Sans" stroke="#000" stroke-width="0.12" >endocytic vesicle lumen</text>
<line x1="395.50" y1="516.50" x2="398.30" y2="516.50" stroke="#000" stroke-width="1.0" />
<text x="391.50" y="518.92" font-size="6.46" text-anchor="end" fill="#000" font-family="Liberation Sans" stroke="#000" stroke-width="0.12" >platelet dense granule</text>
<line x1="395.50" y1="528.50" x2="398.30" y2="528.50" stroke="#000" stroke-width="1.0" />
<text x="391.50" y="527.87" font-size="6.46" text-anchor="end" fill="#000" font-family="Liberation Sans" stroke="#000" stroke-width="0.12" >platelet dense granule</text>
<text x="391.50" y="534.47" font-size="6.46" text-anchor="end" fill="#000" font-family="Liberation Sans" stroke="#000" stroke-width="0.12" >lumen</text>
<line x1="395.50" y1="541.50" x2="398.30" y2="541.50" stroke="#000" stroke-width="1.0" />
<text x="391.50" y="540.13" font-size="6.46" text-anchor="end" fill="#000" font-family="Liberation Sans" stroke="#000" stroke-width="0.12" >haptoglobin−hemoglobin</text>
<text x="391.50" y="546.73" font-size="6.46" text-anchor="end" fill="#000" font-family="Liberation Sans" stroke="#000" stroke-width="0.12" >complex</text>
<line x1="408.50" y1="548.40" x2="408.50" y2="551.20" stroke="#000" stroke-width="1.0" />
<text x="408.00" y="559.70" font-size="6.30" text-anchor="middle" fill="#222" font-family="Liberation Sans" stroke="#222" stroke-width="0.12" >0.25</text>
<line x1="421.50" y1="548.40" x2="421.50" y2="551.20" stroke="#000" stroke-width="1.0" />
<text x="421.90" y="559.70" font-size="6.30" text-anchor="middle" fill="#222" font-family="Liberation Sans" stroke="#222" stroke-width="0.12" >0.50</text>
<line x1="435.50" y1="548.40" x2="435.50" y2="551.20" stroke="#000" stroke-width="1.0" />
<text x="435.60" y="559.70" font-size="6.30" text-anchor="middle" fill="#222" font-family="Liberation Sans" stroke="#222" stroke-width="0.12" >0.75</text>
<text x="422.00" y="570.00" font-size="7.55" text-anchor="middle" fill="#1a1a1a" font-family="Liberation Sans" stroke="#1a1a1a" stroke-width="0.12" >GeneRatio</text>
<text x="464.00" y="413.50" font-size="6.30" text-anchor="start" fill="#1a1a1a" font-family="Liberation Sans" stroke="#1a1a1a" stroke-width="0.12" >P adj</text>
<defs><linearGradient id="g9" x1="0" y1="0" x2="0" y2="1"><stop offset="0" stop-color="#ff050a"/><stop offset="0.25" stop-color="#c81432"/><stop offset="0.5" stop-color="#8c1964"/><stop offset="0.75" stop-color="#5a2396"/><stop offset="1" stop-color="#192ddc"/></linearGradient></defs>
<rect x="464.00" y="415.70" width="8.90" height="43.90" fill="url(#g9)" stroke="none" stroke-width="0.5" />
<line x1="464.00" y1="418.40" x2="465.60" y2="418.40" stroke="#fff" stroke-width="0.5" />
<line x1="471.30" y1="418.40" x2="472.90" y2="418.40" stroke="#fff" stroke-width="0.5" />
<line x1="464.00" y1="428.90" x2="465.60" y2="428.90" stroke="#fff" stroke-width="0.5" />
<line x1="471.30" y1="428.90" x2="472.90" y2="428.90" stroke="#fff" stroke-width="0.5" />
<line x1="464.00" y1="439.40" x2="465.60" y2="439.40" stroke="#fff" stroke-width="0.5" />
<line x1="471.30" y1="439.40" x2="472.90" y2="439.40" stroke="#fff" stroke-width="0.5" />
<line x1="464.00" y1="449.90" x2="465.60" y2="449.90" stroke="#fff" stroke-width="0.5" />
<line x1="471.30" y1="449.90" x2="472.90" y2="449.90" stroke="#fff" stroke-width="0.5" />
<text x="477.10" y="420.67" font-size="6.30" text-anchor="start" fill="#222" font-family="Liberation Sans" stroke="#222" stroke-width="0.12" >0.016</text>
<text x="477.10" y="431.17" font-size="6.30" text-anchor="start" fill="#222" font-family="Liberation Sans" stroke="#222" stroke-width="0.12" >0.012</text>
<text x="477.10" y="441.67" font-size="6.30" text-anchor="start" fill="#222" font-family="Liberation Sans" stroke="#222" stroke-width="0.12" >0.008</text>
<text x="477.10" y="452.17" font-size="6.30" text-anchor="start" fill="#222" font-family="Liberation Sans" stroke="#222" stroke-width="0.12" >0.004</text>
<text x="464.00" y="471.00" font-size="6.30" text-anchor="start" fill="#1a1a1a" font-family="Liberation Sans" stroke="#1a1a1a" stroke-width="0.12" >Counts</text>
<circle cx="469.20" cy="478.00" r="1.20" fill="#c9d1d1" stroke="#1a1a1a" stroke-width="0.8"/>
<text x="479.00" y="480.27" font-size="6.30" text-anchor="start" fill="#222" font-family="Liberation Sans" stroke="#222" stroke-width="0.12" >1</text>
<circle cx="469.20" cy="486.70" r="3.00" fill="#c9d1d1" stroke="#1a1a1a" stroke-width="0.8"/>
<text x="479.00" y="488.97" font-size="6.30" text-anchor="start" fill="#222" font-family="Liberation Sans" stroke="#222" stroke-width="0.12" >2</text>
<circle cx="469.20" cy="495.60" r="3.40" fill="#c9d1d1" stroke="#1a1a1a" stroke-width="0.8"/>
<text x="479.00" y="497.87" font-size="6.30" text-anchor="start" fill="#222" font-family="Liberation Sans" stroke="#222" stroke-width="0.12" >3</text>
<circle cx="469.20" cy="504.80" r="3.80" fill="#c9d1d1" stroke="#1a1a1a" stroke-width="0.8"/>
<text x="479.00" y="507.07" font-size="6.30" text-anchor="start" fill="#222" font-family="Liberation Sans" stroke="#222" stroke-width="0.12" >4</text>
<circle cx="469.20" cy="513.50" r="4.10" fill="#c9d1d1" stroke="#1a1a1a" stroke-width="0.8"/>
<text x="479.00" y="515.77" font-size="6.30" text-anchor="start" fill="#222" font-family="Liberation Sans" stroke="#222" stroke-width="0.12" >5</text>
<circle cx="469.20" cy="522.70" r="4.50" fill="#c9d1d1" stroke="#1a1a1a" stroke-width="0.8"/>
<text x="479.00" y="524.97" font-size="6.30" text-anchor="start" fill="#222" font-family="Liberation Sans" stroke="#222" stroke-width="0.12" >6</text>
<circle cx="469.20" cy="533.20" r="4.90" fill="#c9d1d1" stroke="#1a1a1a" stroke-width="0.8"/>
<text x="479.00" y="535.47" font-size="6.30" text-anchor="start" fill="#222" font-family="Liberation Sans" stroke="#222" stroke-width="0.12" >7</text>
<rect x="594.50" y="398.60" width="30.30" height="120.50" fill="#fff" stroke="none" stroke-width="0.5" />
<line x1="597.80" y1="398.60" x2="597.80" y2="519.10" stroke="#e3eaea" stroke-width="0.5" />
<line x1="601.40" y1="398.60" x2="601.40" y2="519.10" stroke="#e3eaea" stroke-width="0.95" />
<line x1="604.90" y1="398.60" x2="604.90" y2="519.10" stroke="#e3eaea" stroke-width="0.5" />
<line x1="608.30" y1="398.60" x2="608.30" y2="519.10" stroke="#e3eaea" stroke-width="0.95" />
<line x1="612.00" y1="398.60" x2="612.00" y2="519.10" stroke="#e3eaea" stroke-width="0.5" />
<line x1="615.60" y1="398.60" x2="615.60" y2="519.10" stroke="#e3eaea" stroke-width="0.95" />
<line x1="619.20" y1="398.60" x2="619.20" y2="519.10" stroke="#e3eaea" stroke-width="0.5" />
<line x1="622.90" y1="398.60" x2="622.90" y2="519.10" stroke="#e3eaea" stroke-width="0.95" />
<line x1="594.50" y1="405.40" x2="624.80" y2="405.40" stroke="#e3eaea" stroke-width="0.95" />
<line x1="594.50" y1="417.50" x2="624.80" y2="417.50" stroke="#e3eaea" stroke-width="0.95" />
<line x1="594.50" y1="430.00" x2="624.80" y2="430.00" stroke="#e3eaea" stroke-width="0.95" />
<line x1="594.50" y1="441.30" x2="624.80" y2="441.30" stroke="#e3eaea" stroke-width="0.95" />
<line x1="594.50" y1="453.50" x2="624.80" y2="453.50" stroke="#e3eaea" stroke-width="0.95" />
<line x1="594.50" y1="464.80" x2="624.80" y2="464.80" stroke="#e3eaea" stroke-width="0.95" />
<line x1="594.50" y1="477.00" x2="624.80" y2="477.00" stroke="#e3eaea" stroke-width="0.95" />
<line x1="594.50" y1="488.60" x2="624.80" y2="488.60" stroke="#e3eaea" stroke-width="0.95" />
<line x1="594.50" y1="500.20" x2="624.80" y2="500.20" stroke="#e3eaea" stroke-width="0.95" />
<line x1="594.50" y1="512.30" x2="624.80" y2="512.30" stroke="#e3eaea" stroke-width="0.95" />
<defs><clipPath id="cp10"><rect x="594.5" y="398.6" width="30.299999999999955" height="120.5"/></clipPath></defs>
<g clip-path="url(#cp10)">
<circle cx="604.90" cy="405.40" r="5.00" fill="#7a1c6e" stroke="none" stroke-width="0.5"/>
<circle cx="604.90" cy="417.50" r="5.00" fill="#7a1c6e" stroke="none" stroke-width="0.5"/>
<circle cx="604.90" cy="430.00" r="5.00" fill="#7a1c6e" stroke="none" stroke-width="0.5"/>
<circle cx="604.90" cy="441.30" r="5.00" fill="#7a1c6e" stroke="none" stroke-width="0.5"/>
<circle cx="604.90" cy="453.50" r="5.00" fill="#7a1c6e" stroke="none" stroke-width="0.5"/>
<circle cx="604.90" cy="464.80" r="5.00" fill="#0f37d2" stroke="none" stroke-width="0.5"/>
<circle cx="604.90" cy="477.00" r="5.00" fill="#0f37d2" stroke="none" stroke-width="0.5"/>
<circle cx="604.90" cy="488.60" r="5.00" fill="#0f37d2" stroke="none" stroke-width="0.5"/>
<circle cx="596.20" cy="500.20" r="1.60" fill="#7a1c6e" stroke="none" stroke-width="0.5"/>
<circle cx="596.20" cy="512.30" r="1.60" fill="#7a1c6e" stroke="none" stroke-width="0.5"/>
</g>
<rect x="624.80" y="398.60" width="13.70" height="120.50" fill="#d5dddd" stroke="#222" stroke-width="0.8" />
<text x="631.65" y="458.85" font-size="7.30" text-anchor="middle" fill="#1a1a1a" font-family="Liberation Sans" transform="rotate(90 631.65 458.85)" dy="2.55">MF</text>
<rect x="594.50" y="398.60" width="30.30" height="120.50" fill="none" stroke="#000" stroke-width="1.3" />
<line x1="591.70" y1="405.50" x2="594.50" y2="405.50" stroke="#000" stroke-width="1.0" />
<text x="588.30" y="404.43" font-size="6.46" text-anchor="end" fill="#000" font-family="Liberation Sans" stroke="#000" stroke-width="0.12" >peptidase regulator</text>
<text x="588.30" y="411.03" font-size="6.46" text-anchor="end" fill="#000" font-family="Liberation Sans" stroke="#000" stroke-width="0.12" >activity</text>
<line x1="591.70" y1="417.50" x2="594.50" y2="417.50" stroke="#000" stroke-width="1.0" />
<text x="588.30" y="416.53" font-size="6.46" text-anchor="end" fill="#000" font-family="Liberation Sans" stroke="#000" stroke-width="0.12" >endopeptidase regulator</text>
<text x="588.30" y="423.13" font-size="6.46" text-anchor="end" fill="#000" font-family="Liberation Sans" stroke="#000" stroke-width="0.12" >activity</text>
<line x1="591.70" y1="430.50" x2="594.50" y2="430.50" stroke="#000" stroke-width="1.0" />
<text x="588.30" y="429.03" font-size="6.46" text-anchor="end" fill="#000" font-family="Liberation Sans" stroke="#000" stroke-width="0.12" >peptidase inhibitor</text>
<text x="588.30" y="435.63" font-size="6.46" text-anchor="end" fill="#000" font-family="Liberation Sans" stroke="#000" stroke-width="0.12" >activity</text>
<line x1="591.70" y1="441.50" x2="594.50" y2="441.50" stroke="#000" stroke-width="1.0" />
<text x="588.30" y="440.33" font-size="6.46" text-anchor="end" fill="#000" font-family="Liberation Sans" stroke="#000" stroke-width="0.12" >endopeptidase inhibitor</text>
<text x="588.30" y="446.93" font-size="6.46" text-anchor="end" fill="#000" font-family="Liberation Sans" stroke="#000" stroke-width="0.12" >activity</text>
<line x1="591.70" y1="453.50" x2="594.50" y2="453.50" stroke="#000" stroke-width="1.0" />
<text x="588.30" y="455.83" font-size="6.46" text-anchor="end" fill="#000" font-family="Liberation Sans" stroke="#000" stroke-width="0.12" >vitamin binding</text>
<line x1="591.70" y1="464.50" x2="594.50" y2="464.50" stroke="#000" stroke-width="1.0" />
<text x="588.30" y="467.13" font-size="6.46" text-anchor="end" fill="#000" font-family="Liberation Sans" stroke="#000" stroke-width="0.12" >steroid binding</text>
<line x1="591.70" y1="477.50" x2="594.50" y2="477.50" stroke="#000" stroke-width="1.0" />
<text x="588.30" y="472.73" font-size="6.46" text-anchor="end" fill="#000" font-family="Liberation Sans" stroke="#000" stroke-width="0.12" >serine−type endopeptidase</text>
<text x="588.30" y="479.33" font-size="6.46" text-anchor="end" fill="#000" font-family="Liberation Sans" stroke="#000" stroke-width="0.12" >inhibitor</text>
<text x="588.30" y="485.93" font-size="6.46" text-anchor="end" fill="#000" font-family="Liberation Sans" stroke="#000" stroke-width="0.12" >activity</text>
<line x1="591.70" y1="488.50" x2="594.50" y2="488.50" stroke="#000" stroke-width="1.0" />
<text x="588.30" y="490.93" font-size="6.46" text-anchor="end" fill="#000" font-family="Liberation Sans" stroke="#000" stroke-width="0.12" >antioxidant activity</text>
<line x1="591.70" y1="500.50" x2="594.50" y2="500.50" stroke="#000" stroke-width="1.0" />
<text x="588.30" y="502.53" font-size="6.46" text-anchor="end" fill="#000" font-family="Liberation Sans" stroke="#000" stroke-width="0.12" >toxic substance binding</text>
<line x1="591.70" y1="512.50" x2="594.50" y2="512.50" stroke="#000" stroke-width="1.0" />
<text x="588.30" y="511.33" font-size="6.46" text-anchor="end" fill="#000" font-family="Liberation Sans" stroke="#000" stroke-width="0.12" >heme transmembrane</text>
<text x="588.30" y="517.93" font-size="6.46" text-anchor="end" fill="#000" font-family="Liberation Sans" stroke="#000" stroke-width="0.12" >transporter activity</text>
<rect x="594.50" y="522.30" width="30.30" height="25.70" fill="#fff" stroke="none" stroke-width="0.5" />
<line x1="597.80" y1="522.30" x2="597.80" y2="548.00" stroke="#e3eaea" stroke-width="0.5" />
<line x1="601.40" y1="522.30" x2="601.40" y2="548.00" stroke="#e3eaea" stroke-width="0.95" />
<line x1="604.90" y1="522.30" x2="604.90" y2="548.00" stroke="#e3eaea" stroke-width="0.5" />
<line x1="608.30" y1="522.30" x2="608.30" y2="548.00" stroke="#e3eaea" stroke-width="0.95" />
<line x1="612.00" y1="522.30" x2="612.00" y2="548.00" stroke="#e3eaea" stroke-width="0.5" />
<line x1="615.60" y1="522.30" x2="615.60" y2="548.00" stroke="#e3eaea" stroke-width="0.95" />
<line x1="619.20" y1="522.30" x2="619.20" y2="548.00" stroke="#e3eaea" stroke-width="0.5" />
<line x1="622.90" y1="522.30" x2="622.90" y2="548.00" stroke="#e3eaea" stroke-width="0.95" />
<line x1="594.50" y1="529.90" x2="624.80" y2="529.90" stroke="#e3eaea" stroke-width="0.95" />
<line x1="594.50" y1="541.80" x2="624.80" y2="541.80" stroke="#e3eaea" stroke-width="0.95" />
<defs><clipPath id="cp11"><rect x="594.5" y="522.3" width="30.299999999999955" height="25.700000000000045"/></clipPath></defs>
<g clip-path="url(#cp11)">
<circle cx="622.90" cy="529.90" r="1.90" fill="#f51419" stroke="none" stroke-width="0.5"/>
<circle cx="622.90" cy="541.80" r="1.90" fill="#f51419" stroke="none" stroke-width="0.5"/>
</g>
<rect x="624.80" y="522.30" width="13.70" height="25.70" fill="#d5dddd" stroke="#222" stroke-width="0.8" />
<text x="631.65" y="535.15" font-size="7.30" text-anchor="middle" fill="#1a1a1a" font-family="Liberation Sans" transform="rotate(90 631.65 535.15)" dy="2.55">KEGG</text>
<rect x="594.50" y="522.30" width="30.30" height="25.70" fill="none" stroke="#000" stroke-width="1.3" />
<line x1="591.70" y1="529.50" x2="594.50" y2="529.50" stroke="#000" stroke-width="1.0" />
<text x="588.30" y="528.93" font-size="6.46" text-anchor="end" fill="#000" font-family="Liberation Sans" stroke="#000" stroke-width="0.12" >Complement and coagulation</text>
<text x="588.30" y="535.53" font-size="6.46" text-anchor="end" fill="#000" font-family="Liberation Sans" stroke="#000" stroke-width="0.12" >cascades</text>
<line x1="591.70" y1="541.50" x2="594.50" y2="541.50" stroke="#000" stroke-width="1.0" />
<text x="588.30" y="544.13" font-size="6.46" text-anchor="end" fill="#000" font-family="Liberation Sans" stroke="#000" stroke-width="0.12" >Thyroid hormone synthesis</text>
<line x1="601.50" y1="548.00" x2="601.50" y2="550.80" stroke="#000" stroke-width="1.0" />
<text x="601.40" y="559.60" font-size="6.30" text-anchor="middle" fill="#222" font-family="Liberation Sans" stroke="#222" stroke-width="0.12" >0.2</text>
<line x1="608.50" y1="548.00" x2="608.50" y2="550.80" stroke="#000" stroke-width="1.0" />
<text x="608.30" y="559.60" font-size="6.30" text-anchor="middle" fill="#222" font-family="Liberation Sans" stroke="#222" stroke-width="0.12" >0.3</text>
<line x1="615.50" y1="548.00" x2="615.50" y2="550.80" stroke="#000" stroke-width="1.0" />
<text x="615.60" y="559.60" font-size="6.30" text-anchor="middle" fill="#222" font-family="Liberation Sans" stroke="#222" stroke-width="0.12" >0.4</text>
<line x1="622.50" y1="548.00" x2="622.50" y2="550.80" stroke="#000" stroke-width="1.0" />
<text x="622.90" y="559.60" font-size="6.30" text-anchor="middle" fill="#222" font-family="Liberation Sans" stroke="#222" stroke-width="0.12" >0.5</text>
<text x="609.50" y="569.40" font-size="7.55" text-anchor="middle" fill="#1a1a1a" font-family="Liberation Sans" stroke="#1a1a1a" stroke-width="0.12" >GeneRatio</text>
<text x="643.10" y="421.60" font-size="6.30" text-anchor="start" fill="#1a1a1a" font-family="Liberation Sans" stroke="#1a1a1a" stroke-width="0.12" >P adj</text>
<defs><linearGradient id="g12" x1="0" y1="0" x2="0" y2="1"><stop offset="0" stop-color="#ff050a"/><stop offset="0.25" stop-color="#c81432"/><stop offset="0.5" stop-color="#8c1964"/><stop offset="0.75" stop-color="#5a2396"/><stop offset="1" stop-color="#192ddc"/></linearGradient></defs>
<rect x="643.10" y="425.10" width="8.70" height="43.70" fill="url(#g12)" stroke="none" stroke-width="0.5" />
<line x1="643.10" y1="428.00" x2="644.70" y2="428.00" stroke="#fff" stroke-width="0.5" />
<line x1="650.20" y1="428.00" x2="651.80" y2="428.00" stroke="#fff" stroke-width="0.5" />
<line x1="643.10" y1="438.20" x2="644.70" y2="438.20" stroke="#fff" stroke-width="0.5" />
<line x1="650.20" y1="438.20" x2="651.80" y2="438.20" stroke="#fff" stroke-width="0.5" />
<line x1="643.10" y1="448.40" x2="644.70" y2="448.40" stroke="#fff" stroke-width="0.5" />
<line x1="650.20" y1="448.40" x2="651.80" y2="448.40" stroke="#fff" stroke-width="0.5" />
<line x1="643.10" y1="458.30" x2="644.70" y2="458.30" stroke="#fff" stroke-width="0.5" />
<line x1="650.20" y1="458.30" x2="651.80" y2="458.30" stroke="#fff" stroke-width="0.5" />
<line x1="643.10" y1="468.50" x2="644.70" y2="468.50" stroke="#fff" stroke-width="0.5" />
<line x1="650.20" y1="468.50" x2="651.80" y2="468.50" stroke="#fff" stroke-width="0.5" />
<text x="655.30" y="430.27" font-size="6.30" text-anchor="start" fill="#222" font-family="Liberation Sans" stroke="#222" stroke-width="0.12" >0.0200</text>
<text x="655.30" y="440.47" font-size="6.30" text-anchor="start" fill="#222" font-family="Liberation Sans" stroke="#222" stroke-width="0.12" >0.0175</text>
<text x="655.30" y="450.67" font-size="6.30" text-anchor="start" fill="#222" font-family="Liberation Sans" stroke="#222" stroke-width="0.12" >0.0150</text>
<text x="655.30" y="460.57" font-size="6.30" text-anchor="start" fill="#222" font-family="Liberation Sans" stroke="#222" stroke-width="0.12" >0.0125</text>
<text x="655.30" y="470.77" font-size="6.30" text-anchor="start" fill="#222" font-family="Liberation Sans" stroke="#222" stroke-width="0.12" >0.0100</text>
<text x="643.10" y="479.70" font-size="6.30" text-anchor="start" fill="#1a1a1a" font-family="Liberation Sans" stroke="#1a1a1a" stroke-width="0.12" >Counts</text>
<circle cx="648.00" cy="487.20" r="1.30" fill="#c9d1d1" stroke="#1a1a1a" stroke-width="0.8"/>
<text x="656.60" y="489.47" font-size="6.30" text-anchor="start" fill="#222" font-family="Liberation Sans" stroke="#222" stroke-width="0.12" >1.00</text>
<circle cx="648.00" cy="495.30" r="3.40" fill="#c9d1d1" stroke="#1a1a1a" stroke-width="0.8"/>
<text x="656.60" y="497.57" font-size="6.30" text-anchor="start" fill="#222" font-family="Liberation Sans" stroke="#222" stroke-width="0.12" >1.25</text>
<circle cx="648.00" cy="504.80" r="3.90" fill="#c9d1d1" stroke="#1a1a1a" stroke-width="0.8"/>
<text x="656.60" y="507.07" font-size="6.30" text-anchor="start" fill="#222" font-family="Liberation Sans" stroke="#222" stroke-width="0.12" >1.50</text>
<circle cx="648.00" cy="514.20" r="4.40" fill="#c9d1d1" stroke="#1a1a1a" stroke-width="0.8"/>
<text x="656.60" y="516.47" font-size="6.30" text-anchor="start" fill="#222" font-family="Liberation Sans" stroke="#222" stroke-width="0.12" >1.75</text>
<circle cx="648.00" cy="524.20" r="4.90" fill="#c9d1d1" stroke="#1a1a1a" stroke-width="0.8"/>
<text x="656.60" y="526.47" font-size="6.30" text-anchor="start" fill="#222" font-family="Liberation Sans" stroke="#222" stroke-width="0.12" >2.00</text>
<text x="26.90" y="609.30" font-size="16.80" text-anchor="start" fill="#000" font-family="Liberation Sans" >G</text>
<rect x="52.80" y="599.20" width="612.10" height="8.40" fill="#62efa9" stroke="none" stroke-width="0.5" />
<rect x="145.80" y="616.10" width="86.70" height="151.00" fill="#fff" stroke="none" stroke-width="0.5" />
<line x1="149.60" y1="616.10" x2="149.60" y2="767.10" stroke="#e3eaea" stroke-width="0.95" />
<line x1="165.30" y1="616.10" x2="165.30" y2="767.10" stroke="#e3eaea" stroke-width="0.95" />
<line x1="181.00" y1="616.10" x2="181.00" y2="767.10" stroke="#e3eaea" stroke-width="0.95" />
<line x1="196.70" y1="616.10" x2="196.70" y2="767.10" stroke="#e3eaea" stroke-width="0.95" />
<line x1="212.40" y1="616.10" x2="212.40" y2="767.10" stroke="#e3eaea" stroke-width="0.95" />
<line x1="228.10" y1="616.10" x2="228.10" y2="767.10" stroke="#e3eaea" stroke-width="0.95" />
<line x1="157.45" y1="616.10" x2="157.45" y2="767.10" stroke="#e3eaea" stroke-width="0.5" />
<line x1="173.15" y1="616.10" x2="173.15" y2="767.10" stroke="#e3eaea" stroke-width="0.5" />
<line x1="188.85" y1="616.10" x2="188.85" y2="767.10" stroke="#e3eaea" stroke-width="0.5" />
<line x1="204.55" y1="616.10" x2="204.55" y2="767.10" stroke="#e3eaea" stroke-width="0.5" />
<line x1="220.25" y1="616.10" x2="220.25" y2="767.10" stroke="#e3eaea" stroke-width="0.5" />
<line x1="145.80" y1="623.50" x2="232.50" y2="623.50" stroke="#e3eaea" stroke-width="0.95" />
<line x1="145.80" y1="635.95" x2="232.50" y2="635.95" stroke="#e3eaea" stroke-width="0.95" />
<line x1="145.80" y1="648.39" x2="232.50" y2="648.39" stroke="#e3eaea" stroke-width="0.95" />
<line x1="145.80" y1="660.84" x2="232.50" y2="660.84" stroke="#e3eaea" stroke-width="0.95" />
<line x1="145.80" y1="673.28" x2="232.50" y2="673.28" stroke="#e3eaea" stroke-width="0.95" />
<line x1="145.80" y1="685.73" x2="232.50" y2="685.73" stroke="#e3eaea" stroke-width="0.95" />
<line x1="145.80" y1="698.17" x2="232.50" y2="698.17" stroke="#e3eaea" stroke-width="0.95" />
<line x1="145.80" y1="710.62" x2="232.50" y2="710.62" stroke="#e3eaea" stroke-width="0.95" />
<line x1="145.80" y1="723.06" x2="232.50" y2="723.06" stroke="#e3eaea" stroke-width="0.95" />
<line x1="145.80" y1="735.51" x2="232.50" y2="735.51" stroke="#e3eaea" stroke-width="0.95" />
<line x1="145.80" y1="747.95" x2="232.50" y2="747.95" stroke="#e3eaea" stroke-width="0.95" />
<line x1="145.80" y1="760.40" x2="232.50" y2="760.40" stroke="#e3eaea" stroke-width="0.95" />
<defs><clipPath id="cp13"><rect x="145.8" y="616.1" width="86.69999999999999" height="151.0"/></clipPath></defs>
<g clip-path="url(#cp13)">
<circle cx="228.10" cy="623.50" r="4.70" fill="#0f37d2" stroke="none" stroke-width="0.5"/>
<circle cx="212.30" cy="635.95" r="4.50" fill="#1e36c8" stroke="none" stroke-width="0.5"/>
<circle cx="196.60" cy="648.39" r="4.10" fill="#6a1e7a" stroke="none" stroke-width="0.5"/>
<circle cx="180.80" cy="660.84" r="3.80" fill="#3030b0" stroke="none" stroke-width="0.5"/>
<circle cx="180.80" cy="673.28" r="3.80" fill="#0f37d2" stroke="none" stroke-width="0.5"/>
<circle cx="165.00" cy="685.73" r="3.40" fill="#f51419" stroke="none" stroke-width="0.5"/>
<circle cx="165.00" cy="698.17" r="3.40" fill="#a8184a" stroke="none" stroke-width="0.5"/>
<circle cx="165.00" cy="710.62" r="3.40" fill="#0f37d2" stroke="none" stroke-width="0.5"/>
<circle cx="165.00" cy="723.06" r="3.40" fill="#0f37d2" stroke="none" stroke-width="0.5"/>
<circle cx="149.30" cy="735.51" r="1.80" fill="#5030a0" stroke="none" stroke-width="0.5"/>
<circle cx="149.30" cy="747.95" r="1.80" fill="#0f37d2" stroke="none" stroke-width="0.5"/>
<circle cx="149.30" cy="760.40" r="1.80" fill="#0f37d2" stroke="none" stroke-width="0.5"/>
</g>
<rect x="232.50" y="616.10" width="13.90" height="151.00" fill="#d5dddd" stroke="#222" stroke-width="0.8" />
<text x="239.45" y="691.60" font-size="7.20" text-anchor="middle" fill="#1a1a1a" font-family="Liberation Sans" transform="rotate(90 239.45 691.60)" dy="2.52">BP</text>
<rect x="145.80" y="616.10" width="86.70" height="151.00" fill="none" stroke="#000" stroke-width="1.3" />
<line x1="143.00" y1="623.50" x2="145.80" y2="623.50" stroke="#000" stroke-width="1.0" />
<text x="139.50" y="625.84" font-size="6.50" text-anchor="end" fill="#000" font-family="Liberation Sans" stroke="#000" stroke-width="0.12" >defense response to bacterium</text>
<line x1="143.00" y1="635.50" x2="145.80" y2="635.50" stroke="#000" stroke-width="1.0" />
<text x="139.50" y="638.29" font-size="6.50" text-anchor="end" fill="#000" font-family="Liberation Sans" stroke="#000" stroke-width="0.12" >leukocyte migration</text>
<line x1="143.00" y1="648.50" x2="145.80" y2="648.50" stroke="#000" stroke-width="1.0" />
<text x="139.50" y="650.73" font-size="6.50" text-anchor="end" fill="#000" font-family="Liberation Sans" stroke="#000" stroke-width="0.12" >response to lipopolysaccharide</text>
<line x1="143.00" y1="660.50" x2="145.80" y2="660.50" stroke="#000" stroke-width="1.0" />
<text x="139.50" y="663.18" font-size="6.50" text-anchor="end" fill="#000" font-family="Liberation Sans" stroke="#000" stroke-width="0.12" >antimicrobial humoral response</text>
<line x1="143.00" y1="673.50" x2="145.80" y2="673.50" stroke="#000" stroke-width="1.0" />
<text x="139.50" y="675.62" font-size="6.50" text-anchor="end" fill="#000" font-family="Liberation Sans" stroke="#000" stroke-width="0.12" >defense response to fungus</text>
<line x1="143.00" y1="685.50" x2="145.80" y2="685.50" stroke="#000" stroke-width="1.0" />
<text x="139.50" y="688.07" font-size="6.50" text-anchor="end" fill="#000" font-family="Liberation Sans" stroke="#000" stroke-width="0.12" >cellular oxidant detoxification</text>
<line x1="143.00" y1="698.50" x2="145.80" y2="698.50" stroke="#000" stroke-width="1.0" />
<text x="139.50" y="700.51" font-size="6.50" text-anchor="end" fill="#000" font-family="Liberation Sans" stroke="#000" stroke-width="0.12" >defense response to Gram−negative bacterium</text>
<line x1="143.00" y1="710.50" x2="145.80" y2="710.50" stroke="#000" stroke-width="1.0" />
<text x="139.50" y="712.96" font-size="6.50" text-anchor="end" fill="#000" font-family="Liberation Sans" stroke="#000" stroke-width="0.12" >neutrophil mediated immunity</text>
<line x1="143.00" y1="723.50" x2="145.80" y2="723.50" stroke="#000" stroke-width="1.0" />
<text x="139.50" y="725.40" font-size="6.50" text-anchor="end" fill="#000" font-family="Liberation Sans" stroke="#000" stroke-width="0.12" >killing by host of symbiont cells</text>
<line x1="143.00" y1="735.50" x2="145.80" y2="735.50" stroke="#000" stroke-width="1.0" />
<text x="139.50" y="737.85" font-size="6.50" text-anchor="end" fill="#000" font-family="Liberation Sans" stroke="#000" stroke-width="0.12" >sequestering of metal ion</text>
<line x1="143.00" y1="747.50" x2="145.80" y2="747.50" stroke="#000" stroke-width="1.0" />
<text x="139.50" y="750.29" font-size="6.50" text-anchor="end" fill="#000" font-family="Liberation Sans" stroke="#000" stroke-width="0.12" >neutrophil−mediated killing of symbiont cell</text>
<line x1="143.00" y1="760.50" x2="145.80" y2="760.50" stroke="#000" stroke-width="1.0" />
<text x="139.50" y="762.74" font-size="6.50" text-anchor="end" fill="#000" font-family="Liberation Sans" stroke="#000" stroke-width="0.12" >neutrophil−mediated killing of bacterium</text>
<line x1="149.50" y1="767.10" x2="149.50" y2="769.90" stroke="#000" stroke-width="1.0" />
<text x="149.60" y="778.10" font-size="6.30" text-anchor="middle" fill="#222" font-family="Liberation Sans" stroke="#222" stroke-width="0.12" >0.15</text>
<line x1="165.50" y1="767.10" x2="165.50" y2="769.90" stroke="#000" stroke-width="1.0" />
<text x="165.30" y="778.10" font-size="6.30" text-anchor="middle" fill="#222" font-family="Liberation Sans" stroke="#222" stroke-width="0.12" >0.20</text>
<line x1="181.50" y1="767.10" x2="181.50" y2="769.90" stroke="#000" stroke-width="1.0" />
<text x="181.00" y="778.10" font-size="6.30" text-anchor="middle" fill="#222" font-family="Liberation Sans" stroke="#222" stroke-width="0.12" >0.25</text>
<line x1="196.50" y1="767.10" x2="196.50" y2="769.90" stroke="#000" stroke-width="1.0" />
<text x="196.70" y="778.10" font-size="6.30" text-anchor="middle" fill="#222" font-family="Liberation Sans" stroke="#222" stroke-width="0.12" >0.30</text>
<line x1="212.50" y1="767.10" x2="212.50" y2="769.90" stroke="#000" stroke-width="1.0" />
<text x="212.40" y="778.10" font-size="6.30" text-anchor="middle" fill="#222" font-family="Liberation Sans" stroke="#222" stroke-width="0.12" >0.35</text>
<line x1="228.50" y1="767.10" x2="228.50" y2="769.90" stroke="#000" stroke-width="1.0" />
<text x="228.10" y="778.10" font-size="6.30" text-anchor="middle" fill="#222" font-family="Liberation Sans" stroke="#222" stroke-width="0.12" >0.40</text>
<text x="188.70" y="788.10" font-size="7.65" text-anchor="middle" fill="#1a1a1a" font-family="Liberation Sans" stroke="#1a1a1a" stroke-width="0.12" >GeneRatio</text>
<text x="250.90" y="635.10" font-size="6.50" text-anchor="start" fill="#1a1a1a" font-family="Liberation Sans" stroke="#1a1a1a" stroke-width="0.12" >P adj</text>
<defs><linearGradient id="g14" x1="0" y1="0" x2="0" y2="1"><stop offset="0" stop-color="#ff050a"/><stop offset="0.25" stop-color="#c81432"/><stop offset="0.5" stop-color="#8c1964"/><stop offset="0.75" stop-color="#5a2396"/><stop offset="1" stop-color="#192ddc"/></linearGradient></defs>
<rect x="250.90" y="637.90" width="9.10" height="44.90" fill="url(#g14)" stroke="none" stroke-width="0.5" />
<line x1="250.90" y1="639.20" x2="252.50" y2="639.20" stroke="#fff" stroke-width="0.5" />
<line x1="258.40" y1="639.20" x2="260.00" y2="639.20" stroke="#fff" stroke-width="0.5" />
<line x1="250.90" y1="654.10" x2="252.50" y2="654.10" stroke="#fff" stroke-width="0.5" />
<line x1="258.40" y1="654.10" x2="260.00" y2="654.10" stroke="#fff" stroke-width="0.5" />
<line x1="250.90" y1="668.80" x2="252.50" y2="668.80" stroke="#fff" stroke-width="0.5" />
<line x1="258.40" y1="668.80" x2="260.00" y2="668.80" stroke="#fff" stroke-width="0.5" />
<text x="263.60" y="641.54" font-size="6.50" text-anchor="start" fill="#222" font-family="Liberation Sans" stroke="#222" stroke-width="0.12" >0.00015</text>
<text x="263.60" y="656.44" font-size="6.50" text-anchor="start" fill="#222" font-family="Liberation Sans" stroke="#222" stroke-width="0.12" >0.00010</text>
<text x="263.60" y="671.14" font-size="6.50" text-anchor="start" fill="#222" font-family="Liberation Sans" stroke="#222" stroke-width="0.12" >0.00005</text>
<text x="250.90" y="694.00" font-size="6.50" text-anchor="start" fill="#1a1a1a" font-family="Liberation Sans" stroke="#1a1a1a" stroke-width="0.12" >Counts</text>
<circle cx="256.10" cy="701.00" r="1.00" fill="#c9d1d1" stroke="#1a1a1a" stroke-width="0.8"/>
<text x="265.70" y="703.34" font-size="6.50" text-anchor="start" fill="#222" font-family="Liberation Sans" stroke="#222" stroke-width="0.12" >3</text>
<circle cx="256.10" cy="710.00" r="2.40" fill="#c9d1d1" stroke="#1a1a1a" stroke-width="0.8"/>
<text x="265.70" y="712.34" font-size="6.50" text-anchor="start" fill="#222" font-family="Liberation Sans" stroke="#222" stroke-width="0.12" >4</text>
<circle cx="256.10" cy="719.10" r="2.90" fill="#c9d1d1" stroke="#1a1a1a" stroke-width="0.8"/>
<text x="265.70" y="721.44" font-size="6.50" text-anchor="start" fill="#222" font-family="Liberation Sans" stroke="#222" stroke-width="0.12" >5</text>
<circle cx="256.10" cy="728.00" r="3.40" fill="#c9d1d1" stroke="#1a1a1a" stroke-width="0.8"/>
<text x="265.70" y="730.34" font-size="6.50" text-anchor="start" fill="#222" font-family="Liberation Sans" stroke="#222" stroke-width="0.12" >6</text>
<circle cx="256.10" cy="737.50" r="3.90" fill="#c9d1d1" stroke="#1a1a1a" stroke-width="0.8"/>
<text x="265.70" y="739.84" font-size="6.50" text-anchor="start" fill="#222" font-family="Liberation Sans" stroke="#222" stroke-width="0.12" >7</text>
<circle cx="256.10" cy="747.90" r="4.30" fill="#c9d1d1" stroke="#1a1a1a" stroke-width="0.8"/>
<text x="265.70" y="750.24" font-size="6.50" text-anchor="start" fill="#222" font-family="Liberation Sans" stroke="#222" stroke-width="0.12" >8</text>
<rect x="398.70" y="616.30" width="57.00" height="148.70" fill="#fff" stroke="none" stroke-width="0.5" />
<line x1="401.20" y1="616.30" x2="401.20" y2="765.00" stroke="#e3eaea" stroke-width="0.95" />
<line x1="412.80" y1="616.30" x2="412.80" y2="765.00" stroke="#e3eaea" stroke-width="0.95" />
<line x1="424.40" y1="616.30" x2="424.40" y2="765.00" stroke="#e3eaea" stroke-width="0.95" />
<line x1="436.00" y1="616.30" x2="436.00" y2="765.00" stroke="#e3eaea" stroke-width="0.95" />
<line x1="447.60" y1="616.30" x2="447.60" y2="765.00" stroke="#e3eaea" stroke-width="0.95" />
<line x1="407.00" y1="616.30" x2="407.00" y2="765.00" stroke="#e3eaea" stroke-width="0.5" />
<line x1="418.60" y1="616.30" x2="418.60" y2="765.00" stroke="#e3eaea" stroke-width="0.5" />
<line x1="430.20" y1="616.30" x2="430.20" y2="765.00" stroke="#e3eaea" stroke-width="0.5" />
<line x1="441.80" y1="616.30" x2="441.80" y2="765.00" stroke="#e3eaea" stroke-width="0.5" />
<line x1="453.40" y1="616.30" x2="453.40" y2="765.00" stroke="#e3eaea" stroke-width="0.5" />
<line x1="398.70" y1="624.00" x2="455.70" y2="624.00" stroke="#e3eaea" stroke-width="0.95" />
<line x1="398.70" y1="636.24" x2="455.70" y2="636.24" stroke="#e3eaea" stroke-width="0.95" />
<line x1="398.70" y1="648.47" x2="455.70" y2="648.47" stroke="#e3eaea" stroke-width="0.95" />
<line x1="398.70" y1="660.71" x2="455.70" y2="660.71" stroke="#e3eaea" stroke-width="0.95" />
<line x1="398.70" y1="672.95" x2="455.70" y2="672.95" stroke="#e3eaea" stroke-width="0.95" />
<line x1="398.70" y1="685.18" x2="455.70" y2="685.18" stroke="#e3eaea" stroke-width="0.95" />
<line x1="398.70" y1="697.42" x2="455.70" y2="697.42" stroke="#e3eaea" stroke-width="0.95" />
<line x1="398.70" y1="709.65" x2="455.70" y2="709.65" stroke="#e3eaea" stroke-width="0.95" />
<line x1="398.70" y1="721.89" x2="455.70" y2="721.89" stroke="#e3eaea" stroke-width="0.95" />
<line x1="398.70" y1="734.13" x2="455.70" y2="734.13" stroke="#e3eaea" stroke-width="0.95" />
<line x1="398.70" y1="746.36" x2="455.70" y2="746.36" stroke="#e3eaea" stroke-width="0.95" />
<line x1="398.70" y1="758.60" x2="455.70" y2="758.60" stroke="#e3eaea" stroke-width="0.95" />
<defs><clipPath id="cp15"><rect x="398.7" y="616.3" width="57.0" height="148.70000000000005"/></clipPath></defs>
<g clip-path="url(#cp15)">
<circle cx="452.40" cy="624.00" r="4.70" fill="#0f37d2" stroke="none" stroke-width="0.5"/>
<circle cx="452.40" cy="636.24" r="4.70" fill="#0f37d2" stroke="none" stroke-width="0.5"/>
<circle cx="452.40" cy="648.47" r="4.70" fill="#0f37d2" stroke="none" stroke-width="0.5"/>
<circle cx="435.80" cy="660.71" r="4.30" fill="#0f37d2" stroke="none" stroke-width="0.5"/>
<circle cx="418.60" cy="672.95" r="3.70" fill="#0f37d2" stroke="none" stroke-width="0.5"/>
<circle cx="418.60" cy="685.18" r="3.70" fill="#0f37d2" stroke="none" stroke-width="0.5"/>
<circle cx="412.80" cy="697.42" r="3.40" fill="#4a2aa0" stroke="none" stroke-width="0.5"/>
<circle cx="412.80" cy="709.65" r="3.40" fill="#4a2aa0" stroke="none" stroke-width="0.5"/>
<circle cx="412.80" cy="721.89" r="3.40" fill="#0f37d2" stroke="none" stroke-width="0.5"/>
<circle cx="407.00" cy="734.13" r="3.10" fill="#4a2aa0" stroke="none" stroke-width="0.5"/>
<circle cx="401.20" cy="746.36" r="1.80" fill="#f51419" stroke="none" stroke-width="0.5"/>
<circle cx="401.20" cy="758.60" r="1.80" fill="#6a2a90" stroke="none" stroke-width="0.5"/>
</g>
<rect x="455.70" y="616.30" width="14.40" height="148.70" fill="#d5dddd" stroke="#222" stroke-width="0.8" />
<text x="462.90" y="690.65" font-size="7.20" text-anchor="middle" fill="#1a1a1a" font-family="Liberation Sans" transform="rotate(90 462.90 690.65)" dy="2.52">CC</text>
<rect x="398.70" y="616.30" width="57.00" height="148.70" fill="none" stroke="#000" stroke-width="1.3" />
<line x1="395.90" y1="624.50" x2="398.70" y2="624.50" stroke="#000" stroke-width="1.0" />
<text x="392.00" y="626.34" font-size="6.50" text-anchor="end" fill="#000" font-family="Liberation Sans" stroke="#000" stroke-width="0.12" >vesicle lumen</text>
<line x1="395.90" y1="636.50" x2="398.70" y2="636.50" stroke="#000" stroke-width="1.0" />
<text x="392.00" y="638.58" font-size="6.50" text-anchor="end" fill="#000" font-family="Liberation Sans" stroke="#000" stroke-width="0.12" >cytoplasmic vesicle lumen</text>
<line x1="395.90" y1="648.50" x2="398.70" y2="648.50" stroke="#000" stroke-width="1.0" />
<text x="392.00" y="650.81" font-size="6.50" text-anchor="end" fill="#000" font-family="Liberation Sans" stroke="#000" stroke-width="0.12" >secretory granule lumen</text>
<line x1="395.90" y1="660.50" x2="398.70" y2="660.50" stroke="#000" stroke-width="1.0" />
<text x="392.00" y="659.75" font-size="6.50" text-anchor="end" fill="#000" font-family="Liberation Sans" stroke="#000" stroke-width="0.12" >collagen−containing extracellular</text>
<text x="392.00" y="666.35" font-size="6.50" text-anchor="end" fill="#000" font-family="Liberation Sans" stroke="#000" stroke-width="0.12" >matrix</text>
<line x1="395.90" y1="672.50" x2="398.70" y2="672.50" stroke="#000" stroke-width="1.0" />
<text x="392.00" y="675.29" font-size="6.50" text-anchor="end" fill="#000" font-family="Liberation Sans" stroke="#000" stroke-width="0.12" >azurophil granule</text>
<line x1="395.90" y1="685.50" x2="398.70" y2="685.50" stroke="#000" stroke-width="1.0" />
<text x="392.00" y="687.52" font-size="6.50" text-anchor="end" fill="#000" font-family="Liberation Sans" stroke="#000" stroke-width="0.12" >primary lysosome</text>
<line x1="395.90" y1="697.50" x2="398.70" y2="697.50" stroke="#000" stroke-width="1.0" />
<text x="392.00" y="699.76" font-size="6.50" text-anchor="end" fill="#000" font-family="Liberation Sans" stroke="#000" stroke-width="0.12" >vacuolar lumen</text>
<line x1="395.90" y1="709.50" x2="398.70" y2="709.50" stroke="#000" stroke-width="1.0" />
<text x="392.00" y="711.99" font-size="6.50" text-anchor="end" fill="#000" font-family="Liberation Sans" stroke="#000" stroke-width="0.12" >specific granule</text>
<line x1="395.90" y1="721.50" x2="398.70" y2="721.50" stroke="#000" stroke-width="1.0" />
<text x="392.00" y="724.23" font-size="6.50" text-anchor="end" fill="#000" font-family="Liberation Sans" stroke="#000" stroke-width="0.12" >azurophil granule lumen</text>
<line x1="395.90" y1="734.50" x2="398.70" y2="734.50" stroke="#000" stroke-width="1.0" />
<text x="392.00" y="736.47" font-size="6.50" text-anchor="end" fill="#000" font-family="Liberation Sans" stroke="#000" stroke-width="0.12" >specific granule lumen</text>
<line x1="395.90" y1="746.50" x2="398.70" y2="746.50" stroke="#000" stroke-width="1.0" />
<text x="392.00" y="748.70" font-size="6.50" text-anchor="end" fill="#000" font-family="Liberation Sans" stroke="#000" stroke-width="0.12" >endocytic vesicle lumen</text>
<line x1="395.90" y1="758.50" x2="398.70" y2="758.50" stroke="#000" stroke-width="1.0" />
<text x="392.00" y="760.94" font-size="6.50" text-anchor="end" fill="#000" font-family="Liberation Sans" stroke="#000" stroke-width="0.12" >cytolytic granule</text>
<line x1="401.50" y1="765.00" x2="401.50" y2="767.80" stroke="#000" stroke-width="1.0" />
<text x="401.20" y="777.30" font-size="6.30" text-anchor="middle" fill="#222" font-family="Liberation Sans" stroke="#222" stroke-width="0.12" >0.1</text>
<line x1="412.50" y1="765.00" x2="412.50" y2="767.80" stroke="#000" stroke-width="1.0" />
<text x="412.80" y="777.30" font-size="6.30" text-anchor="middle" fill="#222" font-family="Liberation Sans" stroke="#222" stroke-width="0.12" >0.2</text>
<line x1="424.50" y1="765.00" x2="424.50" y2="767.80" stroke="#000" stroke-width="1.0" />
<text x="424.40" y="777.30" font-size="6.30" text-anchor="middle" fill="#222" font-family="Liberation Sans" stroke="#222" stroke-width="0.12" >0.3</text>
<line x1="436.50" y1="765.00" x2="436.50" y2="767.80" stroke="#000" stroke-width="1.0" />
<text x="436.00" y="777.30" font-size="6.30" text-anchor="middle" fill="#222" font-family="Liberation Sans" stroke="#222" stroke-width="0.12" >0.4</text>
<line x1="447.50" y1="765.00" x2="447.50" y2="767.80" stroke="#000" stroke-width="1.0" />
<text x="447.60" y="777.30" font-size="6.30" text-anchor="middle" fill="#222" font-family="Liberation Sans" stroke="#222" stroke-width="0.12" >0.5</text>
<text x="427.20" y="786.50" font-size="7.65" text-anchor="middle" fill="#1a1a1a" font-family="Liberation Sans" stroke="#1a1a1a" stroke-width="0.12" >GeneRatio</text>
<text x="474.10" y="639.60" font-size="6.50" text-anchor="start" fill="#1a1a1a" font-family="Liberation Sans" stroke="#1a1a1a" stroke-width="0.12" >P adj</text>
<defs><linearGradient id="g16" x1="0" y1="0" x2="0" y2="1"><stop offset="0" stop-color="#ff050a"/><stop offset="0.25" stop-color="#c81432"/><stop offset="0.5" stop-color="#8c1964"/><stop offset="0.75" stop-color="#5a2396"/><stop offset="1" stop-color="#192ddc"/></linearGradient></defs>
<rect x="474.10" y="642.70" width="9.20" height="44.20" fill="url(#g16)" stroke="none" stroke-width="0.5" />
<line x1="474.10" y1="650.40" x2="475.70" y2="650.40" stroke="#fff" stroke-width="0.5" />
<line x1="481.70" y1="650.40" x2="483.30" y2="650.40" stroke="#fff" stroke-width="0.5" />
<line x1="474.10" y1="662.30" x2="475.70" y2="662.30" stroke="#fff" stroke-width="0.5" />
<line x1="481.70" y1="662.30" x2="483.30" y2="662.30" stroke="#fff" stroke-width="0.5" />
<line x1="474.10" y1="674.60" x2="475.70" y2="674.60" stroke="#fff" stroke-width="0.5" />
<line x1="481.70" y1="674.60" x2="483.30" y2="674.60" stroke="#fff" stroke-width="0.5" />
<text x="487.00" y="652.74" font-size="6.50" text-anchor="start" fill="#222" font-family="Liberation Sans" stroke="#222" stroke-width="0.12" >0.0015</text>
<text x="487.00" y="664.64" font-size="6.50" text-anchor="start" fill="#222" font-family="Liberation Sans" stroke="#222" stroke-width="0.12" >0.0010</text>
<text x="487.00" y="676.94" font-size="6.50" text-anchor="start" fill="#222" font-family="Liberation Sans" stroke="#222" stroke-width="0.12" >0.0005</text>
<text x="474.10" y="697.90" font-size="6.50" text-anchor="start" fill="#1a1a1a" font-family="Liberation Sans" stroke="#1a1a1a" stroke-width="0.12" >Counts</text>
<circle cx="479.30" cy="704.60" r="1.00" fill="#c9d1d1" stroke="#1a1a1a" stroke-width="0.8"/>
<text x="487.60" y="706.94" font-size="6.50" text-anchor="start" fill="#222" font-family="Liberation Sans" stroke="#222" stroke-width="0.12" >2</text>
<circle cx="479.30" cy="713.80" r="2.80" fill="#c9d1d1" stroke="#1a1a1a" stroke-width="0.8"/>
<text x="487.60" y="716.14" font-size="6.50" text-anchor="start" fill="#222" font-family="Liberation Sans" stroke="#222" stroke-width="0.12" >4</text>
<circle cx="479.30" cy="722.40" r="3.30" fill="#c9d1d1" stroke="#1a1a1a" stroke-width="0.8"/>
<text x="487.60" y="724.74" font-size="6.50" text-anchor="start" fill="#222" font-family="Liberation Sans" stroke="#222" stroke-width="0.12" >6</text>
<circle cx="479.30" cy="731.60" r="3.90" fill="#c9d1d1" stroke="#1a1a1a" stroke-width="0.8"/>
<text x="487.60" y="733.94" font-size="6.50" text-anchor="start" fill="#222" font-family="Liberation Sans" stroke="#222" stroke-width="0.12" >8</text>
<circle cx="479.30" cy="741.40" r="4.40" fill="#c9d1d1" stroke="#1a1a1a" stroke-width="0.8"/>
<text x="487.60" y="743.74" font-size="6.50" text-anchor="start" fill="#222" font-family="Liberation Sans" stroke="#222" stroke-width="0.12" >10</text>
<rect x="596.40" y="617.20" width="32.40" height="119.60" fill="#fff" stroke="none" stroke-width="0.5" />
<line x1="597.80" y1="617.20" x2="597.80" y2="736.80" stroke="#e3eaea" stroke-width="0.95" />
<line x1="608.30" y1="617.20" x2="608.30" y2="736.80" stroke="#e3eaea" stroke-width="0.95" />
<line x1="618.80" y1="617.20" x2="618.80" y2="736.80" stroke="#e3eaea" stroke-width="0.95" />
<line x1="603.05" y1="617.20" x2="603.05" y2="736.80" stroke="#e3eaea" stroke-width="0.5" />
<line x1="613.55" y1="617.20" x2="613.55" y2="736.80" stroke="#e3eaea" stroke-width="0.5" />
<line x1="624.00" y1="617.20" x2="624.00" y2="736.80" stroke="#e3eaea" stroke-width="0.5" />
<line x1="596.40" y1="624.40" x2="628.80" y2="624.40" stroke="#e3eaea" stroke-width="0.95" />
<line x1="596.40" y1="636.10" x2="628.80" y2="636.10" stroke="#e3eaea" stroke-width="0.95" />
<line x1="596.40" y1="647.70" x2="628.80" y2="647.70" stroke="#e3eaea" stroke-width="0.95" />
<line x1="596.40" y1="659.60" x2="628.80" y2="659.60" stroke="#e3eaea" stroke-width="0.95" />
<line x1="596.40" y1="671.20" x2="628.80" y2="671.20" stroke="#e3eaea" stroke-width="0.95" />
<line x1="596.40" y1="683.30" x2="628.80" y2="683.30" stroke="#e3eaea" stroke-width="0.95" />
<line x1="596.40" y1="695.50" x2="628.80" y2="695.50" stroke="#e3eaea" stroke-width="0.95" />
<line x1="596.40" y1="707.10" x2="628.80" y2="707.10" stroke="#e3eaea" stroke-width="0.95" />
<line x1="596.40" y1="718.40" x2="628.80" y2="718.40" stroke="#e3eaea" stroke-width="0.95" />
<line x1="596.40" y1="730.60" x2="628.80" y2="730.60" stroke="#e3eaea" stroke-width="0.95" />
<defs><clipPath id="cp17"><rect x="596.4" y="617.2" width="32.39999999999998" height="119.59999999999991"/></clipPath></defs>
<g clip-path="url(#cp17)">
<circle cx="614.00" cy="624.40" r="4.60" fill="#4a2a9a" stroke="none" stroke-width="0.5"/>
<circle cx="608.00" cy="636.10" r="4.10" fill="#f51419" stroke="none" stroke-width="0.5"/>
<circle cx="608.00" cy="647.70" r="4.10" fill="#a01e50" stroke="none" stroke-width="0.5"/>
<circle cx="608.00" cy="659.60" r="4.10" fill="#a01e50" stroke="none" stroke-width="0.5"/>
<circle cx="608.00" cy="671.20" r="4.10" fill="#a01e50" stroke="none" stroke-width="0.5"/>
<circle cx="608.00" cy="683.30" r="4.10" fill="#a01e50" stroke="none" stroke-width="0.5"/>
<circle cx="608.00" cy="695.50" r="4.10" fill="#0f37d2" stroke="none" stroke-width="0.5"/>
<circle cx="608.00" cy="707.10" r="4.10" fill="#0f37d2" stroke="none" stroke-width="0.5"/>
<circle cx="597.80" cy="718.40" r="1.60" fill="#a01e50" stroke="none" stroke-width="0.5"/>
<circle cx="597.80" cy="730.60" r="1.60" fill="#8a1e60" stroke="none" stroke-width="0.5"/>
</g>
<rect x="628.80" y="617.20" width="13.80" height="119.60" fill="#d5dddd" stroke="#222" stroke-width="0.8" />
<text x="635.70" y="677.00" font-size="7.20" text-anchor="middle" fill="#1a1a1a" font-family="Liberation Sans" transform="rotate(90 635.70 677.00)" dy="2.52">MF</text>
<rect x="596.40" y="617.20" width="32.40" height="119.60" fill="none" stroke="#000" stroke-width="1.3" />
<line x1="593.60" y1="624.50" x2="596.40" y2="624.50" stroke="#000" stroke-width="1.0" />
<text x="589.70" y="626.74" font-size="6.50" text-anchor="end" fill="#000" font-family="Liberation Sans" stroke="#000" stroke-width="0.12" >sulfur compound binding</text>
<line x1="593.60" y1="636.50" x2="596.40" y2="636.50" stroke="#000" stroke-width="1.0" />
<text x="589.70" y="638.44" font-size="6.50" text-anchor="end" fill="#000" font-family="Liberation Sans" stroke="#000" stroke-width="0.12" >glycosaminoglycan binding</text>
<line x1="593.60" y1="647.50" x2="596.40" y2="647.50" stroke="#000" stroke-width="1.0" />
<text x="589.70" y="650.04" font-size="6.50" text-anchor="end" fill="#000" font-family="Liberation Sans" stroke="#000" stroke-width="0.12" >serine hydrolase activity</text>
<line x1="593.60" y1="659.50" x2="596.40" y2="659.50" stroke="#000" stroke-width="1.0" />
<text x="589.70" y="658.64" font-size="6.50" text-anchor="end" fill="#000" font-family="Liberation Sans" stroke="#000" stroke-width="0.12" >serine−type peptidase</text>
<text x="589.70" y="665.24" font-size="6.50" text-anchor="end" fill="#000" font-family="Liberation Sans" stroke="#000" stroke-width="0.12" >activity</text>
<line x1="593.60" y1="671.50" x2="596.40" y2="671.50" stroke="#000" stroke-width="1.0" />
<text x="589.70" y="670.24" font-size="6.50" text-anchor="end" fill="#000" font-family="Liberation Sans" stroke="#000" stroke-width="0.12" >serine−type endopeptidase</text>
<text x="589.70" y="676.84" font-size="6.50" text-anchor="end" fill="#000" font-family="Liberation Sans" stroke="#000" stroke-width="0.12" >activity</text>
<line x1="593.60" y1="683.50" x2="596.40" y2="683.50" stroke="#000" stroke-width="1.0" />
<text x="589.70" y="685.64" font-size="6.50" text-anchor="end" fill="#000" font-family="Liberation Sans" stroke="#000" stroke-width="0.12" >heparin binding</text>
<line x1="593.60" y1="695.50" x2="596.40" y2="695.50" stroke="#000" stroke-width="1.0" />
<text x="589.70" y="694.54" font-size="6.50" text-anchor="end" fill="#000" font-family="Liberation Sans" stroke="#000" stroke-width="0.12" >calcium−dependent protein</text>
<text x="589.70" y="701.14" font-size="6.50" text-anchor="end" fill="#000" font-family="Liberation Sans" stroke="#000" stroke-width="0.12" >binding</text>
<line x1="593.60" y1="707.50" x2="596.40" y2="707.50" stroke="#000" stroke-width="1.0" />
<text x="589.70" y="709.44" font-size="6.50" text-anchor="end" fill="#000" font-family="Liberation Sans" stroke="#000" stroke-width="0.12" >antioxidant activity</text>
<line x1="593.60" y1="718.50" x2="596.40" y2="718.50" stroke="#000" stroke-width="1.0" />
<text x="589.70" y="717.44" font-size="6.50" text-anchor="end" fill="#000" font-family="Liberation Sans" stroke="#000" stroke-width="0.12" >Toll−like receptor</text>
<text x="589.70" y="724.04" font-size="6.50" text-anchor="end" fill="#000" font-family="Liberation Sans" stroke="#000" stroke-width="0.12" >binding</text>
<line x1="593.60" y1="730.50" x2="596.40" y2="730.50" stroke="#000" stroke-width="1.0" />
<text x="589.70" y="732.94" font-size="6.50" text-anchor="end" fill="#000" font-family="Liberation Sans" stroke="#000" stroke-width="0.12" >RAGE receptor binding</text>
<rect x="596.40" y="740.60" width="32.40" height="25.90" fill="#fff" stroke="none" stroke-width="0.5" />
<line x1="597.80" y1="740.60" x2="597.80" y2="766.50" stroke="#e3eaea" stroke-width="0.95" />
<line x1="608.30" y1="740.60" x2="608.30" y2="766.50" stroke="#e3eaea" stroke-width="0.95" />
<line x1="618.80" y1="740.60" x2="618.80" y2="766.50" stroke="#e3eaea" stroke-width="0.95" />
<line x1="603.05" y1="740.60" x2="603.05" y2="766.50" stroke="#e3eaea" stroke-width="0.5" />
<line x1="613.55" y1="740.60" x2="613.55" y2="766.50" stroke="#e3eaea" stroke-width="0.5" />
<line x1="624.00" y1="740.60" x2="624.00" y2="766.50" stroke="#e3eaea" stroke-width="0.5" />
<line x1="596.40" y1="748.10" x2="628.80" y2="748.10" stroke="#e3eaea" stroke-width="0.95" />
<line x1="596.40" y1="760.30" x2="628.80" y2="760.30" stroke="#e3eaea" stroke-width="0.95" />
<defs><clipPath id="cp18"><rect x="596.4" y="740.6" width="32.39999999999998" height="25.899999999999977"/></clipPath></defs>
<g clip-path="url(#cp18)">
<circle cx="626.60" cy="748.10" r="4.80" fill="#0f37d2" stroke="none" stroke-width="0.5"/>
<circle cx="614.00" cy="760.30" r="4.10" fill="#f51419" stroke="none" stroke-width="0.5"/>
</g>
<rect x="628.80" y="740.60" width="13.80" height="25.90" fill="#d5dddd" stroke="#222" stroke-width="0.8" />
<text x="635.70" y="753.55" font-size="7.20" text-anchor="middle" fill="#1a1a1a" font-family="Liberation Sans" transform="rotate(90 635.70 753.55)" dy="2.52">KEGG</text>
<rect x="596.40" y="740.60" width="32.40" height="25.90" fill="none" stroke="#000" stroke-width="1.3" />
<line x1="593.60" y1="748.50" x2="596.40" y2="748.50" stroke="#000" stroke-width="1.0" />
<text x="589.70" y="747.14" font-size="6.50" text-anchor="end" fill="#000" font-family="Liberation Sans" stroke="#000" stroke-width="0.12" >Neutrophil extracellular</text>
<text x="589.70" y="753.74" font-size="6.50" text-anchor="end" fill="#000" font-family="Liberation Sans" stroke="#000" stroke-width="0.12" >trap formation</text>
<line x1="593.60" y1="760.50" x2="596.40" y2="760.50" stroke="#000" stroke-width="1.0" />
<text x="589.70" y="762.64" font-size="6.50" text-anchor="end" fill="#000" font-family="Liberation Sans" stroke="#000" stroke-width="0.12" >IL−17 signaling pathway</text>
<line x1="597.50" y1="766.50" x2="597.50" y2="769.30" stroke="#000" stroke-width="1.0" />
<text x="597.80" y="777.00" font-size="6.30" text-anchor="middle" fill="#222" font-family="Liberation Sans" stroke="#222" stroke-width="0.12" >0.1</text>
<line x1="608.50" y1="766.50" x2="608.50" y2="769.30" stroke="#000" stroke-width="1.0" />
<text x="608.30" y="777.00" font-size="6.30" text-anchor="middle" fill="#222" font-family="Liberation Sans" stroke="#222" stroke-width="0.12" >0.2</text>
<line x1="618.50" y1="766.50" x2="618.50" y2="769.30" stroke="#000" stroke-width="1.0" />
<text x="618.80" y="777.00" font-size="6.30" text-anchor="middle" fill="#222" font-family="Liberation Sans" stroke="#222" stroke-width="0.12" >0.3</text>
<text x="612.00" y="786.50" font-size="7.65" text-anchor="middle" fill="#1a1a1a" font-family="Liberation Sans" stroke="#1a1a1a" stroke-width="0.12" >GeneRatio</text>
<text x="647.20" y="640.10" font-size="6.50" text-anchor="start" fill="#1a1a1a" font-family="Liberation Sans" stroke="#1a1a1a" stroke-width="0.12" >P adj</text>
<defs><linearGradient id="g19" x1="0" y1="0" x2="0" y2="1"><stop offset="0" stop-color="#ff050a"/><stop offset="0.25" stop-color="#c81432"/><stop offset="0.5" stop-color="#8c1964"/><stop offset="0.75" stop-color="#5a2396"/><stop offset="1" stop-color="#192ddc"/></linearGradient></defs>
<rect x="647.20" y="643.60" width="8.90" height="43.80" fill="url(#g19)" stroke="none" stroke-width="0.5" />
<line x1="647.20" y1="655.00" x2="648.80" y2="655.00" stroke="#fff" stroke-width="0.5" />
<line x1="654.50" y1="655.00" x2="656.10" y2="655.00" stroke="#fff" stroke-width="0.5" />
<line x1="647.20" y1="666.60" x2="648.80" y2="666.60" stroke="#fff" stroke-width="0.5" />
<line x1="654.50" y1="666.60" x2="656.10" y2="666.60" stroke="#fff" stroke-width="0.5" />
<line x1="647.20" y1="679.30" x2="648.80" y2="679.30" stroke="#fff" stroke-width="0.5" />
<line x1="654.50" y1="679.30" x2="656.10" y2="679.30" stroke="#fff" stroke-width="0.5" />
<text x="659.30" y="657.34" font-size="6.50" text-anchor="start" fill="#222" font-family="Liberation Sans" stroke="#222" stroke-width="0.12" >0.00075</text>
<text x="659.30" y="668.94" font-size="6.50" text-anchor="start" fill="#222" font-family="Liberation Sans" stroke="#222" stroke-width="0.12" >0.00050</text>
<text x="659.30" y="681.64" font-size="6.50" text-anchor="start" fill="#222" font-family="Liberation Sans" stroke="#222" stroke-width="0.12" >0.00025</text>
<text x="647.20" y="698.20" font-size="6.50" text-anchor="start" fill="#1a1a1a" font-family="Liberation Sans" stroke="#1a1a1a" stroke-width="0.12" >Counts</text>
<circle cx="652.60" cy="705.70" r="1.00" fill="#c9d1d1" stroke="#1a1a1a" stroke-width="0.8"/>
<text x="661.50" y="708.04" font-size="6.50" text-anchor="start" fill="#222" font-family="Liberation Sans" stroke="#222" stroke-width="0.12" >2</text>
<circle cx="652.60" cy="714.60" r="2.80" fill="#c9d1d1" stroke="#1a1a1a" stroke-width="0.8"/>
<text x="661.50" y="716.94" font-size="6.50" text-anchor="start" fill="#222" font-family="Liberation Sans" stroke="#222" stroke-width="0.12" >3</text>
<circle cx="652.60" cy="723.30" r="3.30" fill="#c9d1d1" stroke="#1a1a1a" stroke-width="0.8"/>
<text x="661.50" y="725.64" font-size="6.50" text-anchor="start" fill="#222" font-family="Liberation Sans" stroke="#222" stroke-width="0.12" >4</text>
<circle cx="652.60" cy="732.50" r="3.80" fill="#c9d1d1" stroke="#1a1a1a" stroke-width="0.8"/>
<text x="661.50" y="734.84" font-size="6.50" text-anchor="start" fill="#222" font-family="Liberation Sans" stroke="#222" stroke-width="0.12" >5</text>
<circle cx="652.60" cy="742.70" r="4.30" fill="#c9d1d1" stroke="#1a1a1a" stroke-width="0.8"/>
<text x="661.50" y="745.04" font-size="6.50" text-anchor="start" fill="#222" font-family="Liberation Sans" stroke="#222" stroke-width="0.12" >6</text>
<text x="86.40" y="828.50" font-size="16.80" text-anchor="start" fill="#000" font-family="Liberation Sans" >H</text>
<rect x="112.30" y="819.20" width="552.60" height="8.40" fill="#d8f532" stroke="none" stroke-width="0.5" />
<rect x="164.00" y="843.30" width="41.50" height="133.70" fill="#fff" stroke="none" stroke-width="0.5" />
<line x1="165.80" y1="843.30" x2="165.80" y2="977.00" stroke="#e3eaea" stroke-width="0.95" />
<line x1="175.30" y1="843.30" x2="175.30" y2="977.00" stroke="#e3eaea" stroke-width="0.95" />
<line x1="184.80" y1="843.30" x2="184.80" y2="977.00" stroke="#e3eaea" stroke-width="0.95" />
<line x1="194.30" y1="843.30" x2="194.30" y2="977.00" stroke="#e3eaea" stroke-width="0.95" />
<line x1="203.80" y1="843.30" x2="203.80" y2="977.00" stroke="#e3eaea" stroke-width="0.95" />
<line x1="170.55" y1="843.30" x2="170.55" y2="977.00" stroke="#e3eaea" stroke-width="0.5" />
<line x1="180.05" y1="843.30" x2="180.05" y2="977.00" stroke="#e3eaea" stroke-width="0.5" />
<line x1="189.55" y1="843.30" x2="189.55" y2="977.00" stroke="#e3eaea" stroke-width="0.5" />
<line x1="199.05" y1="843.30" x2="199.05" y2="977.00" stroke="#e3eaea" stroke-width="0.5" />
<line x1="164.00" y1="859.00" x2="205.50" y2="859.00" stroke="#e3eaea" stroke-width="0.95" />
<line x1="164.00" y1="884.70" x2="205.50" y2="884.70" stroke="#e3eaea" stroke-width="0.95" />
<line x1="164.00" y1="910.30" x2="205.50" y2="910.30" stroke="#e3eaea" stroke-width="0.95" />
<line x1="164.00" y1="936.50" x2="205.50" y2="936.50" stroke="#e3eaea" stroke-width="0.95" />
<line x1="164.00" y1="962.30" x2="205.50" y2="962.30" stroke="#e3eaea" stroke-width="0.95" />
<defs><clipPath id="cp20"><rect x="164.0" y="843.3" width="41.5" height="133.70000000000005"/></clipPath></defs>
<g clip-path="url(#cp20)">
<circle cx="203.50" cy="859.00" r="4.30" fill="#0f37d2" stroke="none" stroke-width="0.5"/>
<circle cx="203.50" cy="884.70" r="4.30" fill="#0f37d2" stroke="none" stroke-width="0.5"/>
<circle cx="165.80" cy="910.30" r="1.70" fill="#f51419" stroke="none" stroke-width="0.5"/>
<circle cx="165.80" cy="936.50" r="1.70" fill="#f51419" stroke="none" stroke-width="0.5"/>
<circle cx="165.80" cy="962.30" r="1.70" fill="#f51419" stroke="none" stroke-width="0.5"/>
</g>
<rect x="205.50" y="843.30" width="12.80" height="133.70" fill="#d5dddd" stroke="#222" stroke-width="0.8" />
<text x="211.90" y="910.15" font-size="7.00" text-anchor="middle" fill="#1a1a1a" font-family="Liberation Sans" transform="rotate(90 211.90 910.15)" dy="2.45">BP</text>
<rect x="164.00" y="843.30" width="41.50" height="133.70" fill="none" stroke="#000" stroke-width="1.3" />
<line x1="161.20" y1="859.50" x2="164.00" y2="859.50" stroke="#000" stroke-width="1.0" />
<text x="158.20" y="858.13" font-size="5.85" text-anchor="end" fill="#000" font-family="Liberation Sans" stroke="#000" stroke-width="0.12" >anatomical structure</text>
<text x="158.20" y="864.08" font-size="5.85" text-anchor="end" fill="#000" font-family="Liberation Sans" stroke="#000" stroke-width="0.12" >homeostasis</text>
<line x1="161.20" y1="884.50" x2="164.00" y2="884.50" stroke="#000" stroke-width="1.0" />
<text x="158.20" y="886.81" font-size="5.85" text-anchor="end" fill="#000" font-family="Liberation Sans" stroke="#000" stroke-width="0.12" >tissue homeostasis</text>
<line x1="161.20" y1="910.50" x2="164.00" y2="910.50" stroke="#000" stroke-width="1.0" />
<text x="158.20" y="903.48" font-size="5.85" text-anchor="end" fill="#000" font-family="Liberation Sans" stroke="#000" stroke-width="0.12" >neurotransmitter receptor</text>
<text x="158.20" y="909.43" font-size="5.85" text-anchor="end" fill="#000" font-family="Liberation Sans" stroke="#000" stroke-width="0.12" >transport,</text>
<text x="158.20" y="915.38" font-size="5.85" text-anchor="end" fill="#000" font-family="Liberation Sans" stroke="#000" stroke-width="0.12" >endosome to postsynaptic</text>
<text x="158.20" y="921.33" font-size="5.85" text-anchor="end" fill="#000" font-family="Liberation Sans" stroke="#000" stroke-width="0.12" >membrane</text>
<line x1="161.20" y1="936.50" x2="164.00" y2="936.50" stroke="#000" stroke-width="1.0" />
<text x="158.20" y="935.63" font-size="5.85" text-anchor="end" fill="#000" font-family="Liberation Sans" stroke="#000" stroke-width="0.12" >regulation of vesicle</text>
<text x="158.20" y="941.58" font-size="5.85" text-anchor="end" fill="#000" font-family="Liberation Sans" stroke="#000" stroke-width="0.12" >size</text>
<line x1="161.20" y1="962.50" x2="164.00" y2="962.50" stroke="#000" stroke-width="1.0" />
<text x="158.20" y="961.43" font-size="5.85" text-anchor="end" fill="#000" font-family="Liberation Sans" stroke="#000" stroke-width="0.12" >astral microtubule</text>
<text x="158.20" y="967.38" font-size="5.85" text-anchor="end" fill="#000" font-family="Liberation Sans" stroke="#000" stroke-width="0.12" >organization</text>
<line x1="165.50" y1="977.00" x2="165.50" y2="979.80" stroke="#000" stroke-width="1.0" />
<text x="165.80" y="987.70" font-size="6.10" text-anchor="middle" fill="#222" font-family="Liberation Sans" stroke="#222" stroke-width="0.12" >0.2</text>
<line x1="175.50" y1="977.00" x2="175.50" y2="979.80" stroke="#000" stroke-width="1.0" />
<text x="175.30" y="987.70" font-size="6.10" text-anchor="middle" fill="#222" font-family="Liberation Sans" stroke="#222" stroke-width="0.12" >0.3</text>
<line x1="184.50" y1="977.00" x2="184.50" y2="979.80" stroke="#000" stroke-width="1.0" />
<text x="184.80" y="987.70" font-size="6.10" text-anchor="middle" fill="#222" font-family="Liberation Sans" stroke="#222" stroke-width="0.12" >0.4</text>
<line x1="194.50" y1="977.00" x2="194.50" y2="979.80" stroke="#000" stroke-width="1.0" />
<text x="194.30" y="987.70" font-size="6.10" text-anchor="middle" fill="#222" font-family="Liberation Sans" stroke="#222" stroke-width="0.12" >0.5</text>
<line x1="203.50" y1="977.00" x2="203.50" y2="979.80" stroke="#000" stroke-width="1.0" />
<text x="203.80" y="987.70" font-size="6.10" text-anchor="middle" fill="#222" font-family="Liberation Sans" stroke="#222" stroke-width="0.12" >0.6</text>
<text x="184.70" y="996.40" font-size="7.10" text-anchor="middle" fill="#1a1a1a" font-family="Liberation Sans" stroke="#1a1a1a" stroke-width="0.12" >GeneRatio</text>
<text x="222.00" y="864.50" font-size="5.80" text-anchor="start" fill="#1a1a1a" font-family="Liberation Sans" stroke="#1a1a1a" stroke-width="0.12" >P adj</text>
<defs><linearGradient id="g21" x1="0" y1="0" x2="0" y2="1"><stop offset="0" stop-color="#ff050a"/><stop offset="0.25" stop-color="#c81432"/><stop offset="0.5" stop-color="#8c1964"/><stop offset="0.75" stop-color="#5a2396"/><stop offset="1" stop-color="#192ddc"/></linearGradient></defs>
<rect x="222.00" y="867.10" width="7.90" height="39.40" fill="url(#g21)" stroke="none" stroke-width="0.5" />
<line x1="222.00" y1="868.00" x2="223.60" y2="868.00" stroke="#fff" stroke-width="0.5" />
<line x1="228.30" y1="868.00" x2="229.90" y2="868.00" stroke="#fff" stroke-width="0.5" />
<line x1="222.00" y1="878.20" x2="223.60" y2="878.20" stroke="#fff" stroke-width="0.5" />
<line x1="228.30" y1="878.20" x2="229.90" y2="878.20" stroke="#fff" stroke-width="0.5" />
<line x1="222.00" y1="888.40" x2="223.60" y2="888.40" stroke="#fff" stroke-width="0.5" />
<line x1="228.30" y1="888.40" x2="229.90" y2="888.40" stroke="#fff" stroke-width="0.5" />
<line x1="222.00" y1="899.20" x2="223.60" y2="899.20" stroke="#fff" stroke-width="0.5" />
<line x1="228.30" y1="899.20" x2="229.90" y2="899.20" stroke="#fff" stroke-width="0.5" />
<text x="232.80" y="870.09" font-size="5.80" text-anchor="start" fill="#222" font-family="Liberation Sans" stroke="#222" stroke-width="0.12" >0.04</text>
<text x="232.80" y="880.29" font-size="5.80" text-anchor="start" fill="#222" font-family="Liberation Sans" stroke="#222" stroke-width="0.12" >0.03</text>
<text x="232.80" y="890.49" font-size="5.80" text-anchor="start" fill="#222" font-family="Liberation Sans" stroke="#222" stroke-width="0.12" >0.02</text>
<text x="232.80" y="901.29" font-size="5.80" text-anchor="start" fill="#222" font-family="Liberation Sans" stroke="#222" stroke-width="0.12" >0.01</text>
<text x="222.00" y="916.70" font-size="5.80" text-anchor="start" fill="#1a1a1a" font-family="Liberation Sans" stroke="#1a1a1a" stroke-width="0.12" >Counts</text>
<circle cx="226.40" cy="922.80" r="1.00" fill="#c9d1d1" stroke="#1a1a1a" stroke-width="0.8"/>
<text x="234.60" y="924.89" font-size="5.80" text-anchor="start" fill="#222" font-family="Liberation Sans" stroke="#222" stroke-width="0.12" >1.0</text>
<circle cx="226.40" cy="930.70" r="2.70" fill="#c9d1d1" stroke="#1a1a1a" stroke-width="0.8"/>
<text x="234.60" y="932.79" font-size="5.80" text-anchor="start" fill="#222" font-family="Liberation Sans" stroke="#222" stroke-width="0.12" >1.5</text>
<circle cx="226.40" cy="938.60" r="3.20" fill="#c9d1d1" stroke="#1a1a1a" stroke-width="0.8"/>
<text x="234.60" y="940.69" font-size="5.80" text-anchor="start" fill="#222" font-family="Liberation Sans" stroke="#222" stroke-width="0.12" >2.0</text>
<circle cx="226.40" cy="946.80" r="3.70" fill="#c9d1d1" stroke="#1a1a1a" stroke-width="0.8"/>
<text x="234.60" y="948.89" font-size="5.80" text-anchor="start" fill="#222" font-family="Liberation Sans" stroke="#222" stroke-width="0.12" >2.5</text>
<circle cx="226.40" cy="956.10" r="4.10" fill="#c9d1d1" stroke="#1a1a1a" stroke-width="0.8"/>
<text x="234.60" y="958.19" font-size="5.80" text-anchor="start" fill="#222" font-family="Liberation Sans" stroke="#222" stroke-width="0.12" >3.0</text>
<rect x="341.60" y="843.30" width="77.10" height="134.40" fill="#fff" stroke="none" stroke-width="0.5" />
<line x1="343.80" y1="843.30" x2="343.80" y2="977.70" stroke="#e3eaea" stroke-width="0.95" />
<line x1="351.60" y1="843.30" x2="351.60" y2="977.70" stroke="#e3eaea" stroke-width="0.5" />
<line x1="359.40" y1="843.30" x2="359.40" y2="977.70" stroke="#e3eaea" stroke-width="0.95" />
<line x1="367.20" y1="843.30" x2="367.20" y2="977.70" stroke="#e3eaea" stroke-width="0.5" />
<line x1="375.00" y1="843.30" x2="375.00" y2="977.70" stroke="#e3eaea" stroke-width="0.95" />
<line x1="382.80" y1="843.30" x2="382.80" y2="977.70" stroke="#e3eaea" stroke-width="0.5" />
<line x1="390.60" y1="843.30" x2="390.60" y2="977.70" stroke="#e3eaea" stroke-width="0.95" />
<line x1="398.40" y1="843.30" x2="398.40" y2="977.70" stroke="#e3eaea" stroke-width="0.5" />
<line x1="406.20" y1="843.30" x2="406.20" y2="977.70" stroke="#e3eaea" stroke-width="0.95" />
<line x1="414.00" y1="843.30" x2="414.00" y2="977.70" stroke="#e3eaea" stroke-width="0.5" />
<line x1="341.60" y1="852.40" x2="418.70" y2="852.40" stroke="#e3eaea" stroke-width="0.95" />
<line x1="341.60" y1="867.02" x2="418.70" y2="867.02" stroke="#e3eaea" stroke-width="0.95" />
<line x1="341.60" y1="881.65" x2="418.70" y2="881.65" stroke="#e3eaea" stroke-width="0.95" />
<line x1="341.60" y1="896.27" x2="418.70" y2="896.27" stroke="#e3eaea" stroke-width="0.95" />
<line x1="341.60" y1="910.90" x2="418.70" y2="910.90" stroke="#e3eaea" stroke-width="0.95" />
<line x1="341.60" y1="925.52" x2="418.70" y2="925.52" stroke="#e3eaea" stroke-width="0.95" />
<line x1="341.60" y1="940.15" x2="418.70" y2="940.15" stroke="#e3eaea" stroke-width="0.95" />
<line x1="341.60" y1="954.77" x2="418.70" y2="954.77" stroke="#e3eaea" stroke-width="0.95" />
<line x1="341.60" y1="969.40" x2="418.70" y2="969.40" stroke="#e3eaea" stroke-width="0.95" />
<defs><clipPath id="cp22"><rect x="341.6" y="843.3" width="77.09999999999997" height="134.4000000000001"/></clipPath></defs>
<g clip-path="url(#cp22)">
<circle cx="380.10" cy="852.40" r="3.60" fill="#f01818" stroke="none" stroke-width="0.5"/>
<circle cx="380.10" cy="867.02" r="3.60" fill="#b41c3c" stroke="none" stroke-width="0.5"/>
<circle cx="380.10" cy="881.65" r="3.60" fill="#b41c3c" stroke="none" stroke-width="0.5"/>
<circle cx="380.10" cy="896.27" r="3.60" fill="#b41c3c" stroke="none" stroke-width="0.5"/>
<circle cx="380.10" cy="910.90" r="3.60" fill="#b41c3c" stroke="none" stroke-width="0.5"/>
<circle cx="380.10" cy="925.52" r="3.60" fill="#b41c3c" stroke="none" stroke-width="0.5"/>
<circle cx="380.10" cy="940.15" r="3.60" fill="#b41c3c" stroke="none" stroke-width="0.5"/>
<circle cx="380.10" cy="954.77" r="3.60" fill="#0f37d2" stroke="none" stroke-width="0.5"/>
<circle cx="380.10" cy="969.40" r="3.60" fill="#0f37d2" stroke="none" stroke-width="0.5"/>
</g>
<rect x="418.70" y="843.30" width="12.80" height="134.40" fill="#d5dddd" stroke="#222" stroke-width="0.8" />
<text x="425.10" y="910.50" font-size="7.00" text-anchor="middle" fill="#1a1a1a" font-family="Liberation Sans" transform="rotate(90 425.10 910.50)" dy="2.45">CC</text>
<rect x="341.60" y="843.30" width="77.10" height="134.40" fill="none" stroke="#000" stroke-width="1.3" />
<line x1="338.80" y1="852.50" x2="341.60" y2="852.50" stroke="#000" stroke-width="1.0" />
<text x="336.10" y="854.51" font-size="5.85" text-anchor="end" fill="#000" font-family="Liberation Sans" stroke="#000" stroke-width="0.12" >phagocytic vesicle</text>
<line x1="338.80" y1="867.50" x2="341.60" y2="867.50" stroke="#000" stroke-width="1.0" />
<text x="336.10" y="869.13" font-size="5.85" text-anchor="end" fill="#000" font-family="Liberation Sans" stroke="#000" stroke-width="0.12" >centriolar satellite</text>
<line x1="338.80" y1="881.50" x2="341.60" y2="881.50" stroke="#000" stroke-width="1.0" />
<text x="336.10" y="883.76" font-size="5.85" text-anchor="end" fill="#000" font-family="Liberation Sans" stroke="#000" stroke-width="0.12" >recycling endosome membrane</text>
<line x1="338.80" y1="896.50" x2="341.60" y2="896.50" stroke="#000" stroke-width="1.0" />
<text x="336.10" y="898.38" font-size="5.85" text-anchor="end" fill="#000" font-family="Liberation Sans" stroke="#000" stroke-width="0.12" >spindle microtubule</text>
<line x1="338.80" y1="910.50" x2="341.60" y2="910.50" stroke="#000" stroke-width="1.0" />
<text x="336.10" y="913.01" font-size="5.85" text-anchor="end" fill="#000" font-family="Liberation Sans" stroke="#000" stroke-width="0.12" >cell division site</text>
<line x1="338.80" y1="925.50" x2="341.60" y2="925.50" stroke="#000" stroke-width="1.0" />
<text x="336.10" y="927.63" font-size="5.85" text-anchor="end" fill="#000" font-family="Liberation Sans" stroke="#000" stroke-width="0.12" >multivesicular body</text>
<line x1="338.80" y1="940.50" x2="341.60" y2="940.50" stroke="#000" stroke-width="1.0" />
<text x="336.10" y="942.26" font-size="5.85" text-anchor="end" fill="#000" font-family="Liberation Sans" stroke="#000" stroke-width="0.12" >cleavage furrow</text>
<line x1="338.80" y1="954.50" x2="341.60" y2="954.50" stroke="#000" stroke-width="1.0" />
<text x="336.10" y="956.88" font-size="5.85" text-anchor="end" fill="#000" font-family="Liberation Sans" stroke="#000" stroke-width="0.12" >kinetochore microtubule</text>
<line x1="338.80" y1="969.50" x2="341.60" y2="969.50" stroke="#000" stroke-width="1.0" />
<text x="336.10" y="971.51" font-size="5.85" text-anchor="end" fill="#000" font-family="Liberation Sans" stroke="#000" stroke-width="0.12" >postsynaptic endosome</text>
<line x1="343.50" y1="977.70" x2="343.50" y2="980.50" stroke="#000" stroke-width="1.0" />
<text x="343.80" y="988.30" font-size="6.10" text-anchor="middle" fill="#222" font-family="Liberation Sans" stroke="#222" stroke-width="0.12" >0.12</text>
<line x1="359.50" y1="977.70" x2="359.50" y2="980.50" stroke="#000" stroke-width="1.0" />
<text x="359.40" y="988.30" font-size="6.10" text-anchor="middle" fill="#222" font-family="Liberation Sans" stroke="#222" stroke-width="0.12" >0.14</text>
<line x1="375.50" y1="977.70" x2="375.50" y2="980.50" stroke="#000" stroke-width="1.0" />
<text x="375.00" y="988.30" font-size="6.10" text-anchor="middle" fill="#222" font-family="Liberation Sans" stroke="#222" stroke-width="0.12" >0.16</text>
<line x1="390.50" y1="977.70" x2="390.50" y2="980.50" stroke="#000" stroke-width="1.0" />
<text x="390.60" y="988.30" font-size="6.10" text-anchor="middle" fill="#222" font-family="Liberation Sans" stroke="#222" stroke-width="0.12" >0.18</text>
<line x1="406.50" y1="977.70" x2="406.50" y2="980.50" stroke="#000" stroke-width="1.0" />
<text x="406.20" y="988.30" font-size="6.10" text-anchor="middle" fill="#222" font-family="Liberation Sans" stroke="#222" stroke-width="0.12" >0.20</text>
<text x="380.00" y="997.00" font-size="7.10" text-anchor="middle" fill="#1a1a1a" font-family="Liberation Sans" stroke="#1a1a1a" stroke-width="0.12" >GeneRatio</text>
<text x="435.60" y="881.40" font-size="5.80" text-anchor="start" fill="#1a1a1a" font-family="Liberation Sans" stroke="#1a1a1a" stroke-width="0.12" >P adj</text>
<defs><linearGradient id="g23" x1="0" y1="0" x2="0" y2="1"><stop offset="0" stop-color="#ff050a"/><stop offset="0.25" stop-color="#c81432"/><stop offset="0.5" stop-color="#8c1964"/><stop offset="0.75" stop-color="#5a2396"/><stop offset="1" stop-color="#192ddc"/></linearGradient></defs>
<rect x="435.60" y="884.00" width="8.00" height="39.80" fill="url(#g23)" stroke="none" stroke-width="0.5" />
<line x1="435.60" y1="891.00" x2="437.20" y2="891.00" stroke="#fff" stroke-width="0.5" />
<line x1="442.00" y1="891.00" x2="443.60" y2="891.00" stroke="#fff" stroke-width="0.5" />
<line x1="435.60" y1="901.30" x2="437.20" y2="901.30" stroke="#fff" stroke-width="0.5" />
<line x1="442.00" y1="901.30" x2="443.60" y2="901.30" stroke="#fff" stroke-width="0.5" />
<line x1="435.60" y1="911.90" x2="437.20" y2="911.90" stroke="#fff" stroke-width="0.5" />
<line x1="442.00" y1="911.90" x2="443.60" y2="911.90" stroke="#fff" stroke-width="0.5" />
<line x1="435.60" y1="922.20" x2="437.20" y2="922.20" stroke="#fff" stroke-width="0.5" />
<line x1="442.00" y1="922.20" x2="443.60" y2="922.20" stroke="#fff" stroke-width="0.5" />
<text x="445.20" y="893.09" font-size="5.80" text-anchor="start" fill="#222" font-family="Liberation Sans" stroke="#222" stroke-width="0.12" >0.09</text>
<text x="445.20" y="903.39" font-size="5.80" text-anchor="start" fill="#222" font-family="Liberation Sans" stroke="#222" stroke-width="0.12" >0.08</text>
<text x="445.20" y="913.99" font-size="5.80" text-anchor="start" fill="#222" font-family="Liberation Sans" stroke="#222" stroke-width="0.12" >0.07</text>
<text x="445.20" y="924.29" font-size="5.80" text-anchor="start" fill="#222" font-family="Liberation Sans" stroke="#222" stroke-width="0.12" >0.06</text>
<text x="435.60" y="933.40" font-size="5.80" text-anchor="start" fill="#1a1a1a" font-family="Liberation Sans" stroke="#1a1a1a" stroke-width="0.12" >Counts</text>
<circle cx="439.50" cy="939.80" r="3.40" fill="#c9d1d1" stroke="#1a1a1a" stroke-width="0.8"/>
<text x="446.50" y="941.89" font-size="5.80" text-anchor="start" fill="#222" font-family="Liberation Sans" stroke="#222" stroke-width="0.12" >1</text>
<rect x="586.30" y="843.50" width="46.90" height="105.60" fill="#fff" stroke="none" stroke-width="0.5" />
<line x1="592.20" y1="843.50" x2="592.20" y2="949.10" stroke="#e3eaea" stroke-width="0.95" />
<line x1="605.20" y1="843.50" x2="605.20" y2="949.10" stroke="#e3eaea" stroke-width="0.95" />
<line x1="618.20" y1="843.50" x2="618.20" y2="949.10" stroke="#e3eaea" stroke-width="0.95" />
<line x1="631.20" y1="843.50" x2="631.20" y2="949.10" stroke="#e3eaea" stroke-width="0.95" />
<line x1="598.70" y1="843.50" x2="598.70" y2="949.10" stroke="#e3eaea" stroke-width="0.5" />
<line x1="611.70" y1="843.50" x2="611.70" y2="949.10" stroke="#e3eaea" stroke-width="0.5" />
<line x1="624.70" y1="843.50" x2="624.70" y2="949.10" stroke="#e3eaea" stroke-width="0.5" />
<line x1="586.30" y1="850.40" x2="633.20" y2="850.40" stroke="#e3eaea" stroke-width="0.95" />
<line x1="586.30" y1="861.95" x2="633.20" y2="861.95" stroke="#e3eaea" stroke-width="0.95" />
<line x1="586.30" y1="873.50" x2="633.20" y2="873.50" stroke="#e3eaea" stroke-width="0.95" />
<line x1="586.30" y1="885.05" x2="633.20" y2="885.05" stroke="#e3eaea" stroke-width="0.95" />
<line x1="586.30" y1="896.60" x2="633.20" y2="896.60" stroke="#e3eaea" stroke-width="0.95" />
<line x1="586.30" y1="908.15" x2="633.20" y2="908.15" stroke="#e3eaea" stroke-width="0.95" />
<line x1="586.30" y1="919.70" x2="633.20" y2="919.70" stroke="#e3eaea" stroke-width="0.95" />
<line x1="586.30" y1="931.25" x2="633.20" y2="931.25" stroke="#e3eaea" stroke-width="0.95" />
<line x1="586.30" y1="942.80" x2="633.20" y2="942.80" stroke="#e3eaea" stroke-width="0.95" />
<defs><clipPath id="cp24"><rect x="586.3" y="843.5" width="46.90000000000009" height="105.60000000000002"/></clipPath></defs>
<g clip-path="url(#cp24)">
<circle cx="589.20" cy="850.40" r="3.40" fill="#f51419" stroke="none" stroke-width="0.5"/>
<circle cx="589.20" cy="861.95" r="3.40" fill="#f51419" stroke="none" stroke-width="0.5"/>
<circle cx="589.20" cy="873.50" r="3.40" fill="#b01e50" stroke="none" stroke-width="0.5"/>
<circle cx="589.20" cy="885.05" r="3.40" fill="#b01e50" stroke="none" stroke-width="0.5"/>
<circle cx="589.20" cy="896.60" r="3.40" fill="#4a2aa6" stroke="none" stroke-width="0.5"/>
<circle cx="589.20" cy="908.15" r="3.40" fill="#4a2aa6" stroke="none" stroke-width="0.5"/>
<circle cx="589.20" cy="919.70" r="3.40" fill="#4a2aa6" stroke="none" stroke-width="0.5"/>
<circle cx="589.20" cy="931.25" r="3.40" fill="#4a2aa6" stroke="none" stroke-width="0.5"/>
<circle cx="589.20" cy="942.80" r="3.40" fill="#4a2aa6" stroke="none" stroke-width="0.5"/>
</g>
<rect x="633.20" y="843.50" width="13.20" height="105.60" fill="#d5dddd" stroke="#222" stroke-width="0.8" />
<text x="639.80" y="896.30" font-size="7.00" text-anchor="middle" fill="#1a1a1a" font-family="Liberation Sans" transform="rotate(90 639.80 896.30)" dy="2.45">MF</text>
<rect x="586.30" y="843.50" width="46.90" height="105.60" fill="none" stroke="#000" stroke-width="1.3" />
<line x1="583.50" y1="850.50" x2="586.30" y2="850.50" stroke="#000" stroke-width="1.0" />
<text x="580.90" y="852.51" font-size="5.85" text-anchor="end" fill="#000" font-family="Liberation Sans" stroke="#000" stroke-width="0.12" >ribonuclease activity</text>
<line x1="583.50" y1="861.50" x2="586.30" y2="861.50" stroke="#000" stroke-width="1.0" />
<text x="580.90" y="864.06" font-size="5.85" text-anchor="end" fill="#000" font-family="Liberation Sans" stroke="#000" stroke-width="0.12" >SNARE binding</text>
<line x1="583.50" y1="873.50" x2="586.30" y2="873.50" stroke="#000" stroke-width="1.0" />
<text x="580.90" y="875.61" font-size="5.85" text-anchor="end" fill="#000" font-family="Liberation Sans" stroke="#000" stroke-width="0.12" >myosin binding</text>
<line x1="583.50" y1="885.50" x2="586.30" y2="885.50" stroke="#000" stroke-width="1.0" />
<text x="580.90" y="887.16" font-size="5.85" text-anchor="end" fill="#000" font-family="Liberation Sans" stroke="#000" stroke-width="0.12" >syntaxin binding</text>
<line x1="583.50" y1="896.50" x2="586.30" y2="896.50" stroke="#000" stroke-width="1.0" />
<text x="580.90" y="898.71" font-size="5.85" text-anchor="end" fill="#000" font-family="Liberation Sans" stroke="#000" stroke-width="0.12" >G protein activity</text>
<line x1="583.50" y1="908.50" x2="586.30" y2="908.50" stroke="#000" stroke-width="1.0" />
<text x="580.90" y="910.26" font-size="5.85" text-anchor="end" fill="#000" font-family="Liberation Sans" stroke="#000" stroke-width="0.12" >protein transporter activity</text>
<line x1="583.50" y1="919.50" x2="586.30" y2="919.50" stroke="#000" stroke-width="1.0" />
<text x="580.90" y="918.83" font-size="5.85" text-anchor="end" fill="#000" font-family="Liberation Sans" stroke="#000" stroke-width="0.12" >macromolecule transmembrane transporter</text>
<text x="580.90" y="924.78" font-size="5.85" text-anchor="end" fill="#000" font-family="Liberation Sans" stroke="#000" stroke-width="0.12" >activity</text>
<line x1="583.50" y1="931.50" x2="586.30" y2="931.50" stroke="#000" stroke-width="1.0" />
<text x="580.90" y="930.38" font-size="5.85" text-anchor="end" fill="#000" font-family="Liberation Sans" stroke="#000" stroke-width="0.12" >protein transmembrane transporter</text>
<text x="580.90" y="936.33" font-size="5.85" text-anchor="end" fill="#000" font-family="Liberation Sans" stroke="#000" stroke-width="0.12" >activity</text>
<line x1="583.50" y1="942.50" x2="586.30" y2="942.50" stroke="#000" stroke-width="1.0" />
<text x="580.90" y="944.91" font-size="5.85" text-anchor="end" fill="#000" font-family="Liberation Sans" stroke="#000" stroke-width="0.12" >myosin V binding</text>
<rect x="586.30" y="952.70" width="46.90" height="25.50" fill="#fff" stroke="none" stroke-width="0.5" />
<line x1="592.20" y1="952.70" x2="592.20" y2="978.20" stroke="#e3eaea" stroke-width="0.95" />
<line x1="605.20" y1="952.70" x2="605.20" y2="978.20" stroke="#e3eaea" stroke-width="0.95" />
<line x1="618.20" y1="952.70" x2="618.20" y2="978.20" stroke="#e3eaea" stroke-width="0.95" />
<line x1="631.20" y1="952.70" x2="631.20" y2="978.20" stroke="#e3eaea" stroke-width="0.95" />
<line x1="598.70" y1="952.70" x2="598.70" y2="978.20" stroke="#e3eaea" stroke-width="0.5" />
<line x1="611.70" y1="952.70" x2="611.70" y2="978.20" stroke="#e3eaea" stroke-width="0.5" />
<line x1="624.70" y1="952.70" x2="624.70" y2="978.20" stroke="#e3eaea" stroke-width="0.5" />
<line x1="586.30" y1="959.30" x2="633.20" y2="959.30" stroke="#e3eaea" stroke-width="0.95" />
<line x1="586.30" y1="970.70" x2="633.20" y2="970.70" stroke="#e3eaea" stroke-width="0.95" />
<defs><clipPath id="cp25"><rect x="586.3" y="952.7" width="46.90000000000009" height="25.5"/></clipPath></defs>
<g clip-path="url(#cp25)">
<circle cx="630.50" cy="959.30" r="3.40" fill="#0f37d2" stroke="none" stroke-width="0.5"/>
<circle cx="630.50" cy="970.70" r="3.40" fill="#0f37d2" stroke="none" stroke-width="0.5"/>
</g>
<rect x="633.20" y="952.70" width="13.20" height="25.50" fill="#d5dddd" stroke="#222" stroke-width="0.8" />
<text x="639.80" y="965.45" font-size="7.00" text-anchor="middle" fill="#1a1a1a" font-family="Liberation Sans" transform="rotate(90 639.80 965.45)" dy="2.45">KEGG</text>
<rect x="586.30" y="952.70" width="46.90" height="25.50" fill="none" stroke="#000" stroke-width="1.3" />
<line x1="583.50" y1="959.50" x2="586.30" y2="959.50" stroke="#000" stroke-width="1.0" />
<text x="580.90" y="958.43" font-size="5.85" text-anchor="end" fill="#000" font-family="Liberation Sans" stroke="#000" stroke-width="0.12" >Endocrine and other factor−regulated</text>
<text x="580.90" y="964.38" font-size="5.85" text-anchor="end" fill="#000" font-family="Liberation Sans" stroke="#000" stroke-width="0.12" >calcium reabsorption</text>
<line x1="583.50" y1="970.50" x2="586.30" y2="970.50" stroke="#000" stroke-width="1.0" />
<text x="580.90" y="972.81" font-size="5.85" text-anchor="end" fill="#000" font-family="Liberation Sans" stroke="#000" stroke-width="0.12" >Vasopressin−regulated water reabsorption</text>
<line x1="592.50" y1="978.20" x2="592.50" y2="981.00" stroke="#000" stroke-width="1.0" />
<text x="592.20" y="987.10" font-size="6.10" text-anchor="middle" fill="#222" font-family="Liberation Sans" stroke="#222" stroke-width="0.12" >0.2</text>
<line x1="605.50" y1="978.20" x2="605.50" y2="981.00" stroke="#000" stroke-width="1.0" />
<text x="605.20" y="987.10" font-size="6.10" text-anchor="middle" fill="#222" font-family="Liberation Sans" stroke="#222" stroke-width="0.12" >0.3</text>
<line x1="618.50" y1="978.20" x2="618.50" y2="981.00" stroke="#000" stroke-width="1.0" />
<text x="618.20" y="987.10" font-size="6.10" text-anchor="middle" fill="#222" font-family="Liberation Sans" stroke="#222" stroke-width="0.12" >0.4</text>
<line x1="631.50" y1="978.20" x2="631.50" y2="981.00" stroke="#000" stroke-width="1.0" />
<text x="631.20" y="987.10" font-size="6.10" text-anchor="middle" fill="#222" font-family="Liberation Sans" stroke="#222" stroke-width="0.12" >0.5</text>
<text x="610.20" y="996.10" font-size="7.10" text-anchor="middle" fill="#1a1a1a" font-family="Liberation Sans" stroke="#1a1a1a" stroke-width="0.12" >GeneRatio</text>
<text x="649.80" y="882.00" font-size="5.80" text-anchor="start" fill="#1a1a1a" font-family="Liberation Sans" stroke="#1a1a1a" stroke-width="0.12" >P adj</text>
<defs><linearGradient id="g26" x1="0" y1="0" x2="0" y2="1"><stop offset="0" stop-color="#ff050a"/><stop offset="0.25" stop-color="#c81432"/><stop offset="0.5" stop-color="#8c1964"/><stop offset="0.75" stop-color="#5a2396"/><stop offset="1" stop-color="#192ddc"/></linearGradient></defs>
<rect x="649.80" y="884.00" width="8.20" height="39.90" fill="url(#g26)" stroke="none" stroke-width="0.5" />
<line x1="649.80" y1="889.60" x2="651.40" y2="889.60" stroke="#fff" stroke-width="0.5" />
<line x1="656.40" y1="889.60" x2="658.00" y2="889.60" stroke="#fff" stroke-width="0.5" />
<line x1="649.80" y1="900.10" x2="651.40" y2="900.10" stroke="#fff" stroke-width="0.5" />
<line x1="656.40" y1="900.10" x2="658.00" y2="900.10" stroke="#fff" stroke-width="0.5" />
<line x1="649.80" y1="910.50" x2="651.40" y2="910.50" stroke="#fff" stroke-width="0.5" />
<line x1="656.40" y1="910.50" x2="658.00" y2="910.50" stroke="#fff" stroke-width="0.5" />
<line x1="649.80" y1="920.90" x2="651.40" y2="920.90" stroke="#fff" stroke-width="0.5" />
<line x1="656.40" y1="920.90" x2="658.00" y2="920.90" stroke="#fff" stroke-width="0.5" />
<text x="661.00" y="891.69" font-size="5.80" text-anchor="start" fill="#222" font-family="Liberation Sans" stroke="#222" stroke-width="0.12" >0.07</text>
<text x="661.00" y="902.19" font-size="5.80" text-anchor="start" fill="#222" font-family="Liberation Sans" stroke="#222" stroke-width="0.12" >0.06</text>
<text x="661.00" y="912.59" font-size="5.80" text-anchor="start" fill="#222" font-family="Liberation Sans" stroke="#222" stroke-width="0.12" >0.05</text>
<text x="661.00" y="922.99" font-size="5.80" text-anchor="start" fill="#222" font-family="Liberation Sans" stroke="#222" stroke-width="0.12" >0.04</text>
<text x="649.80" y="933.80" font-size="5.80" text-anchor="start" fill="#1a1a1a" font-family="Liberation Sans" stroke="#1a1a1a" stroke-width="0.12" >Counts</text>
<circle cx="653.80" cy="939.90" r="3.50" fill="#c9d1d1" stroke="#1a1a1a" stroke-width="0.8"/>
<text x="661.70" y="941.99" font-size="5.80" text-anchor="start" fill="#222" font-family="Liberation Sans" stroke="#222" stroke-width="0.12" >1</text></svg></body></html>
